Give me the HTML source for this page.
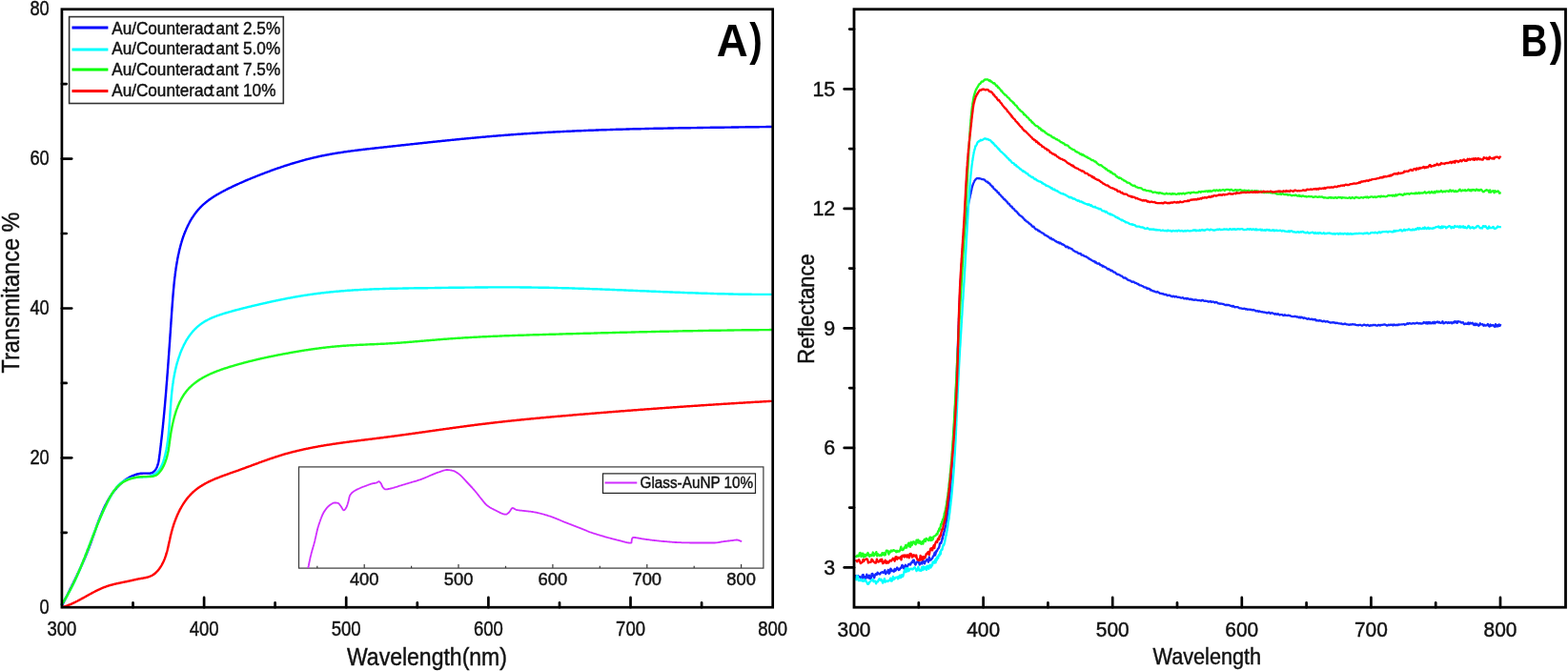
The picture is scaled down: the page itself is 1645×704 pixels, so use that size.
<!DOCTYPE html>
<html><head><meta charset="utf-8"><title>Transmittance and Reflectance spectra</title>
<style>html,body{margin:0;padding:0;background:#fff;width:1645px;height:704px;overflow:hidden}svg{display:block}</style>
</head><body>
<svg width="1645" height="704" viewBox="0 0 1645 704">
<rect width="1645" height="704" fill="#fff"/>
<g font-family="'Liberation Sans', Arial, sans-serif">
<polyline points="65.4,634.6 65.7,634.0 65.9,633.5 66.2,632.9 66.5,632.4 66.8,631.8 67.1,631.3 67.3,630.7 67.6,630.2 67.9,629.6 68.2,629.1 68.5,628.5 68.7,628.0 69.0,627.4 69.3,626.9 69.6,626.3 69.8,625.8 70.1,625.3 70.4,624.7 70.7,624.2 70.9,623.6 71.2,623.1 71.5,622.5 71.7,622.0 72.0,621.5 72.3,620.9 72.6,620.4 72.8,619.8 73.1,619.3 73.4,618.8 73.6,618.2 73.9,617.7 74.2,617.1 74.5,616.6 74.7,616.1 75.0,615.5 75.3,615.0 75.5,614.4 75.8,613.9 76.0,613.4 76.3,612.8 76.6,612.3 76.8,611.8 77.1,611.2 77.4,610.7 77.6,610.1 77.9,609.6 78.2,609.1 78.4,608.5 78.7,608.0 78.9,607.5 79.2,606.9 79.4,606.4 79.7,605.9 80.0,605.3 80.2,604.8 80.5,604.2 80.7,603.7 81.0,603.2 81.2,602.6 81.5,602.1 81.7,601.6 82.0,601.0 82.2,600.5 82.5,600.0 82.8,599.4 83.0,598.9 83.2,598.3 83.5,597.8 83.7,597.3 84.0,596.7 84.2,596.2 84.5,595.6 84.7,595.1 85.0,594.6 85.2,594.0 85.5,593.5 85.7,592.9 85.9,592.4 86.2,591.9 86.4,591.3 86.7,590.8 86.9,590.2 87.1,589.7 87.4,589.1 87.6,588.6 87.9,588.1 88.1,587.5 88.3,587.0 88.6,586.4 88.8,585.9 89.0,585.3 89.3,584.8 89.5,584.2 89.7,583.7 89.9,583.1 90.2,582.6 90.4,582.0 90.6,581.5 90.9,580.9 91.1,580.4 91.3,579.8 91.5,579.3 91.7,578.7 92.0,578.2 92.2,577.6 92.4,577.0 92.6,576.5 92.8,575.9 93.1,575.4 93.3,574.8 93.5,574.3 93.7,573.7 93.9,573.1 94.1,572.6 94.3,572.0 94.6,571.4 94.8,570.9 95.0,570.3 95.2,569.7 95.4,569.2 95.6,568.6 95.8,568.0 96.0,567.5 96.2,566.9 96.4,566.3 96.6,565.7 96.8,565.2 97.0,564.6 97.2,564.0 97.4,563.4 97.6,562.9 97.9,562.3 98.1,561.7 98.3,561.1 98.5,560.6 98.7,560.0 98.9,559.4 99.1,558.8 99.3,558.3 99.5,557.7 99.7,557.1 99.9,556.5 100.1,556.0 100.3,555.4 100.5,554.8 100.7,554.2 100.9,553.7 101.1,553.1 101.3,552.5 101.5,551.9 101.7,551.4 101.9,550.8 102.1,550.2 102.3,549.6 102.5,549.1 102.8,548.5 103.0,547.9 103.2,547.3 103.4,546.8 103.6,546.2 103.8,545.6 104.0,545.1 104.3,544.5 104.5,543.9 104.7,543.4 104.9,542.8 105.1,542.2 105.4,541.7 105.6,541.1 105.8,540.6 106.1,540.0 106.3,539.4 106.5,538.9 106.7,538.3 107.0,537.8 107.2,537.2 107.5,536.7 107.7,536.1 107.9,535.6 108.2,535.0 108.4,534.5 108.7,533.9 108.9,533.4 109.2,532.8 109.4,532.3 109.7,531.7 110.0,531.2 110.2,530.7 110.5,530.1 110.8,529.6 111.0,529.1 111.3,528.6 111.6,528.0 111.9,527.5 112.1,527.0 112.4,526.5 112.7,525.9 113.0,525.4 113.3,524.9 113.6,524.4 113.9,523.9 114.2,523.4 114.5,522.9 114.8,522.4 115.1,521.9 115.4,521.4 115.7,520.9 116.0,520.4 116.3,519.9 116.7,519.4 117.0,518.9 117.3,518.4 117.7,518.0 118.0,517.5 118.3,517.0 118.7,516.5 119.0,516.1 119.4,515.6 119.8,515.1 120.1,514.7 120.5,514.2 120.8,513.8 121.2,513.3 121.6,512.9 122.0,512.4 122.4,512.0 122.7,511.5 123.1,511.1 123.5,510.7 123.9,510.2 124.3,509.8 124.7,509.4 125.2,509.0 125.6,508.5 126.0,508.1 126.4,507.7 126.9,507.3 127.3,506.9 127.7,506.5 128.2,506.2 128.6,505.8 129.1,505.4 129.5,505.0 130.0,504.7 130.4,504.3 130.9,503.9 131.4,503.6 131.9,503.3 132.3,502.9 132.8,502.6 133.3,502.3 133.8,502.0 134.3,501.7 134.8,501.4 135.3,501.1 135.8,500.8 136.3,500.5 136.8,500.2 137.3,500.0 137.9,499.7 138.4,499.5 138.9,499.2 139.5,499.0 140.0,498.8 140.6,498.6 141.1,498.4 141.7,498.2 142.2,498.0 142.8,497.8 143.3,497.7 143.9,497.5 144.5,497.4 145.1,497.3 145.6,497.1 146.2,497.0 146.8,496.9 147.4,496.8 148.0,496.8 148.6,496.7 149.2,496.7 149.8,496.6 150.4,496.6 151.0,496.6 151.7,496.6 152.3,496.6 152.9,496.6 153.5,496.6 154.2,496.6 154.8,496.6 155.4,496.6 156.0,496.6 156.6,496.6 157.2,496.6 157.8,496.5 158.3,496.4 158.8,496.2 159.4,496.1 159.8,495.9 160.3,495.6 160.8,495.3 161.2,495.0 161.6,494.6 162.0,494.2 162.4,493.8 162.7,493.4 163.1,492.9 163.4,492.5 163.7,492.0 164.0,491.5 164.2,491.0 164.5,490.5 164.7,490.0 164.9,489.4 165.1,488.9 165.3,488.3 165.5,487.8 165.7,487.2 165.8,486.6 166.0,486.0 166.1,485.5 166.2,484.9 166.4,484.3 166.5,483.7 166.6,483.1 166.7,482.4 166.8,481.8 166.9,481.2 167.0,480.6 167.1,480.0 167.1,479.4 167.2,478.7 167.3,478.1 167.4,477.5 167.5,476.9 167.5,476.3 167.6,475.7 167.7,475.0 167.8,474.4 167.9,473.8 167.9,473.2 168.0,472.6 168.1,472.0 168.2,471.4 168.2,470.7 168.3,470.1 168.4,469.5 168.5,468.9 168.5,468.3 168.6,467.7 168.7,467.1 168.8,466.5 168.8,465.9 168.9,465.3 169.0,464.6 169.0,464.0 169.1,463.4 169.2,462.8 169.2,462.2 169.3,461.6 169.4,461.0 169.5,460.4 169.5,459.8 169.6,459.2 169.7,458.6 169.7,458.0 169.8,457.4 169.9,456.8 169.9,456.2 170.0,455.6 170.1,455.0 170.1,454.4 170.2,453.8 170.2,453.2 170.3,452.6 170.4,452.0 170.4,451.4 170.5,450.8 170.6,450.2 170.6,449.6 170.7,449.0 170.8,448.4 170.8,447.8 170.9,447.2 170.9,446.6 171.0,446.0 171.1,445.4 171.1,444.8 171.2,444.2 171.2,443.6 171.3,443.0 171.4,442.4 171.4,441.8 171.5,441.2 171.5,440.6 171.6,440.0 171.6,439.4 171.7,438.8 171.8,438.3 171.8,437.7 171.9,437.1 171.9,436.5 172.0,435.9 172.0,435.3 172.1,434.7 172.2,434.1 172.2,433.5 172.3,432.9 172.3,432.3 172.4,431.7 172.4,431.1 172.5,430.5 172.5,429.9 172.6,429.4 172.6,428.8 172.7,428.2 172.7,427.6 172.8,427.0 172.9,426.4 172.9,425.8 173.0,425.2 173.0,424.6 173.1,424.0 173.1,423.4 173.2,422.8 173.2,422.2 173.3,421.6 173.3,421.1 173.4,420.5 173.4,419.9 173.5,419.3 173.5,418.7 173.6,418.1 173.6,417.5 173.7,416.9 173.7,416.3 173.8,415.7 173.8,415.1 173.9,414.5 173.9,413.9 174.0,413.3 174.0,412.8 174.1,412.2 174.1,411.6 174.2,411.0 174.2,410.4 174.3,409.8 174.3,409.2 174.4,408.6 174.4,408.0 174.5,407.4 174.5,406.8 174.5,406.2 174.6,405.6 174.6,405.0 174.7,404.4 174.7,403.8 174.8,403.2 174.8,402.6 174.9,402.0 174.9,401.4 175.0,400.8 175.0,400.3 175.1,399.7 175.1,399.1 175.2,398.5 175.2,397.9 175.3,397.3 175.3,396.7 175.3,396.1 175.4,395.5 175.4,394.9 175.5,394.3 175.5,393.7 175.6,393.1 175.6,392.5 175.7,391.9 175.7,391.3 175.8,390.7 175.8,390.1 175.8,389.5 175.9,388.9 175.9,388.3 176.0,387.7 176.0,387.1 176.1,386.5 176.1,385.9 176.2,385.3 176.2,384.7 176.2,384.1 176.3,383.5 176.3,382.9 176.4,382.3 176.4,381.7 176.5,381.1 176.5,380.5 176.6,379.9 176.6,379.3 176.6,378.7 176.7,378.1 176.7,377.5 176.8,376.9 176.8,376.3 176.9,375.7 176.9,375.1 176.9,374.5 177.0,373.9 177.0,373.3 177.1,372.7 177.1,372.1 177.2,371.5 177.2,370.9 177.2,370.3 177.3,369.7 177.3,369.1 177.4,368.5 177.4,367.9 177.5,367.3 177.5,366.7 177.5,366.1 177.6,365.5 177.6,364.9 177.7,364.3 177.7,363.7 177.8,363.1 177.8,362.5 177.8,361.9 177.9,361.3 177.9,360.7 178.0,360.1 178.0,359.5 178.1,358.9 178.1,358.3 178.1,357.7 178.2,357.1 178.2,356.5 178.3,355.9 178.3,355.3 178.3,354.7 178.4,354.1 178.4,353.5 178.5,352.9 178.5,352.3 178.5,351.7 178.6,351.1 178.6,350.5 178.7,349.9 178.7,349.3 178.8,348.7 178.8,348.1 178.8,347.5 178.9,346.9 178.9,346.2 179.0,345.6 179.0,345.0 179.0,344.4 179.1,343.8 179.1,343.2 179.2,342.6 179.2,342.0 179.2,341.4 179.3,340.8 179.3,340.2 179.4,339.6 179.4,339.0 179.4,338.4 179.5,337.8 179.5,337.2 179.6,336.6 179.6,336.0 179.6,335.4 179.7,334.8 179.7,334.2 179.8,333.6 179.8,333.0 179.9,332.4 179.9,331.8 179.9,331.2 180.0,330.6 180.0,330.0 180.1,329.4 180.1,328.8 180.1,328.2 180.2,327.6 180.2,327.0 180.3,326.4 180.3,325.8 180.4,325.2 180.4,324.6 180.4,324.0 180.5,323.4 180.5,322.8 180.6,322.2 180.6,321.6 180.7,321.0 180.7,320.5 180.7,319.9 180.8,319.3 180.8,318.7 180.9,318.1 180.9,317.5 181.0,316.9 181.0,316.3 181.1,315.7 181.1,315.1 181.2,314.5 181.2,313.9 181.2,313.3 181.3,312.7 181.3,312.1 181.4,311.5 181.4,310.9 181.5,310.3 181.5,309.7 181.6,309.1 181.6,308.5 181.7,308.0 181.7,307.4 181.8,306.8 181.8,306.2 181.9,305.6 181.9,305.0 182.0,304.4 182.0,303.8 182.1,303.2 182.2,302.6 182.2,302.0 182.3,301.5 182.3,300.9 182.4,300.3 182.4,299.7 182.5,299.1 182.5,298.5 182.6,297.9 182.7,297.3 182.7,296.7 182.8,296.1 182.8,295.6 182.9,295.0 183.0,294.4 183.0,293.8 183.1,293.2 183.2,292.6 183.2,292.0 183.3,291.4 183.4,290.8 183.4,290.2 183.5,289.7 183.6,289.1 183.7,288.5 183.7,287.9 183.8,287.3 183.9,286.7 184.0,286.1 184.0,285.5 184.1,284.9 184.2,284.3 184.3,283.8 184.4,283.2 184.4,282.6 184.5,282.0 184.6,281.4 184.7,280.8 184.8,280.2 184.9,279.6 185.0,279.0 185.1,278.4 185.2,277.8 185.3,277.2 185.4,276.6 185.5,276.0 185.6,275.4 185.7,274.8 185.8,274.2 185.9,273.7 186.0,273.1 186.1,272.5 186.2,271.9 186.3,271.3 186.4,270.7 186.6,270.1 186.7,269.5 186.8,268.9 186.9,268.3 187.0,267.7 187.2,267.1 187.3,266.5 187.4,265.9 187.6,265.3 187.7,264.7 187.8,264.1 188.0,263.5 188.1,262.9 188.2,262.3 188.4,261.7 188.5,261.1 188.7,260.5 188.8,259.9 189.0,259.3 189.1,258.8 189.3,258.2 189.4,257.6 189.6,257.0 189.8,256.4 189.9,255.8 190.1,255.2 190.3,254.6 190.4,254.1 190.6,253.5 190.8,252.9 191.0,252.3 191.2,251.7 191.3,251.2 191.5,250.6 191.7,250.0 191.9,249.4 192.1,248.8 192.3,248.3 192.5,247.7 192.7,247.1 192.9,246.6 193.1,246.0 193.3,245.4 193.6,244.9 193.8,244.3 194.0,243.7 194.2,243.2 194.5,242.6 194.7,242.1 194.9,241.5 195.2,241.0 195.4,240.4 195.6,239.9 195.9,239.3 196.1,238.8 196.4,238.2 196.6,237.7 196.9,237.1 197.1,236.6 197.4,236.1 197.7,235.5 198.0,235.0 198.2,234.5 198.5,234.0 198.8,233.4 199.1,232.9 199.4,232.4 199.6,231.9 199.9,231.4 200.2,230.9 200.5,230.4 200.8,229.8 201.1,229.3 201.5,228.8 201.8,228.3 202.1,227.8 202.4,227.4 202.7,226.9 203.1,226.4 203.4,225.9 203.7,225.4 204.1,224.9 204.4,224.5 204.8,224.0 205.1,223.5 205.5,223.1 205.9,222.6 206.2,222.1 206.6,221.7 207.0,221.2 207.3,220.8 207.7,220.3 208.1,219.9 208.5,219.4 208.9,219.0 209.3,218.6 209.7,218.1 210.1,217.7 210.5,217.3 210.9,216.9 211.3,216.5 211.7,216.0 212.2,215.6 212.6,215.2 213.0,214.8 213.5,214.4 213.9,214.0 214.4,213.7 214.8,213.3 215.3,212.9 215.7,212.5 216.2,212.1 216.7,211.8 217.1,211.4 217.6,211.0 218.1,210.7 218.5,210.3 219.0,209.9 219.5,209.6 220.0,209.2 220.5,208.9 221.0,208.5 221.5,208.2 222.0,207.8 222.5,207.5 223.0,207.2 223.5,206.8 224.0,206.5 224.5,206.2 225.0,205.9 225.5,205.5 226.1,205.2 226.6,204.9 227.1,204.6 227.6,204.3 228.1,204.0 228.7,203.7 229.2,203.4 229.7,203.1 230.3,202.8 230.8,202.5 231.3,202.2 231.9,201.9 232.4,201.6 232.9,201.3 233.5,201.0 234.0,200.7 234.6,200.4 235.1,200.1 235.6,199.9 236.2,199.6 236.7,199.3 237.3,199.0 237.8,198.7 238.4,198.5 238.9,198.2 239.4,197.9 240.0,197.7 240.5,197.4 241.1,197.1 241.6,196.9 242.2,196.6 242.7,196.3 243.3,196.1 243.8,195.8 244.3,195.5 244.9,195.3 245.4,195.0 246.0,194.8 246.5,194.5 247.1,194.3 247.6,194.0 248.2,193.8 248.7,193.5 249.3,193.3 249.8,193.0 250.3,192.8 250.9,192.5 251.4,192.3 252.0,192.0 252.5,191.8 253.1,191.6 253.6,191.3 254.2,191.1 254.7,190.8 255.3,190.6 255.8,190.4 256.4,190.1 256.9,189.9 257.5,189.7 258.0,189.4 258.5,189.2 259.1,189.0 259.6,188.7 260.2,188.5 260.7,188.3 261.3,188.0 261.8,187.8 262.4,187.6 262.9,187.3 263.5,187.1 264.0,186.9 264.6,186.7 265.1,186.5 265.7,186.2 266.2,186.0 266.8,185.8 267.3,185.6 267.9,185.3 268.5,185.1 269.0,184.9 269.6,184.7 270.1,184.5 270.7,184.2 271.2,184.0 271.8,183.8 272.3,183.6 272.9,183.4 273.4,183.2 274.0,182.9 274.6,182.7 275.1,182.5 275.7,182.3 276.2,182.1 276.8,181.9 277.3,181.7 277.9,181.4 278.5,181.2 279.0,181.0 279.6,180.8 280.1,180.6 280.7,180.4 281.3,180.2 281.8,180.0 282.4,179.8 282.9,179.6 283.5,179.4 284.1,179.2 284.6,178.9 285.2,178.7 285.8,178.5 286.3,178.3 286.9,178.1 287.4,177.9 288.0,177.7 288.6,177.5 289.1,177.3 289.7,177.1 290.3,176.9 290.8,176.7 291.4,176.5 292.0,176.3 292.5,176.1 293.1,176.0 293.7,175.8 294.2,175.6 294.8,175.4 295.4,175.2 296.0,175.0 296.5,174.8 297.1,174.6 297.7,174.4 298.2,174.2 298.8,174.0 299.4,173.9 299.9,173.7 300.5,173.5 301.1,173.3 301.7,173.1 302.2,172.9 302.8,172.8 303.4,172.6 304.0,172.4 304.5,172.2 305.1,172.0 305.7,171.9 306.2,171.7 306.8,171.5 307.4,171.3 308.0,171.2 308.5,171.0 309.1,170.8 309.7,170.6 310.3,170.5 310.8,170.3 311.4,170.1 312.0,170.0 312.6,169.8 313.2,169.6 313.7,169.5 314.3,169.3 314.9,169.1 315.5,169.0 316.0,168.8 316.6,168.6 317.2,168.5 317.8,168.3 318.4,168.2 318.9,168.0 319.5,167.9 320.1,167.7 320.7,167.5 321.3,167.4 321.8,167.2 322.4,167.1 323.0,166.9 323.6,166.8 324.2,166.6 324.8,166.5 325.3,166.4 325.9,166.2 326.5,166.1 327.1,165.9 327.7,165.8 328.3,165.6 328.8,165.5 329.4,165.4 330.0,165.2 330.6,165.1 331.2,165.0 331.8,164.8 332.3,164.7 332.9,164.6 333.5,164.4 334.1,164.3 334.7,164.2 335.3,164.0 335.9,163.9 336.4,163.8 337.0,163.7 337.6,163.5 338.2,163.4 338.8,163.3 339.4,163.2 340.0,163.1 340.6,163.0 341.1,162.8 341.7,162.7 342.3,162.6 342.9,162.5 343.5,162.4 344.1,162.3 344.7,162.2 345.3,162.1 345.9,161.9 346.4,161.8 347.0,161.7 347.6,161.6 348.2,161.5 348.8,161.4 349.4,161.3 350.0,161.2 350.6,161.1 351.2,161.0 351.8,160.9 352.3,160.8 352.9,160.7 353.5,160.6 354.1,160.5 354.7,160.4 355.3,160.3 355.9,160.2 356.5,160.2 357.1,160.1 357.7,160.0 358.3,159.9 358.9,159.8 359.4,159.7 360.0,159.6 360.6,159.5 361.2,159.4 361.8,159.3 362.4,159.3 363.0,159.2 363.6,159.1 364.2,159.0 364.8,158.9 365.4,158.8 366.0,158.8 366.6,158.7 367.2,158.6 367.8,158.5 368.3,158.4 368.9,158.4 369.5,158.3 370.1,158.2 370.7,158.1 371.3,158.1 371.9,158.0 372.5,157.9 373.1,157.8 373.7,157.8 374.3,157.7 374.9,157.6 375.5,157.5 376.1,157.5 376.7,157.4 377.3,157.3 377.9,157.2 378.5,157.2 379.1,157.1 379.7,157.0 380.2,157.0 380.8,156.9 381.4,156.8 382.0,156.7 382.6,156.7 383.2,156.6 383.8,156.5 384.4,156.5 385.0,156.4 385.6,156.3 386.2,156.3 386.8,156.2 387.4,156.1 388.0,156.1 388.6,156.0 389.2,155.9 389.8,155.9 390.4,155.8 391.0,155.7 391.6,155.7 392.2,155.6 392.8,155.5 393.4,155.5 394.0,155.4 394.6,155.3 395.2,155.3 395.7,155.2 396.3,155.1 396.9,155.1 397.5,155.0 398.1,154.9 398.7,154.9 399.3,154.8 399.9,154.8 400.5,154.7 401.1,154.6 401.7,154.6 402.3,154.5 402.9,154.4 403.5,154.4 404.1,154.3 404.7,154.2 405.3,154.2 405.9,154.1 406.5,154.0 407.1,154.0 407.7,153.9 408.3,153.8 408.9,153.8 409.5,153.7 410.1,153.6 410.7,153.6 411.3,153.5 411.9,153.5 412.5,153.4 413.1,153.3 413.6,153.3 414.2,153.2 414.8,153.1 415.4,153.1 416.0,153.0 416.6,152.9 417.2,152.9 417.8,152.8 418.4,152.7 419.0,152.7 419.6,152.6 420.2,152.5 420.8,152.5 421.4,152.4 422.0,152.3 422.6,152.3 423.2,152.2 423.8,152.2 424.4,152.1 425.0,152.0 425.6,152.0 426.2,151.9 426.8,151.8 427.4,151.8 428.0,151.7 428.6,151.6 429.2,151.6 429.8,151.5 430.3,151.4 430.9,151.4 431.5,151.3 432.1,151.2 432.7,151.2 433.3,151.1 433.9,151.1 434.5,151.0 435.1,150.9 435.7,150.9 436.3,150.8 436.9,150.7 437.5,150.7 438.1,150.6 438.7,150.5 439.3,150.5 439.9,150.4 440.5,150.4 441.1,150.3 441.7,150.2 442.3,150.2 442.9,150.1 443.5,150.0 444.1,150.0 444.7,149.9 445.3,149.8 445.9,149.8 446.5,149.7 447.1,149.7 447.6,149.6 448.2,149.5 448.8,149.5 449.4,149.4 450.0,149.3 450.6,149.3 451.2,149.2 451.8,149.1 452.4,149.1 453.0,149.0 453.6,149.0 454.2,148.9 454.8,148.8 455.4,148.8 456.0,148.7 456.6,148.6 457.2,148.6 457.8,148.5 458.4,148.5 459.0,148.4 459.6,148.3 460.2,148.3 460.8,148.2 461.4,148.2 462.0,148.1 462.6,148.0 463.2,148.0 463.8,147.9 464.4,147.8 465.0,147.8 465.5,147.7 466.1,147.7 466.7,147.6 467.3,147.5 467.9,147.5 468.5,147.4 469.1,147.4 469.7,147.3 470.3,147.2 470.9,147.2 471.5,147.1 472.1,147.1 472.7,147.0 473.3,146.9 473.9,146.9 474.5,146.8 475.1,146.8 475.7,146.7 476.3,146.6 476.9,146.6 477.5,146.5 478.1,146.5 478.7,146.4 479.3,146.3 479.9,146.3 480.5,146.2 481.1,146.2 481.7,146.1 482.3,146.0 482.9,146.0 483.5,145.9 484.0,145.9 484.6,145.8 485.2,145.8 485.8,145.7 486.4,145.6 487.0,145.6 487.6,145.5 488.2,145.5 488.8,145.4 489.4,145.4 490.0,145.3 490.6,145.2 491.2,145.2 491.8,145.1 492.4,145.1 493.0,145.0 493.6,145.0 494.2,144.9 494.8,144.9 495.4,144.8 496.0,144.7 496.6,144.7 497.2,144.6 497.8,144.6 498.4,144.5 499.0,144.5 499.6,144.4 500.2,144.4 500.8,144.3 501.4,144.2 502.0,144.2 502.6,144.1 503.2,144.1 503.8,144.0 504.3,144.0 504.9,143.9 505.5,143.9 506.1,143.8 506.7,143.8 507.3,143.7 507.9,143.7 508.5,143.6 509.1,143.6 509.7,143.5 510.3,143.4 510.9,143.4 511.5,143.3 512.1,143.3 512.7,143.2 513.3,143.2 513.9,143.1 514.5,143.1 515.1,143.0 515.7,143.0 516.3,142.9 516.9,142.9 517.5,142.8 518.1,142.8 518.7,142.7 519.3,142.7 519.9,142.6 520.5,142.6 521.1,142.5 521.7,142.5 522.3,142.4 522.9,142.4 523.5,142.3 524.1,142.3 524.7,142.2 525.3,142.2 525.9,142.1 526.5,142.1 527.1,142.1 527.7,142.0 528.3,142.0 528.8,141.9 529.4,141.9 530.0,141.8 530.6,141.8 531.2,141.7 531.8,141.7 532.4,141.6 533.0,141.6 533.6,141.5 534.2,141.5 534.8,141.5 535.4,141.4 536.0,141.4 536.6,141.3 537.2,141.3 537.8,141.2 538.4,141.2 539.0,141.1 539.6,141.1 540.2,141.1 540.8,141.0 541.4,141.0 542.0,140.9 542.6,140.9 543.2,140.8 543.8,140.8 544.4,140.8 545.0,140.7 545.6,140.7 546.2,140.6 546.8,140.6 547.4,140.5 548.0,140.5 548.6,140.5 549.2,140.4 549.8,140.4 550.4,140.3 551.0,140.3 551.6,140.3 552.2,140.2 552.8,140.2 553.4,140.1 554.0,140.1 554.6,140.1 555.2,140.0 555.8,140.0 556.4,140.0 557.0,139.9 557.6,139.9 558.2,139.8 558.8,139.8 559.4,139.8 560.0,139.7 560.6,139.7 561.2,139.7 561.8,139.6 562.4,139.6 563.0,139.5 563.5,139.5 564.1,139.5 564.7,139.4 565.3,139.4 565.9,139.4 566.5,139.3 567.1,139.3 567.7,139.3 568.3,139.2 568.9,139.2 569.5,139.1 570.1,139.1 570.7,139.1 571.3,139.0 571.9,139.0 572.5,139.0 573.1,138.9 573.7,138.9 574.3,138.9 574.9,138.8 575.5,138.8 576.1,138.8 576.7,138.7 577.3,138.7 577.9,138.7 578.5,138.6 579.1,138.6 579.7,138.6 580.3,138.5 580.9,138.5 581.5,138.5 582.1,138.5 582.7,138.4 583.3,138.4 583.9,138.4 584.5,138.3 585.1,138.3 585.7,138.3 586.3,138.2 586.9,138.2 587.5,138.2 588.1,138.1 588.7,138.1 589.3,138.1 589.9,138.1 590.5,138.0 591.1,138.0 591.7,138.0 592.3,137.9 592.9,137.9 593.5,137.9 594.1,137.9 594.7,137.8 595.3,137.8 595.9,137.8 596.5,137.7 597.1,137.7 597.7,137.7 598.3,137.7 598.9,137.6 599.5,137.6 600.1,137.6 600.7,137.5 601.3,137.5 601.9,137.5 602.5,137.5 603.1,137.4 603.7,137.4 604.3,137.4 604.9,137.4 605.5,137.3 606.1,137.3 606.7,137.3 607.3,137.3 607.9,137.2 608.5,137.2 609.1,137.2 609.7,137.2 610.3,137.1 610.9,137.1 611.5,137.1 612.1,137.1 612.7,137.0 613.3,137.0 613.9,137.0 614.5,137.0 615.1,136.9 615.7,136.9 616.3,136.9 616.9,136.9 617.5,136.8 618.1,136.8 618.7,136.8 619.3,136.8 619.9,136.7 620.5,136.7 621.1,136.7 621.7,136.7 622.3,136.7 622.9,136.6 623.5,136.6 624.1,136.6 624.7,136.6 625.3,136.5 625.9,136.5 626.5,136.5 627.1,136.5 627.7,136.5 628.3,136.4 628.9,136.4 629.5,136.4 630.1,136.4 630.7,136.4 631.3,136.3 631.9,136.3 632.5,136.3 633.1,136.3 633.7,136.3 634.3,136.2 634.9,136.2 635.5,136.2 636.1,136.2 636.7,136.1 637.3,136.1 637.9,136.1 638.5,136.1 639.1,136.1 639.7,136.1 640.3,136.0 640.9,136.0 641.5,136.0 642.1,136.0 642.7,136.0 643.3,135.9 643.9,135.9 644.5,135.9 645.1,135.9 645.7,135.9 646.3,135.8 646.9,135.8 647.5,135.8 648.1,135.8 648.7,135.8 649.3,135.8 649.9,135.7 650.5,135.7 651.1,135.7 651.7,135.7 652.3,135.7 652.9,135.7 653.5,135.6 654.1,135.6 654.7,135.6 655.3,135.6 655.9,135.6 656.5,135.6 657.1,135.5 657.7,135.5 658.3,135.5 658.9,135.5 659.5,135.5 660.1,135.5 660.7,135.4 661.3,135.4 661.9,135.4 662.5,135.4 663.1,135.4 663.7,135.4 664.3,135.3 664.9,135.3 665.5,135.3 666.1,135.3 666.7,135.3 667.3,135.3 667.9,135.3 668.5,135.2 669.1,135.2 669.7,135.2 670.3,135.2 670.9,135.2 671.5,135.2 672.1,135.2 672.7,135.1 673.3,135.1 673.9,135.1 674.5,135.1 675.1,135.1 675.7,135.1 676.3,135.1 676.9,135.0 677.5,135.0 678.1,135.0 678.7,135.0 679.3,135.0 679.9,135.0 680.5,135.0 681.1,134.9 681.7,134.9 682.3,134.9 682.9,134.9 683.5,134.9 684.1,134.9 684.7,134.9 685.3,134.9 685.9,134.8 686.5,134.8 687.1,134.8 687.7,134.8 688.3,134.8 688.9,134.8 689.5,134.8 690.1,134.8 690.7,134.7 691.3,134.7 691.9,134.7 692.5,134.7 693.1,134.7 693.7,134.7 694.3,134.7 694.9,134.7 695.5,134.7 696.1,134.6 696.7,134.6 697.3,134.6 697.9,134.6 698.5,134.6 699.1,134.6 699.7,134.6 700.3,134.6 700.9,134.5 701.5,134.5 702.1,134.5 702.7,134.5 703.3,134.5 703.9,134.5 704.5,134.5 705.1,134.5 705.7,134.5 706.3,134.5 706.9,134.4 707.5,134.4 708.1,134.4 708.7,134.4 709.3,134.4 709.9,134.4 710.5,134.4 711.1,134.4 711.7,134.4 712.3,134.3 712.9,134.3 713.5,134.3 714.1,134.3 714.7,134.3 715.3,134.3 715.9,134.3 716.5,134.3 717.1,134.3 717.7,134.3 718.3,134.2 718.9,134.2 719.5,134.2 720.1,134.2 720.7,134.2 721.3,134.2 721.9,134.2 722.5,134.2 723.1,134.2 723.7,134.2 724.3,134.2 724.9,134.1 725.5,134.1 726.1,134.1 726.7,134.1 727.3,134.1 727.9,134.1 728.5,134.1 729.1,134.1 729.7,134.1 730.3,134.1 730.9,134.1 731.5,134.0 732.1,134.0 732.7,134.0 733.3,134.0 733.9,134.0 734.5,134.0 735.1,134.0 735.7,134.0 736.3,134.0 736.9,134.0 737.5,134.0 738.1,133.9 738.7,133.9 739.3,133.9 739.9,133.9 740.5,133.9 741.1,133.9 741.7,133.9 742.3,133.9 742.9,133.9 743.5,133.9 744.1,133.9 744.7,133.9 745.3,133.8 745.9,133.8 746.5,133.8 747.1,133.8 747.7,133.8 748.3,133.8 748.9,133.8 749.5,133.8 750.1,133.8 750.7,133.8 751.3,133.8 751.9,133.8 752.5,133.7 753.1,133.7 753.7,133.7 754.3,133.7 754.9,133.7 755.5,133.7 756.1,133.7 756.7,133.7 757.3,133.7 757.9,133.7 758.5,133.7 759.1,133.7 759.7,133.7 760.3,133.6 760.9,133.6 761.5,133.6 762.1,133.6 762.7,133.6 763.3,133.6 763.9,133.6 764.5,133.6 765.1,133.6 765.7,133.6 766.3,133.6 766.9,133.6 767.5,133.5 768.1,133.5 768.7,133.5 769.3,133.5 769.9,133.5 770.5,133.5 771.1,133.5 771.7,133.5 772.3,133.5 772.9,133.5 773.5,133.5 774.1,133.5 774.7,133.5 775.3,133.4 775.9,133.4 776.5,133.4 777.1,133.4 777.7,133.4 778.3,133.4 778.9,133.4 779.5,133.4 780.1,133.4 780.7,133.4 781.3,133.4 781.8,133.4 782.4,133.3 783.0,133.3 783.6,133.3 784.2,133.3 784.8,133.3 785.4,133.3 786.0,133.3 786.6,133.3 787.2,133.3 787.8,133.3 788.4,133.3 789.0,133.3 789.6,133.2 790.2,133.2 790.8,133.2 791.4,133.2 792.0,133.2 792.6,133.2 793.2,133.2 793.8,133.2 794.4,133.2 795.0,133.2 795.6,133.2 796.2,133.2 796.8,133.1 797.4,133.1 798.0,133.1 798.6,133.1 799.2,133.1 799.8,133.1 800.4,133.1 801.0,133.1 801.6,133.1 802.2,133.1 802.8,133.1 803.4,133.1 804.0,133.0 804.6,133.0 805.2,133.0 805.8,133.0 806.4,133.0 807.0,133.0 807.6,133.0 808.2,133.0 808.8,133.0 809.4,133.0" fill="none" stroke="#0000ff" stroke-width="2.4" stroke-linejoin="round" stroke-linecap="round"/>
<polyline points="64.7,634.2 65.0,633.7 65.3,633.2 65.7,632.7 66.0,632.2 66.3,631.6 66.7,631.1 67.0,630.6 67.3,630.1 67.6,629.5 68.0,629.0 68.3,628.5 68.6,628.0 68.9,627.4 69.2,626.9 69.5,626.4 69.8,625.9 70.1,625.3 70.5,624.8 70.8,624.3 71.1,623.7 71.4,623.2 71.6,622.7 71.9,622.2 72.2,621.6 72.5,621.1 72.8,620.6 73.1,620.0 73.4,619.5 73.7,619.0 74.0,618.4 74.2,617.9 74.5,617.4 74.8,616.8 75.1,616.3 75.3,615.7 75.6,615.2 75.9,614.7 76.2,614.1 76.4,613.6 76.7,613.1 77.0,612.5 77.2,612.0 77.5,611.4 77.8,610.9 78.0,610.3 78.3,609.8 78.5,609.3 78.8,608.7 79.0,608.2 79.3,607.6 79.5,607.1 79.8,606.5 80.0,606.0 80.3,605.5 80.5,604.9 80.8,604.4 81.0,603.8 81.3,603.3 81.5,602.7 81.8,602.2 82.0,601.6 82.2,601.1 82.5,600.5 82.7,600.0 82.9,599.4 83.2,598.9 83.4,598.3 83.7,597.8 83.9,597.2 84.1,596.7 84.3,596.1 84.6,595.6 84.8,595.0 85.0,594.5 85.3,593.9 85.5,593.4 85.7,592.8 85.9,592.3 86.2,591.7 86.4,591.2 86.6,590.6 86.8,590.1 87.1,589.5 87.3,588.9 87.5,588.4 87.7,587.8 87.9,587.3 88.2,586.7 88.4,586.2 88.6,585.6 88.8,585.1 89.0,584.5 89.2,583.9 89.5,583.4 89.7,582.8 89.9,582.3 90.1,581.7 90.3,581.2 90.5,580.6 90.7,580.1 91.0,579.5 91.2,578.9 91.4,578.4 91.6,577.8 91.8,577.3 92.0,576.7 92.2,576.2 92.4,575.6 92.7,575.0 92.9,574.5 93.1,573.9 93.3,573.4 93.5,572.8 93.7,572.2 93.9,571.7 94.1,571.1 94.3,570.6 94.6,570.0 94.8,569.5 95.0,568.9 95.2,568.3 95.4,567.8 95.6,567.2 95.8,566.7 96.0,566.1 96.3,565.5 96.5,565.0 96.7,564.4 96.9,563.9 97.1,563.3 97.3,562.8 97.5,562.2 97.8,561.6 98.0,561.1 98.2,560.5 98.4,560.0 98.6,559.4 98.8,558.8 99.0,558.3 99.3,557.7 99.5,557.2 99.7,556.6 99.9,556.1 100.1,555.5 100.4,554.9 100.6,554.4 100.8,553.8 101.0,553.3 101.3,552.7 101.5,552.2 101.7,551.6 101.9,551.0 102.2,550.5 102.4,549.9 102.6,549.4 102.8,548.8 103.1,548.3 103.3,547.7 103.5,547.2 103.8,546.6 104.0,546.0 104.2,545.5 104.5,544.9 104.7,544.4 104.9,543.8 105.2,543.3 105.4,542.7 105.6,542.2 105.9,541.6 106.1,541.1 106.4,540.5 106.6,540.0 106.9,539.4 107.1,538.9 107.3,538.3 107.6,537.8 107.8,537.2 108.1,536.7 108.4,536.1 108.6,535.6 108.9,535.0 109.1,534.5 109.4,533.9 109.6,533.4 109.9,532.8 110.2,532.3 110.4,531.7 110.7,531.2 110.9,530.6 111.2,530.1 111.5,529.5 111.8,529.0 112.0,528.4 112.3,527.9 112.6,527.3 112.8,526.8 113.1,526.3 113.4,525.7 113.7,525.2 114.0,524.6 114.3,524.1 114.5,523.5 114.8,523.0 115.1,522.5 115.4,521.9 115.7,521.4 116.0,520.9 116.3,520.3 116.6,519.8 116.9,519.3 117.2,518.7 117.5,518.2 117.9,517.7 118.2,517.2 118.5,516.7 118.8,516.2 119.1,515.7 119.5,515.2 119.8,514.7 120.2,514.2 120.5,513.7 120.9,513.2 121.2,512.7 121.6,512.3 121.9,511.8 122.3,511.4 122.7,510.9 123.1,510.5 123.5,510.0 123.9,509.6 124.2,509.2 124.7,508.8 125.1,508.4 125.5,508.0 125.9,507.6 126.3,507.2 126.8,506.9 127.2,506.5 127.7,506.2 128.1,505.8 128.6,505.5 129.1,505.2 129.5,504.9 130.0,504.6 130.5,504.3 131.0,504.1 131.5,503.8 132.1,503.6 132.6,503.3 133.1,503.1 133.7,502.9 134.2,502.7 134.8,502.5 135.3,502.3 135.9,502.2 136.5,502.0 137.1,501.9 137.7,501.8 138.3,501.6 138.9,501.5 139.5,501.4 140.1,501.3 140.7,501.2 141.3,501.1 141.9,501.1 142.6,501.0 143.2,500.9 143.8,500.9 144.5,500.8 145.1,500.8 145.7,500.7 146.4,500.7 147.0,500.6 147.6,500.6 148.3,500.5 148.9,500.5 149.6,500.5 150.2,500.4 150.8,500.4 151.4,500.3 152.1,500.3 152.7,500.2 153.3,500.2 153.9,500.1 154.5,500.0 155.1,500.0 155.7,499.9 156.3,499.8 156.8,499.6 157.4,499.5 157.9,499.4 158.5,499.2 159.0,499.0 159.5,498.9 160.0,498.7 160.5,498.4 161.0,498.2 161.5,498.0 161.9,497.7 162.4,497.4 162.8,497.1 163.2,496.8 163.6,496.5 164.0,496.1 164.4,495.8 164.8,495.4 165.2,495.0 165.6,494.6 165.9,494.2 166.3,493.8 166.6,493.4 166.9,492.9 167.2,492.5 167.5,492.0 167.8,491.6 168.1,491.1 168.4,490.6 168.7,490.1 169.0,489.6 169.2,489.1 169.5,488.6 169.7,488.0 170.0,487.5 170.2,487.0 170.4,486.4 170.6,485.9 170.8,485.3 171.1,484.7 171.3,484.2 171.5,483.6 171.6,483.0 171.8,482.4 172.0,481.9 172.2,481.3 172.4,480.7 172.5,480.1 172.7,479.5 172.9,478.9 173.0,478.3 173.2,477.7 173.3,477.1 173.5,476.5 173.6,475.9 173.7,475.3 173.9,474.7 174.0,474.1 174.1,473.5 174.3,472.9 174.4,472.3 174.5,471.7 174.6,471.2 174.7,470.6 174.8,470.0 174.9,469.4 175.0,468.8 175.2,468.2 175.3,467.5 175.4,466.9 175.4,466.3 175.5,465.7 175.6,465.1 175.7,464.5 175.8,463.9 175.9,463.3 176.0,462.7 176.1,462.1 176.1,461.5 176.2,460.9 176.3,460.3 176.4,459.7 176.4,459.1 176.5,458.5 176.6,457.9 176.6,457.3 176.7,456.7 176.8,456.1 176.8,455.5 176.9,454.9 176.9,454.3 177.0,453.7 177.0,453.1 177.1,452.5 177.2,451.9 177.2,451.3 177.3,450.7 177.3,450.1 177.4,449.5 177.4,448.9 177.5,448.3 177.5,447.7 177.6,447.1 177.6,446.5 177.6,445.9 177.7,445.3 177.7,444.7 177.8,444.1 177.8,443.5 177.9,442.9 177.9,442.3 178.0,441.7 178.0,441.1 178.0,440.5 178.1,439.9 178.1,439.3 178.2,438.7 178.2,438.1 178.2,437.5 178.3,436.9 178.3,436.3 178.4,435.7 178.4,435.1 178.4,434.5 178.5,433.9 178.5,433.3 178.6,432.7 178.6,432.1 178.6,431.5 178.7,430.9 178.7,430.3 178.8,429.7 178.8,429.1 178.9,428.5 178.9,428.0 178.9,427.4 179.0,426.8 179.0,426.2 179.1,425.6 179.1,425.0 179.2,424.4 179.2,423.8 179.2,423.2 179.3,422.6 179.3,422.0 179.4,421.4 179.4,420.8 179.5,420.2 179.5,419.6 179.6,419.0 179.6,418.4 179.7,417.8 179.7,417.3 179.8,416.7 179.8,416.1 179.9,415.5 179.9,414.9 180.0,414.3 180.1,413.7 180.1,413.1 180.2,412.5 180.2,411.9 180.3,411.3 180.4,410.7 180.4,410.1 180.5,409.5 180.6,409.0 180.6,408.4 180.7,407.8 180.8,407.2 180.8,406.6 180.9,406.0 181.0,405.4 181.1,404.8 181.2,404.2 181.2,403.6 181.3,403.0 181.4,402.4 181.5,401.9 181.6,401.3 181.7,400.7 181.7,400.1 181.8,399.5 181.9,398.9 182.0,398.3 182.1,397.7 182.2,397.1 182.3,396.5 182.4,395.9 182.5,395.4 182.6,394.8 182.7,394.2 182.9,393.6 183.0,393.0 183.1,392.4 183.2,391.8 183.3,391.2 183.4,390.6 183.6,390.0 183.7,389.5 183.8,388.9 183.9,388.3 184.1,387.7 184.2,387.1 184.4,386.5 184.5,385.9 184.6,385.3 184.8,384.7 184.9,384.1 185.1,383.6 185.2,383.0 185.4,382.4 185.5,381.8 185.7,381.2 185.9,380.6 186.0,380.0 186.2,379.4 186.4,378.9 186.6,378.3 186.7,377.7 186.9,377.1 187.1,376.5 187.3,375.9 187.5,375.4 187.7,374.8 187.9,374.2 188.1,373.6 188.3,373.1 188.5,372.5 188.7,371.9 188.9,371.3 189.1,370.8 189.3,370.2 189.5,369.6 189.7,369.1 190.0,368.5 190.2,367.9 190.4,367.4 190.7,366.8 190.9,366.3 191.2,365.7 191.4,365.2 191.6,364.6 191.9,364.1 192.2,363.5 192.4,363.0 192.7,362.5 192.9,361.9 193.2,361.4 193.5,360.9 193.8,360.3 194.1,359.8 194.3,359.3 194.6,358.8 194.9,358.2 195.2,357.7 195.5,357.2 195.8,356.7 196.1,356.2 196.4,355.7 196.8,355.2 197.1,354.7 197.4,354.2 197.7,353.7 198.1,353.2 198.4,352.7 198.7,352.3 199.1,351.8 199.4,351.3 199.8,350.8 200.1,350.4 200.5,349.9 200.9,349.5 201.2,349.0 201.6,348.6 202.0,348.1 202.4,347.7 202.7,347.2 203.1,346.8 203.5,346.4 203.9,346.0 204.3,345.5 204.7,345.1 205.2,344.7 205.6,344.3 206.0,343.9 206.4,343.5 206.8,343.1 207.3,342.7 207.7,342.3 208.2,342.0 208.6,341.6 209.1,341.2 209.5,340.9 210.0,340.5 210.5,340.2 210.9,339.8 211.4,339.5 211.9,339.1 212.4,338.8 212.9,338.5 213.4,338.2 213.9,337.8 214.4,337.5 214.9,337.2 215.4,336.9 215.9,336.6 216.5,336.3 217.0,336.1 217.5,335.8 218.1,335.5 218.6,335.2 219.1,335.0 219.7,334.7 220.2,334.4 220.8,334.2 221.3,333.9 221.9,333.7 222.5,333.4 223.0,333.2 223.6,333.0 224.2,332.7 224.7,332.5 225.3,332.3 225.9,332.0 226.4,331.8 227.0,331.6 227.6,331.4 228.2,331.2 228.8,331.0 229.3,330.8 229.9,330.6 230.5,330.4 231.1,330.2 231.7,330.0 232.3,329.8 232.9,329.6 233.5,329.4 234.1,329.2 234.6,329.0 235.2,328.9 235.8,328.7 236.4,328.5 237.0,328.3 237.6,328.2 238.2,328.0 238.8,327.8 239.4,327.6 240.0,327.5 240.5,327.3 241.1,327.1 241.7,327.0 242.3,326.8 242.9,326.6 243.5,326.5 244.0,326.3 244.6,326.2 245.2,326.0 245.8,325.8 246.4,325.7 247.0,325.5 247.5,325.4 248.1,325.2 248.7,325.1 249.3,324.9 249.8,324.8 250.4,324.6 251.0,324.5 251.6,324.3 252.2,324.2 252.7,324.0 253.3,323.9 253.9,323.7 254.5,323.6 255.0,323.4 255.6,323.3 256.2,323.1 256.8,323.0 257.3,322.9 257.9,322.7 258.5,322.6 259.1,322.4 259.6,322.3 260.2,322.1 260.8,322.0 261.4,321.9 261.9,321.7 262.5,321.6 263.1,321.5 263.7,321.3 264.2,321.2 264.8,321.0 265.4,320.9 266.0,320.8 266.5,320.6 267.1,320.5 267.7,320.4 268.3,320.2 268.9,320.1 269.4,320.0 270.0,319.8 270.6,319.7 271.2,319.6 271.7,319.4 272.3,319.3 272.9,319.2 273.5,319.0 274.1,318.9 274.6,318.8 275.2,318.6 275.8,318.5 276.4,318.4 277.0,318.2 277.6,318.1 278.1,318.0 278.7,317.8 279.3,317.7 279.9,317.6 280.5,317.4 281.0,317.3 281.6,317.2 282.2,317.1 282.8,316.9 283.4,316.8 284.0,316.7 284.6,316.5 285.1,316.4 285.7,316.3 286.3,316.2 286.9,316.0 287.5,315.9 288.1,315.8 288.7,315.7 289.2,315.5 289.8,315.4 290.4,315.3 291.0,315.2 291.6,315.1 292.2,314.9 292.8,314.8 293.4,314.7 293.9,314.6 294.5,314.4 295.1,314.3 295.7,314.2 296.3,314.1 296.9,314.0 297.5,313.9 298.1,313.7 298.7,313.6 299.2,313.5 299.8,313.4 300.4,313.3 301.0,313.2 301.6,313.0 302.2,312.9 302.8,312.8 303.4,312.7 304.0,312.6 304.6,312.5 305.1,312.4 305.7,312.3 306.3,312.2 306.9,312.1 307.5,311.9 308.1,311.8 308.7,311.7 309.3,311.6 309.9,311.5 310.5,311.4 311.1,311.3 311.7,311.2 312.3,311.1 312.8,311.0 313.4,310.9 314.0,310.8 314.6,310.7 315.2,310.6 315.8,310.5 316.4,310.4 317.0,310.3 317.6,310.2 318.2,310.1 318.8,310.0 319.4,309.9 320.0,309.8 320.6,309.7 321.2,309.6 321.8,309.6 322.3,309.5 322.9,309.4 323.5,309.3 324.1,309.2 324.7,309.1 325.3,309.0 325.9,308.9 326.5,308.9 327.1,308.8 327.7,308.7 328.3,308.6 328.9,308.5 329.5,308.4 330.1,308.4 330.7,308.3 331.3,308.2 331.9,308.1 332.5,308.0 333.1,308.0 333.6,307.9 334.2,307.8 334.8,307.7 335.4,307.7 336.0,307.6 336.6,307.5 337.2,307.4 337.8,307.4 338.4,307.3 339.0,307.2 339.6,307.2 340.2,307.1 340.8,307.0 341.4,307.0 342.0,306.9 342.6,306.8 343.2,306.8 343.8,306.7 344.4,306.6 345.0,306.6 345.6,306.5 346.2,306.5 346.8,306.4 347.4,306.3 348.0,306.3 348.6,306.2 349.1,306.2 349.7,306.1 350.3,306.0 350.9,306.0 351.5,305.9 352.1,305.9 352.7,305.8 353.3,305.8 353.9,305.7 354.5,305.7 355.1,305.6 355.7,305.6 356.3,305.5 356.9,305.5 357.5,305.4 358.1,305.4 358.7,305.3 359.3,305.3 359.9,305.2 360.5,305.2 361.1,305.1 361.7,305.1 362.3,305.0 362.9,305.0 363.5,304.9 364.1,304.9 364.7,304.8 365.3,304.8 365.9,304.8 366.5,304.7 367.1,304.7 367.7,304.6 368.3,304.6 368.9,304.6 369.5,304.5 370.1,304.5 370.7,304.4 371.3,304.4 371.9,304.4 372.5,304.3 373.1,304.3 373.6,304.3 374.2,304.2 374.8,304.2 375.4,304.2 376.0,304.1 376.6,304.1 377.2,304.1 377.8,304.0 378.4,304.0 379.0,304.0 379.6,303.9 380.2,303.9 380.8,303.9 381.4,303.8 382.0,303.8 382.6,303.8 383.2,303.7 383.8,303.7 384.4,303.7 385.0,303.7 385.6,303.6 386.2,303.6 386.8,303.6 387.4,303.6 388.0,303.5 388.6,303.5 389.2,303.5 389.8,303.5 390.4,303.4 391.0,303.4 391.6,303.4 392.2,303.4 392.8,303.3 393.4,303.3 394.0,303.3 394.6,303.3 395.2,303.3 395.8,303.2 396.4,303.2 397.0,303.2 397.6,303.2 398.2,303.1 398.8,303.1 399.4,303.1 400.0,303.1 400.6,303.1 401.2,303.1 401.8,303.0 402.4,303.0 403.0,303.0 403.6,303.0 404.2,303.0 404.8,302.9 405.4,302.9 406.0,302.9 406.6,302.9 407.2,302.9 407.8,302.9 408.4,302.9 409.0,302.8 409.6,302.8 410.2,302.8 410.8,302.8 411.4,302.8 412.0,302.8 412.6,302.7 413.2,302.7 413.8,302.7 414.4,302.7 415.0,302.7 415.6,302.7 416.2,302.7 416.8,302.7 417.4,302.6 418.0,302.6 418.6,302.6 419.2,302.6 419.8,302.6 420.4,302.6 421.0,302.6 421.6,302.6 422.2,302.6 422.8,302.5 423.4,302.5 424.0,302.5 424.6,302.5 425.2,302.5 425.8,302.5 426.4,302.5 427.0,302.5 427.6,302.5 428.2,302.5 428.8,302.4 429.4,302.4 430.0,302.4 430.6,302.4 431.2,302.4 431.8,302.4 432.4,302.4 433.0,302.4 433.6,302.4 434.2,302.4 434.8,302.3 435.4,302.3 436.0,302.3 436.6,302.3 437.2,302.3 437.8,302.3 438.4,302.3 439.0,302.3 439.6,302.3 440.2,302.3 440.8,302.3 441.4,302.3 442.0,302.2 442.6,302.2 443.2,302.2 443.8,302.2 444.4,302.2 445.0,302.2 445.6,302.2 446.2,302.2 446.8,302.2 447.4,302.2 448.0,302.2 448.6,302.2 449.2,302.1 449.8,302.1 450.4,302.1 451.0,302.1 451.6,302.1 452.2,302.1 452.8,302.1 453.4,302.1 454.0,302.1 454.6,302.1 455.2,302.1 455.8,302.1 456.4,302.0 457.0,302.0 457.6,302.0 458.2,302.0 458.8,302.0 459.4,302.0 460.0,302.0 460.6,302.0 461.2,302.0 461.8,302.0 462.4,302.0 463.0,302.0 463.6,301.9 464.2,301.9 464.8,301.9 465.4,301.9 466.0,301.9 466.6,301.9 467.2,301.9 467.8,301.9 468.4,301.9 469.0,301.9 469.6,301.9 470.2,301.9 470.8,301.8 471.4,301.8 472.0,301.8 472.6,301.8 473.2,301.8 473.8,301.8 474.4,301.8 475.0,301.8 475.6,301.8 476.2,301.8 476.8,301.8 477.4,301.8 478.0,301.8 478.6,301.8 479.2,301.7 479.8,301.7 480.4,301.7 481.0,301.7 481.6,301.7 482.2,301.7 482.8,301.7 483.4,301.7 484.0,301.7 484.6,301.7 485.2,301.7 485.8,301.7 486.4,301.7 487.0,301.7 487.6,301.6 488.2,301.6 488.8,301.6 489.4,301.6 490.0,301.6 490.6,301.6 491.2,301.6 491.8,301.6 492.4,301.6 493.0,301.6 493.6,301.6 494.2,301.6 494.8,301.6 495.4,301.6 496.0,301.6 496.6,301.6 497.2,301.6 497.8,301.6 498.4,301.5 499.0,301.5 499.6,301.5 500.2,301.5 500.8,301.5 501.4,301.5 502.0,301.5 502.6,301.5 503.2,301.5 503.8,301.5 504.4,301.5 505.0,301.5 505.6,301.5 506.2,301.5 506.8,301.5 507.4,301.5 508.0,301.5 508.6,301.5 509.2,301.5 509.8,301.5 510.4,301.5 511.0,301.5 511.6,301.5 512.2,301.4 512.8,301.4 513.4,301.4 514.0,301.4 514.6,301.4 515.2,301.4 515.8,301.4 516.4,301.4 517.0,301.4 517.6,301.4 518.2,301.4 518.8,301.4 519.4,301.4 520.0,301.4 520.6,301.4 521.2,301.4 521.8,301.4 522.4,301.4 523.0,301.4 523.6,301.4 524.2,301.4 524.8,301.4 525.4,301.4 526.0,301.4 526.6,301.4 527.2,301.4 527.8,301.4 528.4,301.4 529.0,301.4 529.6,301.4 530.2,301.4 530.8,301.4 531.4,301.4 532.0,301.4 532.6,301.4 533.2,301.4 533.8,301.4 534.4,301.4 535.0,301.4 535.6,301.4 536.2,301.4 536.8,301.4 537.4,301.4 538.0,301.4 538.6,301.4 539.2,301.4 539.8,301.4 540.4,301.4 541.0,301.4 541.6,301.4 542.2,301.4 542.8,301.4 543.4,301.4 544.0,301.4 544.6,301.4 545.2,301.4 545.8,301.5 546.4,301.5 547.0,301.5 547.6,301.5 548.2,301.5 548.8,301.5 549.4,301.5 550.0,301.5 550.6,301.5 551.2,301.5 551.8,301.5 552.4,301.5 553.0,301.5 553.6,301.5 554.2,301.5 554.8,301.5 555.4,301.5 556.0,301.5 556.6,301.5 557.2,301.5 557.8,301.6 558.4,301.6 559.0,301.6 559.6,301.6 560.2,301.6 560.8,301.6 561.4,301.6 562.0,301.6 562.6,301.6 563.2,301.6 563.8,301.6 564.4,301.6 565.0,301.7 565.6,301.7 566.2,301.7 566.8,301.7 567.4,301.7 568.0,301.7 568.6,301.7 569.2,301.7 569.8,301.7 570.4,301.7 571.0,301.7 571.6,301.8 572.2,301.8 572.8,301.8 573.4,301.8 574.0,301.8 574.6,301.8 575.2,301.8 575.8,301.8 576.4,301.9 577.0,301.9 577.6,301.9 578.2,301.9 578.8,301.9 579.4,301.9 580.0,301.9 580.6,301.9 581.2,302.0 581.8,302.0 582.4,302.0 583.0,302.0 583.6,302.0 584.2,302.0 584.8,302.0 585.4,302.1 586.0,302.1 586.6,302.1 587.2,302.1 587.8,302.1 588.4,302.1 589.0,302.1 589.6,302.2 590.2,302.2 590.8,302.2 591.4,302.2 592.0,302.2 592.6,302.2 593.2,302.3 593.8,302.3 594.4,302.3 595.0,302.3 595.6,302.3 596.2,302.3 596.8,302.4 597.4,302.4 598.0,302.4 598.6,302.4 599.2,302.4 599.8,302.4 600.4,302.5 601.0,302.5 601.6,302.5 602.2,302.5 602.8,302.5 603.4,302.6 604.0,302.6 604.6,302.6 605.2,302.6 605.8,302.6 606.4,302.6 607.0,302.7 607.6,302.7 608.2,302.7 608.8,302.7 609.4,302.7 610.0,302.8 610.6,302.8 611.2,302.8 611.8,302.8 612.4,302.8 613.0,302.9 613.6,302.9 614.2,302.9 614.8,302.9 615.4,302.9 616.0,303.0 616.6,303.0 617.2,303.0 617.8,303.0 618.4,303.0 619.0,303.1 619.6,303.1 620.2,303.1 620.8,303.1 621.4,303.2 622.0,303.2 622.6,303.2 623.2,303.2 623.8,303.2 624.4,303.3 625.0,303.3 625.6,303.3 626.2,303.3 626.8,303.4 627.4,303.4 628.0,303.4 628.6,303.4 629.2,303.4 629.8,303.5 630.4,303.5 631.0,303.5 631.6,303.5 632.2,303.6 632.7,303.6 633.3,303.6 633.9,303.6 634.5,303.6 635.1,303.7 635.7,303.7 636.3,303.7 636.9,303.7 637.5,303.8 638.1,303.8 638.7,303.8 639.3,303.8 639.9,303.9 640.5,303.9 641.1,303.9 641.7,303.9 642.3,304.0 642.9,304.0 643.5,304.0 644.1,304.0 644.7,304.0 645.3,304.1 645.9,304.1 646.5,304.1 647.1,304.1 647.7,304.2 648.3,304.2 648.9,304.2 649.5,304.2 650.1,304.3 650.7,304.3 651.3,304.3 651.9,304.3 652.5,304.4 653.1,304.4 653.7,304.4 654.3,304.4 654.9,304.5 655.5,304.5 656.1,304.5 656.7,304.5 657.3,304.6 657.9,304.6 658.5,304.6 659.1,304.6 659.7,304.7 660.3,304.7 660.9,304.7 661.5,304.7 662.1,304.8 662.7,304.8 663.3,304.8 663.9,304.8 664.5,304.9 665.1,304.9 665.7,304.9 666.3,304.9 666.9,305.0 667.5,305.0 668.1,305.0 668.7,305.0 669.3,305.1 669.9,305.1 670.5,305.1 671.1,305.1 671.7,305.2 672.3,305.2 672.9,305.2 673.5,305.2 674.1,305.3 674.7,305.3 675.3,305.3 675.9,305.3 676.5,305.4 677.1,305.4 677.7,305.4 678.3,305.4 678.9,305.5 679.5,305.5 680.1,305.5 680.7,305.5 681.3,305.6 681.9,305.6 682.5,305.6 683.1,305.6 683.7,305.7 684.3,305.7 684.9,305.7 685.5,305.7 686.1,305.8 686.7,305.8 687.3,305.8 687.9,305.8 688.5,305.9 689.1,305.9 689.7,305.9 690.3,305.9 690.9,306.0 691.5,306.0 692.1,306.0 692.7,306.0 693.3,306.1 693.9,306.1 694.5,306.1 695.1,306.1 695.7,306.2 696.3,306.2 696.9,306.2 697.5,306.2 698.1,306.3 698.7,306.3 699.3,306.3 699.9,306.3 700.5,306.4 701.1,306.4 701.7,306.4 702.3,306.4 702.9,306.5 703.5,306.5 704.1,306.5 704.7,306.5 705.3,306.5 705.9,306.6 706.5,306.6 707.1,306.6 707.7,306.6 708.3,306.7 708.9,306.7 709.5,306.7 710.1,306.7 710.7,306.8 711.3,306.8 711.9,306.8 712.5,306.8 713.1,306.8 713.7,306.9 714.3,306.9 714.9,306.9 715.5,306.9 716.1,307.0 716.7,307.0 717.3,307.0 717.9,307.0 718.5,307.1 719.1,307.1 719.7,307.1 720.3,307.1 720.9,307.1 721.5,307.2 722.1,307.2 722.7,307.2 723.3,307.2 723.9,307.2 724.5,307.3 725.1,307.3 725.7,307.3 726.3,307.3 726.9,307.4 727.5,307.4 728.1,307.4 728.7,307.4 729.3,307.4 729.9,307.5 730.5,307.5 731.1,307.5 731.7,307.5 732.3,307.5 732.9,307.6 733.5,307.6 734.1,307.6 734.7,307.6 735.3,307.6 735.9,307.7 736.5,307.7 737.1,307.7 737.7,307.7 738.3,307.7 738.9,307.8 739.5,307.8 740.1,307.8 740.7,307.8 741.3,307.8 741.9,307.8 742.5,307.9 743.1,307.9 743.7,307.9 744.3,307.9 744.9,307.9 745.5,308.0 746.1,308.0 746.7,308.0 747.3,308.0 747.9,308.0 748.5,308.0 749.1,308.1 749.7,308.1 750.3,308.1 750.9,308.1 751.5,308.1 752.1,308.1 752.7,308.2 753.3,308.2 753.9,308.2 754.5,308.2 755.1,308.2 755.7,308.2 756.3,308.3 756.9,308.3 757.5,308.3 758.1,308.3 758.7,308.3 759.3,308.3 759.9,308.3 760.5,308.4 761.1,308.4 761.7,308.4 762.3,308.4 762.9,308.4 763.5,308.4 764.1,308.4 764.7,308.5 765.3,308.5 765.9,308.5 766.5,308.5 767.1,308.5 767.7,308.5 768.3,308.5 768.9,308.5 769.5,308.6 770.1,308.6 770.7,308.6 771.3,308.6 771.9,308.6 772.5,308.6 773.1,308.6 773.7,308.6 774.3,308.6 774.9,308.7 775.5,308.7 776.1,308.7 776.7,308.7 777.3,308.7 777.9,308.7 778.5,308.7 779.1,308.7 779.7,308.7 780.3,308.7 780.9,308.8 781.5,308.8 782.1,308.8 782.7,308.8 783.3,308.8 783.9,308.8 784.5,308.8 785.1,308.8 785.7,308.8 786.3,308.8 786.9,308.8 787.5,308.8 788.1,308.8 788.7,308.9 789.3,308.9 789.9,308.9 790.5,308.9 791.1,308.9 791.7,308.9 792.3,308.9 792.9,308.9 793.5,308.9 794.1,308.9 794.7,308.9 795.3,308.9 795.9,308.9 796.5,308.9 797.1,308.9 797.7,308.9 798.3,308.9 798.9,308.9 799.5,308.9 800.1,308.9 800.7,308.9 801.3,308.9 801.9,308.9 802.5,308.9 803.1,308.9 803.7,308.9 804.3,308.9 804.9,308.9 805.5,308.9 806.1,308.9 806.7,308.9 807.3,308.9 807.9,308.9 808.5,308.9 809.1,308.9" fill="none" stroke="#00ffff" stroke-width="2.4" stroke-linejoin="round" stroke-linecap="round"/>
<polyline points="64.8,634.2 65.1,633.7 65.5,633.2 65.8,632.7 66.1,632.2 66.4,631.6 66.8,631.1 67.1,630.6 67.4,630.1 67.7,629.5 68.0,629.0 68.3,628.5 68.6,628.0 68.9,627.4 69.3,626.9 69.6,626.4 69.9,625.9 70.2,625.3 70.5,624.8 70.8,624.3 71.1,623.7 71.3,623.2 71.6,622.7 71.9,622.2 72.2,621.6 72.5,621.1 72.8,620.6 73.1,620.0 73.4,619.5 73.6,619.0 73.9,618.4 74.2,617.9 74.5,617.3 74.7,616.8 75.0,616.3 75.3,615.7 75.6,615.2 75.8,614.7 76.1,614.1 76.4,613.6 76.6,613.0 76.9,612.5 77.2,612.0 77.4,611.4 77.7,610.9 77.9,610.3 78.2,609.8 78.5,609.3 78.7,608.7 79.0,608.2 79.2,607.6 79.5,607.1 79.7,606.5 80.0,606.0 80.2,605.4 80.5,604.9 80.7,604.4 81.0,603.8 81.2,603.3 81.4,602.7 81.7,602.2 81.9,601.6 82.2,601.1 82.4,600.5 82.6,600.0 82.9,599.4 83.1,598.9 83.4,598.3 83.6,597.8 83.8,597.2 84.1,596.7 84.3,596.1 84.5,595.6 84.8,595.0 85.0,594.5 85.2,593.9 85.4,593.4 85.7,592.8 85.9,592.3 86.1,591.7 86.3,591.2 86.6,590.6 86.8,590.1 87.0,589.5 87.2,589.0 87.5,588.4 87.7,587.8 87.9,587.3 88.1,586.7 88.4,586.2 88.6,585.6 88.8,585.1 89.0,584.5 89.2,584.0 89.5,583.4 89.7,582.8 89.9,582.3 90.1,581.7 90.3,581.2 90.5,580.6 90.8,580.1 91.0,579.5 91.2,579.0 91.4,578.4 91.6,577.8 91.8,577.3 92.0,576.7 92.3,576.2 92.5,575.6 92.7,575.1 92.9,574.5 93.1,573.9 93.3,573.4 93.5,572.8 93.8,572.3 94.0,571.7 94.2,571.1 94.4,570.6 94.6,570.0 94.8,569.5 95.0,568.9 95.3,568.4 95.5,567.8 95.7,567.2 95.9,566.7 96.1,566.1 96.3,565.6 96.5,565.0 96.8,564.4 97.0,563.9 97.2,563.3 97.4,562.8 97.6,562.2 97.8,561.7 98.1,561.1 98.3,560.5 98.5,560.0 98.7,559.4 98.9,558.9 99.1,558.3 99.4,557.7 99.6,557.2 99.8,556.6 100.0,556.1 100.2,555.5 100.5,555.0 100.7,554.4 100.9,553.8 101.1,553.3 101.3,552.7 101.6,552.2 101.8,551.6 102.0,551.0 102.2,550.5 102.5,549.9 102.7,549.4 102.9,548.8 103.1,548.3 103.4,547.7 103.6,547.1 103.8,546.6 104.1,546.0 104.3,545.5 104.5,544.9 104.8,544.4 105.0,543.8 105.2,543.3 105.5,542.7 105.7,542.1 105.9,541.6 106.2,541.0 106.4,540.5 106.7,539.9 106.9,539.4 107.1,538.8 107.4,538.3 107.6,537.7 107.9,537.2 108.1,536.6 108.4,536.1 108.6,535.5 108.9,534.9 109.1,534.4 109.4,533.8 109.6,533.3 109.9,532.7 110.1,532.2 110.4,531.6 110.6,531.1 110.9,530.5 111.2,530.0 111.4,529.4 111.7,528.9 111.9,528.3 112.2,527.8 112.5,527.2 112.7,526.7 113.0,526.1 113.3,525.6 113.6,525.1 113.8,524.5 114.1,524.0 114.4,523.4 114.7,522.9 115.0,522.4 115.3,521.8 115.5,521.3 115.8,520.8 116.1,520.3 116.5,519.7 116.8,519.2 117.1,518.7 117.4,518.2 117.7,517.7 118.0,517.2 118.4,516.7 118.7,516.2 119.0,515.7 119.4,515.3 119.7,514.8 120.1,514.3 120.4,513.9 120.8,513.4 121.2,512.9 121.5,512.5 121.9,512.1 122.3,511.6 122.7,511.2 123.1,510.8 123.5,510.4 123.9,510.0 124.3,509.6 124.8,509.2 125.2,508.8 125.6,508.4 126.1,508.0 126.5,507.7 127.0,507.3 127.5,507.0 127.9,506.7 128.4,506.3 128.9,506.0 129.4,505.7 129.9,505.4 130.4,505.1 130.9,504.9 131.5,504.6 132.0,504.3 132.5,504.1 133.1,503.8 133.6,503.6 134.2,503.4 134.7,503.1 135.3,502.9 135.9,502.7 136.4,502.5 137.0,502.3 137.6,502.2 138.2,502.0 138.7,501.8 139.3,501.7 139.9,501.5 140.5,501.4 141.1,501.2 141.7,501.1 142.3,501.0 142.9,500.9 143.5,500.8 144.1,500.7 144.7,500.6 145.3,500.5 145.9,500.4 146.6,500.4 147.2,500.3 147.8,500.3 148.4,500.2 149.0,500.2 149.6,500.2 150.2,500.1 150.8,500.1 151.4,500.1 152.0,500.1 152.6,500.1 153.2,500.1 153.8,500.1 154.4,500.1 155.0,500.1 155.6,500.1 156.2,500.1 156.8,500.1 157.4,500.1 157.9,500.0 158.5,500.0 159.1,499.9 159.6,499.9 160.2,499.8 160.7,499.7 161.2,499.5 161.8,499.4 162.3,499.2 162.8,499.0 163.3,498.8 163.8,498.6 164.3,498.3 164.7,498.0 165.2,497.7 165.6,497.3 166.1,496.9 166.5,496.5 166.9,496.1 167.3,495.6 167.7,495.1 168.1,494.6 168.5,494.1 168.9,493.6 169.2,493.1 169.6,492.5 169.9,492.0 170.3,491.4 170.6,490.8 170.9,490.2 171.2,489.7 171.5,489.1 171.8,488.5 172.1,487.9 172.3,487.3 172.6,486.7 172.8,486.1 173.1,485.5 173.3,484.9 173.5,484.4 173.7,483.8 173.9,483.2 174.1,482.6 174.3,482.1 174.5,481.5 174.7,480.9 174.9,480.3 175.0,479.8 175.2,479.2 175.3,478.6 175.5,478.0 175.6,477.5 175.7,476.9 175.9,476.3 176.0,475.8 176.1,475.2 176.2,474.6 176.4,474.1 176.5,473.5 176.6,472.9 176.7,472.4 176.8,471.8 176.9,471.2 177.0,470.7 177.0,470.1 177.1,469.5 177.2,468.9 177.3,468.4 177.4,467.8 177.5,467.2 177.5,466.7 177.6,466.1 177.7,465.5 177.8,464.9 177.9,464.4 177.9,463.8 178.0,463.2 178.1,462.6 178.2,462.0 178.3,461.4 178.3,460.9 178.4,460.3 178.5,459.7 178.6,459.1 178.7,458.5 178.8,457.9 178.9,457.3 179.0,456.7 179.0,456.1 179.1,455.5 179.2,454.9 179.3,454.3 179.4,453.7 179.5,453.1 179.6,452.5 179.7,451.9 179.8,451.3 180.0,450.7 180.1,450.1 180.2,449.5 180.3,448.9 180.4,448.3 180.5,447.7 180.6,447.1 180.8,446.5 180.9,445.9 181.0,445.3 181.1,444.7 181.3,444.1 181.4,443.5 181.5,442.9 181.7,442.3 181.8,441.7 182.0,441.1 182.1,440.5 182.3,439.9 182.4,439.3 182.6,438.7 182.7,438.1 182.9,437.5 183.0,436.9 183.2,436.3 183.4,435.7 183.6,435.2 183.7,434.6 183.9,434.0 184.1,433.4 184.3,432.8 184.5,432.2 184.6,431.7 184.8,431.1 185.0,430.5 185.2,429.9 185.4,429.4 185.6,428.8 185.9,428.2 186.1,427.7 186.3,427.1 186.5,426.5 186.7,426.0 187.0,425.4 187.2,424.9 187.4,424.3 187.7,423.8 187.9,423.2 188.2,422.7 188.4,422.1 188.7,421.6 188.9,421.1 189.2,420.5 189.5,420.0 189.7,419.5 190.0,419.0 190.3,418.4 190.6,417.9 190.9,417.4 191.2,416.9 191.5,416.4 191.8,415.9 192.1,415.4 192.4,414.9 192.7,414.4 193.0,413.9 193.3,413.5 193.7,413.0 194.0,412.5 194.4,412.1 194.7,411.6 195.0,411.1 195.4,410.7 195.8,410.2 196.1,409.8 196.5,409.3 196.9,408.9 197.3,408.5 197.6,408.0 198.0,407.6 198.4,407.2 198.8,406.8 199.2,406.4 199.6,406.0 200.1,405.6 200.5,405.2 200.9,404.8 201.3,404.4 201.8,404.0 202.2,403.6 202.6,403.3 203.1,402.9 203.5,402.5 204.0,402.2 204.5,401.8 204.9,401.5 205.4,401.1 205.9,400.8 206.3,400.4 206.8,400.1 207.3,399.7 207.8,399.4 208.3,399.1 208.8,398.8 209.2,398.4 209.7,398.1 210.2,397.8 210.8,397.5 211.3,397.2 211.8,396.9 212.3,396.6 212.8,396.3 213.3,396.0 213.9,395.7 214.4,395.4 214.9,395.1 215.4,394.9 216.0,394.6 216.5,394.3 217.1,394.0 217.6,393.8 218.1,393.5 218.7,393.3 219.2,393.0 219.8,392.7 220.3,392.5 220.9,392.2 221.5,392.0 222.0,391.7 222.6,391.5 223.1,391.3 223.7,391.0 224.3,390.8 224.8,390.5 225.4,390.3 226.0,390.1 226.6,389.9 227.1,389.6 227.7,389.4 228.3,389.2 228.9,389.0 229.4,388.8 230.0,388.6 230.6,388.3 231.2,388.1 231.8,387.9 232.3,387.7 232.9,387.5 233.5,387.3 234.1,387.1 234.7,386.9 235.3,386.7 235.9,386.5 236.5,386.3 237.0,386.1 237.6,386.0 238.2,385.8 238.8,385.6 239.4,385.4 240.0,385.2 240.6,385.0 241.2,384.8 241.7,384.7 242.3,384.5 242.9,384.3 243.5,384.1 244.1,384.0 244.7,383.8 245.3,383.6 245.9,383.4 246.4,383.3 247.0,383.1 247.6,382.9 248.2,382.8 248.8,382.6 249.4,382.4 249.9,382.3 250.5,382.1 251.1,381.9 251.7,381.8 252.3,381.6 252.8,381.5 253.4,381.3 254.0,381.1 254.6,381.0 255.2,380.8 255.7,380.7 256.3,380.5 256.9,380.4 257.5,380.2 258.1,380.1 258.6,379.9 259.2,379.8 259.8,379.6 260.4,379.5 260.9,379.3 261.5,379.2 262.1,379.0 262.7,378.9 263.3,378.7 263.8,378.6 264.4,378.5 265.0,378.3 265.6,378.2 266.1,378.0 266.7,377.9 267.3,377.8 267.9,377.6 268.4,377.5 269.0,377.4 269.6,377.2 270.2,377.1 270.7,376.9 271.3,376.8 271.9,376.7 272.5,376.6 273.0,376.4 273.6,376.3 274.2,376.2 274.8,376.0 275.3,375.9 275.9,375.8 276.5,375.6 277.1,375.5 277.6,375.4 278.2,375.3 278.8,375.1 279.4,375.0 279.9,374.9 280.5,374.8 281.1,374.7 281.7,374.5 282.3,374.4 282.8,374.3 283.4,374.2 284.0,374.1 284.6,373.9 285.1,373.8 285.7,373.7 286.3,373.6 286.9,373.5 287.5,373.3 288.0,373.2 288.6,373.1 289.2,373.0 289.8,372.9 290.3,372.8 290.9,372.7 291.5,372.5 292.1,372.4 292.7,372.3 293.3,372.2 293.8,372.1 294.4,372.0 295.0,371.9 295.6,371.8 296.2,371.6 296.7,371.5 297.3,371.4 297.9,371.3 298.5,371.2 299.1,371.1 299.7,371.0 300.3,370.9 300.8,370.8 301.4,370.7 302.0,370.6 302.6,370.5 303.2,370.3 303.8,370.2 304.4,370.1 305.0,370.0 305.6,369.9 306.1,369.8 306.7,369.7 307.3,369.6 307.9,369.5 308.5,369.4 309.1,369.3 309.7,369.2 310.3,369.1 310.9,369.0 311.5,368.9 312.1,368.8 312.7,368.7 313.3,368.6 313.8,368.5 314.4,368.4 315.0,368.3 315.6,368.2 316.2,368.1 316.8,368.0 317.4,367.9 318.0,367.8 318.6,367.7 319.2,367.6 319.8,367.5 320.4,367.4 321.0,367.4 321.6,367.3 322.2,367.2 322.8,367.1 323.4,367.0 324.0,366.9 324.6,366.8 325.2,366.7 325.8,366.6 326.4,366.5 327.0,366.5 327.6,366.4 328.2,366.3 328.8,366.2 329.4,366.1 330.0,366.0 330.6,366.0 331.2,365.9 331.8,365.8 332.4,365.7 333.0,365.6 333.6,365.6 334.2,365.5 334.8,365.4 335.4,365.3 336.0,365.2 336.6,365.2 337.2,365.1 337.8,365.0 338.4,364.9 339.0,364.9 339.6,364.8 340.2,364.7 340.8,364.7 341.4,364.6 342.0,364.5 342.6,364.4 343.2,364.4 343.8,364.3 344.4,364.2 345.0,364.2 345.6,364.1 346.2,364.1 346.8,364.0 347.4,363.9 348.0,363.9 348.6,363.8 349.2,363.8 349.8,363.7 350.4,363.6 351.0,363.6 351.6,363.5 352.2,363.5 352.8,363.4 353.4,363.4 354.0,363.3 354.6,363.3 355.2,363.2 355.8,363.2 356.4,363.1 357.0,363.1 357.6,363.0 358.2,363.0 358.8,362.9 359.4,362.9 360.0,362.8 360.6,362.8 361.2,362.7 361.8,362.7 362.4,362.7 363.0,362.6 363.6,362.6 364.2,362.5 364.8,362.5 365.4,362.5 366.0,362.4 366.6,362.4 367.2,362.4 367.8,362.3 368.4,362.3 369.0,362.3 369.6,362.2 370.2,362.2 370.8,362.2 371.4,362.1 372.0,362.1 372.6,362.1 373.2,362.0 373.8,362.0 374.3,362.0 374.9,361.9 375.5,361.9 376.1,361.9 376.7,361.9 377.3,361.8 377.9,361.8 378.5,361.8 379.1,361.7 379.7,361.7 380.3,361.7 380.9,361.7 381.5,361.6 382.1,361.6 382.7,361.6 383.3,361.6 383.9,361.5 384.5,361.5 385.1,361.5 385.7,361.4 386.3,361.4 386.9,361.4 387.5,361.4 388.1,361.3 388.7,361.3 389.3,361.3 389.9,361.3 390.5,361.2 391.1,361.2 391.7,361.2 392.3,361.2 392.9,361.1 393.5,361.1 394.0,361.1 394.6,361.1 395.2,361.0 395.8,361.0 396.4,361.0 397.0,360.9 397.6,360.9 398.2,360.9 398.8,360.9 399.4,360.8 400.0,360.8 400.6,360.8 401.2,360.8 401.8,360.7 402.4,360.7 403.0,360.7 403.6,360.6 404.2,360.6 404.8,360.6 405.4,360.5 406.0,360.5 406.6,360.5 407.2,360.4 407.8,360.4 408.4,360.4 409.0,360.3 409.6,360.3 410.2,360.3 410.8,360.2 411.4,360.2 412.0,360.1 412.6,360.1 413.2,360.1 413.7,360.0 414.3,360.0 414.9,360.0 415.5,359.9 416.1,359.9 416.7,359.8 417.3,359.8 417.9,359.7 418.5,359.7 419.1,359.7 419.7,359.6 420.3,359.6 420.9,359.5 421.5,359.5 422.1,359.4 422.7,359.4 423.3,359.4 423.9,359.3 424.5,359.3 425.1,359.2 425.7,359.2 426.3,359.1 426.9,359.1 427.5,359.0 428.1,359.0 428.7,358.9 429.3,358.9 429.9,358.8 430.5,358.8 431.1,358.7 431.7,358.7 432.3,358.6 432.9,358.6 433.5,358.5 434.1,358.5 434.7,358.4 435.3,358.4 435.9,358.3 436.5,358.3 437.1,358.2 437.7,358.2 438.3,358.1 438.9,358.1 439.5,358.0 440.1,358.0 440.7,357.9 441.3,357.9 441.9,357.8 442.5,357.8 443.1,357.7 443.7,357.7 444.3,357.6 444.9,357.6 445.5,357.5 446.1,357.5 446.7,357.4 447.3,357.4 447.9,357.3 448.5,357.3 449.1,357.2 449.7,357.2 450.2,357.1 450.8,357.1 451.4,357.0 452.0,357.0 452.6,356.9 453.2,356.9 453.8,356.8 454.4,356.8 455.0,356.7 455.6,356.7 456.2,356.6 456.8,356.6 457.4,356.5 458.0,356.5 458.6,356.4 459.2,356.4 459.8,356.3 460.4,356.3 461.0,356.2 461.6,356.2 462.2,356.1 462.8,356.1 463.4,356.0 464.0,356.0 464.6,355.9 465.2,355.9 465.8,355.8 466.4,355.8 467.0,355.8 467.6,355.7 468.2,355.7 468.8,355.6 469.4,355.6 470.0,355.5 470.6,355.5 471.2,355.4 471.8,355.4 472.4,355.4 473.0,355.3 473.6,355.3 474.2,355.2 474.8,355.2 475.4,355.1 476.0,355.1 476.6,355.1 477.2,355.0 477.8,355.0 478.4,354.9 479.0,354.9 479.6,354.9 480.2,354.8 480.8,354.8 481.4,354.7 482.0,354.7 482.6,354.7 483.2,354.6 483.8,354.6 484.4,354.6 485.0,354.5 485.6,354.5 486.2,354.4 486.8,354.4 487.4,354.4 488.0,354.3 488.6,354.3 489.2,354.3 489.8,354.2 490.4,354.2 491.0,354.2 491.6,354.1 492.2,354.1 492.8,354.1 493.4,354.0 494.0,354.0 494.6,354.0 495.2,353.9 495.8,353.9 496.4,353.9 497.0,353.8 497.6,353.8 498.2,353.8 498.8,353.7 499.4,353.7 500.0,353.7 500.6,353.6 501.2,353.6 501.8,353.6 502.4,353.5 503.0,353.5 503.6,353.5 504.2,353.4 504.8,353.4 505.4,353.4 506.0,353.4 506.6,353.3 507.2,353.3 507.8,353.3 508.4,353.2 509.0,353.2 509.6,353.2 510.2,353.2 510.8,353.1 511.4,353.1 512.0,353.1 512.6,353.0 513.2,353.0 513.8,353.0 514.4,353.0 515.0,352.9 515.6,352.9 516.2,352.9 516.8,352.9 517.4,352.8 517.9,352.8 518.5,352.8 519.1,352.8 519.7,352.7 520.3,352.7 520.9,352.7 521.5,352.7 522.1,352.6 522.7,352.6 523.3,352.6 523.9,352.6 524.5,352.5 525.1,352.5 525.7,352.5 526.3,352.5 526.9,352.4 527.5,352.4 528.1,352.4 528.7,352.4 529.3,352.3 529.9,352.3 530.5,352.3 531.1,352.3 531.7,352.3 532.3,352.2 532.9,352.2 533.5,352.2 534.1,352.2 534.7,352.1 535.3,352.1 535.9,352.1 536.5,352.1 537.1,352.1 537.7,352.0 538.3,352.0 538.9,352.0 539.5,352.0 540.1,352.0 540.7,351.9 541.3,351.9 541.9,351.9 542.5,351.9 543.1,351.9 543.7,351.8 544.3,351.8 544.9,351.8 545.5,351.8 546.1,351.8 546.7,351.7 547.3,351.7 547.9,351.7 548.5,351.7 549.1,351.7 549.7,351.6 550.3,351.6 550.9,351.6 551.5,351.6 552.1,351.6 552.7,351.5 553.3,351.5 553.9,351.5 554.5,351.5 555.1,351.5 555.7,351.4 556.3,351.4 556.9,351.4 557.5,351.4 558.1,351.4 558.7,351.4 559.3,351.3 559.9,351.3 560.5,351.3 561.1,351.3 561.7,351.3 562.3,351.2 562.9,351.2 563.5,351.2 564.1,351.2 564.7,351.2 565.3,351.2 565.9,351.1 566.5,351.1 567.1,351.1 567.7,351.1 568.3,351.1 568.9,351.1 569.5,351.0 570.1,351.0 570.7,351.0 571.3,351.0 571.9,351.0 572.5,351.0 573.1,350.9 573.7,350.9 574.3,350.9 574.9,350.9 575.5,350.9 576.1,350.8 576.7,350.8 577.3,350.8 577.9,350.8 578.5,350.8 579.1,350.8 579.7,350.7 580.3,350.7 580.9,350.7 581.5,350.7 582.1,350.7 582.7,350.7 583.3,350.6 583.9,350.6 584.5,350.6 585.1,350.6 585.7,350.6 586.3,350.6 586.9,350.5 587.5,350.5 588.1,350.5 588.7,350.5 589.3,350.5 589.9,350.5 590.5,350.4 591.1,350.4 591.7,350.4 592.3,350.4 592.9,350.4 593.5,350.4 594.1,350.3 594.7,350.3 595.3,350.3 595.9,350.3 596.5,350.3 597.1,350.3 597.7,350.2 598.3,350.2 598.9,350.2 599.5,350.2 600.1,350.2 600.7,350.2 601.3,350.1 601.9,350.1 602.5,350.1 603.1,350.1 603.7,350.1 604.3,350.1 604.9,350.0 605.5,350.0 606.1,350.0 606.7,350.0 607.3,350.0 607.9,350.0 608.5,349.9 609.1,349.9 609.7,349.9 610.3,349.9 610.9,349.9 611.5,349.9 612.1,349.8 612.7,349.8 613.3,349.8 613.9,349.8 614.5,349.8 615.1,349.8 615.7,349.7 616.3,349.7 616.9,349.7 617.5,349.7 618.1,349.7 618.7,349.7 619.3,349.7 619.9,349.6 620.5,349.6 621.1,349.6 621.7,349.6 622.3,349.6 622.9,349.6 623.5,349.5 624.1,349.5 624.7,349.5 625.3,349.5 625.9,349.5 626.5,349.5 627.1,349.4 627.7,349.4 628.3,349.4 628.9,349.4 629.5,349.4 630.1,349.4 630.7,349.3 631.3,349.3 631.9,349.3 632.5,349.3 633.1,349.3 633.7,349.3 634.3,349.3 634.9,349.2 635.5,349.2 636.1,349.2 636.7,349.2 637.3,349.2 637.9,349.2 638.5,349.1 639.1,349.1 639.7,349.1 640.3,349.1 640.9,349.1 641.5,349.1 642.1,349.1 642.7,349.0 643.3,349.0 643.9,349.0 644.5,349.0 645.1,349.0 645.7,349.0 646.3,348.9 646.9,348.9 647.5,348.9 648.1,348.9 648.7,348.9 649.3,348.9 649.9,348.9 650.5,348.8 651.1,348.8 651.7,348.8 652.3,348.8 652.9,348.8 653.5,348.8 654.1,348.8 654.7,348.7 655.3,348.7 655.9,348.7 656.5,348.7 657.1,348.7 657.7,348.7 658.3,348.6 658.9,348.6 659.5,348.6 660.1,348.6 660.7,348.6 661.3,348.6 661.9,348.6 662.5,348.5 663.1,348.5 663.7,348.5 664.3,348.5 664.9,348.5 665.5,348.5 666.1,348.5 666.7,348.4 667.3,348.4 667.9,348.4 668.5,348.4 669.1,348.4 669.7,348.4 670.3,348.4 670.9,348.3 671.5,348.3 672.1,348.3 672.7,348.3 673.3,348.3 673.9,348.3 674.5,348.3 675.1,348.2 675.7,348.2 676.3,348.2 676.9,348.2 677.5,348.2 678.1,348.2 678.7,348.2 679.3,348.1 679.9,348.1 680.5,348.1 681.1,348.1 681.7,348.1 682.3,348.1 682.9,348.1 683.5,348.0 684.1,348.0 684.7,348.0 685.3,348.0 685.9,348.0 686.5,348.0 687.1,348.0 687.7,348.0 688.3,347.9 688.9,347.9 689.5,347.9 690.1,347.9 690.7,347.9 691.3,347.9 691.9,347.9 692.5,347.8 693.1,347.8 693.7,347.8 694.3,347.8 694.9,347.8 695.5,347.8 696.1,347.8 696.7,347.8 697.3,347.7 697.9,347.7 698.5,347.7 699.1,347.7 699.7,347.7 700.3,347.7 700.9,347.7 701.5,347.7 702.1,347.6 702.7,347.6 703.3,347.6 703.9,347.6 704.5,347.6 705.1,347.6 705.7,347.6 706.3,347.6 706.9,347.5 707.5,347.5 708.1,347.5 708.7,347.5 709.3,347.5 709.9,347.5 710.5,347.5 711.1,347.5 711.7,347.4 712.3,347.4 712.9,347.4 713.5,347.4 714.1,347.4 714.7,347.4 715.3,347.4 715.9,347.4 716.5,347.3 717.1,347.3 717.6,347.3 718.2,347.3 718.8,347.3 719.4,347.3 720.0,347.3 720.6,347.3 721.2,347.3 721.8,347.2 722.4,347.2 723.0,347.2 723.6,347.2 724.2,347.2 724.8,347.2 725.4,347.2 726.0,347.2 726.6,347.2 727.2,347.1 727.8,347.1 728.4,347.1 729.0,347.1 729.6,347.1 730.2,347.1 730.8,347.1 731.4,347.1 732.0,347.1 732.6,347.0 733.2,347.0 733.8,347.0 734.4,347.0 735.0,347.0 735.6,347.0 736.2,347.0 736.8,347.0 737.4,347.0 738.0,346.9 738.6,346.9 739.2,346.9 739.8,346.9 740.4,346.9 741.0,346.9 741.6,346.9 742.2,346.9 742.8,346.9 743.4,346.9 744.0,346.8 744.6,346.8 745.2,346.8 745.8,346.8 746.4,346.8 747.0,346.8 747.6,346.8 748.2,346.8 748.8,346.8 749.4,346.8 750.0,346.7 750.6,346.7 751.2,346.7 751.8,346.7 752.4,346.7 753.0,346.7 753.6,346.7 754.2,346.7 754.8,346.7 755.4,346.7 756.0,346.7 756.6,346.6 757.2,346.6 757.8,346.6 758.4,346.6 759.0,346.6 759.6,346.6 760.2,346.6 760.8,346.6 761.4,346.6 762.0,346.6 762.6,346.6 763.2,346.5 763.8,346.5 764.4,346.5 765.0,346.5 765.6,346.5 766.2,346.5 766.8,346.5 767.4,346.5 768.0,346.5 768.6,346.5 769.2,346.5 769.8,346.5 770.4,346.4 771.0,346.4 771.6,346.4 772.2,346.4 772.8,346.4 773.4,346.4 774.0,346.4 774.6,346.4 775.2,346.4 775.8,346.4 776.4,346.4 777.0,346.4 777.6,346.4 778.2,346.3 778.8,346.3 779.4,346.3 780.0,346.3 780.6,346.3 781.2,346.3 781.8,346.3 782.4,346.3 783.0,346.3 783.6,346.3 784.2,346.3 784.8,346.3 785.4,346.3 786.0,346.3 786.6,346.2 787.2,346.2 787.8,346.2 788.4,346.2 789.0,346.2 789.6,346.2 790.2,346.2 790.8,346.2 791.4,346.2 792.0,346.2 792.6,346.2 793.2,346.2 793.8,346.2 794.4,346.2 795.0,346.2 795.6,346.2 796.2,346.1 796.8,346.1 797.4,346.1 798.0,346.1 798.6,346.1 799.2,346.1 799.8,346.1 800.4,346.1 801.0,346.1 801.6,346.1 802.2,346.1 802.8,346.1 803.4,346.1 804.0,346.1 804.6,346.1 805.2,346.1 805.8,346.1 806.4,346.1 807.0,346.1 807.6,346.0 808.2,346.0 808.8,346.0 809.4,346.0" fill="none" stroke="#1eff1e" stroke-width="2.4" stroke-linejoin="round" stroke-linecap="round"/>
<polyline points="65.6,637.0 66.2,636.9 66.7,636.7 67.3,636.5 67.8,636.3 68.4,636.2 68.9,636.0 69.5,635.8 70.0,635.6 70.6,635.4 71.1,635.2 71.7,635.0 72.2,634.7 72.8,634.5 73.3,634.3 73.9,634.1 74.4,633.8 75.0,633.6 75.5,633.3 76.0,633.1 76.6,632.9 77.1,632.6 77.6,632.3 78.2,632.1 78.7,631.8 79.3,631.6 79.8,631.3 80.3,631.0 80.8,630.8 81.4,630.5 81.9,630.2 82.4,629.9 83.0,629.6 83.5,629.4 84.0,629.1 84.6,628.8 85.1,628.5 85.6,628.2 86.1,627.9 86.7,627.6 87.2,627.4 87.7,627.1 88.2,626.8 88.8,626.5 89.3,626.2 89.8,625.9 90.4,625.6 90.9,625.3 91.4,625.0 91.9,624.7 92.5,624.4 93.0,624.1 93.5,623.8 94.1,623.5 94.6,623.3 95.1,623.0 95.6,622.7 96.2,622.4 96.7,622.1 97.2,621.8 97.8,621.5 98.3,621.3 98.8,621.0 99.4,620.7 99.9,620.4 100.4,620.2 101.0,619.9 101.5,619.6 102.0,619.3 102.6,619.1 103.1,618.8 103.7,618.6 104.2,618.3 104.8,618.1 105.3,617.8 105.8,617.6 106.4,617.3 106.9,617.1 107.5,616.9 108.0,616.6 108.6,616.4 109.1,616.2 109.7,616.0 110.3,615.8 110.8,615.6 111.4,615.4 111.9,615.2 112.5,615.0 113.1,614.8 113.6,614.6 114.2,614.4 114.8,614.3 115.3,614.1 115.9,613.9 116.5,613.8 117.0,613.6 117.6,613.5 118.2,613.3 118.8,613.2 119.3,613.0 119.9,612.9 120.5,612.7 121.1,612.6 121.7,612.5 122.2,612.3 122.8,612.2 123.4,612.1 124.0,612.0 124.6,611.8 125.1,611.7 125.7,611.6 126.3,611.5 126.9,611.4 127.5,611.2 128.1,611.1 128.6,611.0 129.2,610.9 129.8,610.8 130.4,610.7 131.0,610.5 131.5,610.4 132.1,610.3 132.7,610.2 133.3,610.1 133.9,609.9 134.4,609.8 135.0,609.7 135.6,609.6 136.2,609.4 136.7,609.3 137.3,609.2 137.9,609.1 138.4,608.9 139.0,608.8 139.6,608.7 140.1,608.5 140.7,608.4 141.3,608.3 141.9,608.2 142.4,608.0 143.0,607.9 143.6,607.8 144.2,607.7 144.7,607.5 145.3,607.4 145.9,607.3 146.5,607.2 147.1,607.1 147.7,607.0 148.3,606.9 148.8,606.8 149.4,606.7 150.0,606.6 150.6,606.5 151.2,606.4 151.8,606.3 152.4,606.2 152.9,606.0 153.5,605.9 154.1,605.8 154.6,605.6 155.2,605.5 155.7,605.3 156.3,605.1 156.8,604.9 157.4,604.7 157.9,604.5 158.4,604.3 158.9,604.0 159.4,603.8 159.9,603.5 160.4,603.2 160.8,602.9 161.3,602.6 161.8,602.3 162.2,601.9 162.7,601.6 163.1,601.2 163.5,600.8 163.9,600.4 164.3,600.0 164.7,599.6 165.1,599.2 165.5,598.8 165.9,598.3 166.3,597.9 166.6,597.4 167.0,597.0 167.3,596.5 167.7,596.0 168.0,595.5 168.3,595.0 168.7,594.5 169.0,594.0 169.3,593.5 169.6,593.0 169.9,592.4 170.2,591.9 170.4,591.4 170.7,590.8 171.0,590.3 171.2,589.8 171.5,589.2 171.7,588.7 172.0,588.1 172.2,587.5 172.5,587.0 172.7,586.4 172.9,585.9 173.1,585.3 173.3,584.7 173.5,584.2 173.7,583.6 173.9,583.0 174.1,582.5 174.3,581.9 174.4,581.3 174.6,580.8 174.8,580.2 174.9,579.6 175.1,579.1 175.3,578.5 175.4,577.9 175.6,577.3 175.7,576.8 175.8,576.2 176.0,575.6 176.1,575.0 176.3,574.5 176.4,573.9 176.5,573.3 176.7,572.7 176.8,572.1 176.9,571.6 177.0,571.0 177.2,570.4 177.3,569.8 177.4,569.2 177.5,568.7 177.7,568.1 177.8,567.5 177.9,566.9 178.1,566.3 178.2,565.7 178.3,565.2 178.4,564.6 178.6,564.0 178.7,563.4 178.8,562.8 179.0,562.2 179.1,561.6 179.2,561.1 179.4,560.5 179.5,559.9 179.7,559.3 179.8,558.7 180.0,558.1 180.1,557.5 180.3,556.9 180.5,556.3 180.6,555.8 180.8,555.2 181.0,554.6 181.1,554.0 181.3,553.4 181.5,552.8 181.7,552.2 181.9,551.7 182.0,551.1 182.2,550.5 182.4,549.9 182.6,549.3 182.8,548.7 183.0,548.2 183.2,547.6 183.4,547.0 183.7,546.4 183.9,545.9 184.1,545.3 184.3,544.7 184.5,544.1 184.8,543.6 185.0,543.0 185.2,542.4 185.5,541.9 185.7,541.3 185.9,540.7 186.2,540.2 186.4,539.6 186.7,539.1 186.9,538.5 187.2,538.0 187.5,537.4 187.7,536.9 188.0,536.3 188.3,535.8 188.5,535.2 188.8,534.7 189.1,534.2 189.4,533.6 189.7,533.1 190.0,532.6 190.3,532.0 190.6,531.5 190.9,531.0 191.2,530.5 191.5,530.0 191.8,529.5 192.1,529.0 192.4,528.5 192.8,528.0 193.1,527.5 193.4,527.0 193.8,526.5 194.1,526.0 194.5,525.5 194.8,525.0 195.2,524.6 195.5,524.1 195.9,523.6 196.2,523.1 196.6,522.7 197.0,522.2 197.3,521.8 197.7,521.3 198.1,520.9 198.5,520.5 198.9,520.0 199.3,519.6 199.7,519.2 200.1,518.7 200.5,518.3 200.9,517.9 201.3,517.5 201.7,517.1 202.1,516.7 202.6,516.3 203.0,515.9 203.4,515.5 203.9,515.2 204.3,514.8 204.8,514.4 205.2,514.0 205.7,513.7 206.1,513.3 206.6,513.0 207.0,512.6 207.5,512.3 208.0,511.9 208.5,511.6 208.9,511.3 209.4,511.0 209.9,510.6 210.4,510.3 210.9,510.0 211.4,509.7 211.9,509.4 212.4,509.1 212.9,508.8 213.4,508.5 213.9,508.2 214.4,507.9 214.9,507.6 215.4,507.3 216.0,507.0 216.5,506.8 217.0,506.5 217.5,506.2 218.1,505.9 218.6,505.7 219.1,505.4 219.7,505.2 220.2,504.9 220.7,504.6 221.3,504.4 221.8,504.1 222.4,503.9 222.9,503.6 223.5,503.4 224.0,503.2 224.6,502.9 225.1,502.7 225.7,502.4 226.2,502.2 226.8,502.0 227.4,501.8 227.9,501.5 228.5,501.3 229.1,501.1 229.6,500.9 230.2,500.6 230.8,500.4 231.3,500.2 231.9,500.0 232.5,499.8 233.0,499.5 233.6,499.3 234.2,499.1 234.8,498.9 235.3,498.7 235.9,498.5 236.5,498.3 237.1,498.1 237.7,497.9 238.2,497.7 238.8,497.5 239.4,497.3 240.0,497.0 240.5,496.8 241.1,496.6 241.7,496.4 242.3,496.2 242.9,496.0 243.4,495.8 244.0,495.6 244.6,495.4 245.2,495.2 245.8,495.0 246.3,494.8 246.9,494.6 247.5,494.4 248.1,494.2 248.6,494.0 249.2,493.8 249.8,493.6 250.4,493.4 250.9,493.2 251.5,493.0 252.1,492.7 252.7,492.5 253.2,492.3 253.8,492.1 254.4,491.9 254.9,491.7 255.5,491.5 256.1,491.3 256.7,491.1 257.2,490.9 257.8,490.7 258.4,490.4 258.9,490.2 259.5,490.0 260.1,489.8 260.6,489.6 261.2,489.4 261.8,489.2 262.3,489.0 262.9,488.8 263.5,488.6 264.0,488.3 264.6,488.1 265.2,487.9 265.7,487.7 266.3,487.5 266.9,487.3 267.4,487.1 268.0,486.9 268.5,486.7 269.1,486.5 269.7,486.3 270.2,486.1 270.8,485.8 271.4,485.6 271.9,485.4 272.5,485.2 273.1,485.0 273.6,484.8 274.2,484.6 274.7,484.4 275.3,484.2 275.9,484.0 276.4,483.8 277.0,483.6 277.6,483.4 278.1,483.2 278.7,483.0 279.3,482.8 279.8,482.6 280.4,482.4 280.9,482.2 281.5,482.0 282.1,481.8 282.6,481.6 283.2,481.4 283.8,481.2 284.3,481.0 284.9,480.8 285.5,480.7 286.0,480.5 286.6,480.3 287.1,480.1 287.7,479.9 288.3,479.7 288.8,479.5 289.4,479.3 290.0,479.2 290.5,479.0 291.1,478.8 291.7,478.6 292.2,478.4 292.8,478.3 293.4,478.1 293.9,477.9 294.5,477.7 295.1,477.6 295.7,477.4 296.2,477.2 296.8,477.0 297.4,476.9 297.9,476.7 298.5,476.5 299.1,476.4 299.6,476.2 300.2,476.0 300.8,475.9 301.4,475.7 301.9,475.6 302.5,475.4 303.1,475.3 303.7,475.1 304.2,474.9 304.8,474.8 305.4,474.6 306.0,474.5 306.5,474.3 307.1,474.2 307.7,474.0 308.3,473.9 308.8,473.8 309.4,473.6 310.0,473.5 310.6,473.3 311.2,473.2 311.7,473.0 312.3,472.9 312.9,472.8 313.5,472.6 314.1,472.5 314.6,472.4 315.2,472.2 315.8,472.1 316.4,472.0 317.0,471.8 317.5,471.7 318.1,471.6 318.7,471.4 319.3,471.3 319.9,471.2 320.5,471.1 321.0,470.9 321.6,470.8 322.2,470.7 322.8,470.6 323.4,470.5 324.0,470.3 324.5,470.2 325.1,470.1 325.7,470.0 326.3,469.9 326.9,469.8 327.5,469.6 328.1,469.5 328.7,469.4 329.2,469.3 329.8,469.2 330.4,469.1 331.0,469.0 331.6,468.9 332.2,468.8 332.8,468.6 333.4,468.5 333.9,468.4 334.5,468.3 335.1,468.2 335.7,468.1 336.3,468.0 336.9,467.9 337.5,467.8 338.1,467.7 338.7,467.6 339.3,467.5 339.8,467.4 340.4,467.3 341.0,467.2 341.6,467.1 342.2,467.0 342.8,466.9 343.4,466.8 344.0,466.7 344.6,466.6 345.2,466.6 345.8,466.5 346.4,466.4 347.0,466.3 347.5,466.2 348.1,466.1 348.7,466.0 349.3,465.9 349.9,465.8 350.5,465.7 351.1,465.6 351.7,465.6 352.3,465.5 352.9,465.4 353.5,465.3 354.1,465.2 354.7,465.1 355.3,465.0 355.9,465.0 356.5,464.9 357.1,464.8 357.7,464.7 358.3,464.6 358.9,464.5 359.4,464.5 360.0,464.4 360.6,464.3 361.2,464.2 361.8,464.1 362.4,464.1 363.0,464.0 363.6,463.9 364.2,463.8 364.8,463.7 365.4,463.7 366.0,463.6 366.6,463.5 367.2,463.4 367.8,463.3 368.4,463.3 369.0,463.2 369.6,463.1 370.2,463.0 370.8,463.0 371.4,462.9 372.0,462.8 372.6,462.7 373.2,462.7 373.8,462.6 374.4,462.5 375.0,462.4 375.6,462.4 376.2,462.3 376.8,462.2 377.4,462.1 378.0,462.1 378.6,462.0 379.2,461.9 379.8,461.8 380.4,461.8 381.0,461.7 381.5,461.6 382.1,461.5 382.7,461.5 383.3,461.4 383.9,461.3 384.5,461.2 385.1,461.2 385.7,461.1 386.3,461.0 386.9,460.9 387.5,460.9 388.1,460.8 388.7,460.7 389.3,460.7 389.9,460.6 390.5,460.5 391.1,460.4 391.7,460.4 392.3,460.3 392.9,460.2 393.5,460.1 394.1,460.1 394.7,460.0 395.3,459.9 395.9,459.8 396.5,459.8 397.1,459.7 397.7,459.6 398.3,459.5 398.9,459.5 399.5,459.4 400.1,459.3 400.7,459.2 401.3,459.2 401.9,459.1 402.5,459.0 403.1,458.9 403.7,458.8 404.3,458.8 404.9,458.7 405.4,458.6 406.0,458.5 406.6,458.5 407.2,458.4 407.8,458.3 408.4,458.2 409.0,458.1 409.6,458.1 410.2,458.0 410.8,457.9 411.4,457.8 412.0,457.8 412.6,457.7 413.2,457.6 413.8,457.5 414.4,457.4 415.0,457.4 415.6,457.3 416.2,457.2 416.8,457.1 417.4,457.0 418.0,457.0 418.6,456.9 419.1,456.8 419.7,456.7 420.3,456.6 420.9,456.5 421.5,456.5 422.1,456.4 422.7,456.3 423.3,456.2 423.9,456.1 424.5,456.1 425.1,456.0 425.7,455.9 426.3,455.8 426.9,455.7 427.5,455.6 428.1,455.6 428.7,455.5 429.3,455.4 429.8,455.3 430.4,455.2 431.0,455.2 431.6,455.1 432.2,455.0 432.8,454.9 433.4,454.8 434.0,454.7 434.6,454.7 435.2,454.6 435.8,454.5 436.4,454.4 437.0,454.3 437.6,454.2 438.2,454.2 438.8,454.1 439.3,454.0 439.9,453.9 440.5,453.8 441.1,453.7 441.7,453.7 442.3,453.6 442.9,453.5 443.5,453.4 444.1,453.3 444.7,453.2 445.3,453.2 445.9,453.1 446.5,453.0 447.1,452.9 447.7,452.8 448.2,452.7 448.8,452.6 449.4,452.6 450.0,452.5 450.6,452.4 451.2,452.3 451.8,452.2 452.4,452.1 453.0,452.1 453.6,452.0 454.2,451.9 454.8,451.8 455.4,451.7 456.0,451.6 456.6,451.6 457.1,451.5 457.7,451.4 458.3,451.3 458.9,451.2 459.5,451.1 460.1,451.1 460.7,451.0 461.3,450.9 461.9,450.8 462.5,450.7 463.1,450.6 463.7,450.6 464.3,450.5 464.9,450.4 465.4,450.3 466.0,450.2 466.6,450.1 467.2,450.1 467.8,450.0 468.4,449.9 469.0,449.8 469.6,449.7 470.2,449.7 470.8,449.6 471.4,449.5 472.0,449.4 472.6,449.3 473.2,449.2 473.8,449.2 474.3,449.1 474.9,449.0 475.5,448.9 476.1,448.8 476.7,448.8 477.3,448.7 477.9,448.6 478.5,448.5 479.1,448.4 479.7,448.4 480.3,448.3 480.9,448.2 481.5,448.1 482.1,448.0 482.6,447.9 483.2,447.9 483.8,447.8 484.4,447.7 485.0,447.6 485.6,447.6 486.2,447.5 486.8,447.4 487.4,447.3 488.0,447.2 488.6,447.2 489.2,447.1 489.8,447.0 490.4,446.9 491.0,446.8 491.6,446.8 492.1,446.7 492.7,446.6 493.3,446.5 493.9,446.5 494.5,446.4 495.1,446.3 495.7,446.2 496.3,446.2 496.9,446.1 497.5,446.0 498.1,445.9 498.7,445.8 499.3,445.8 499.9,445.7 500.5,445.6 501.1,445.5 501.6,445.5 502.2,445.4 502.8,445.3 503.4,445.3 504.0,445.2 504.6,445.1 505.2,445.0 505.8,445.0 506.4,444.9 507.0,444.8 507.6,444.7 508.2,444.7 508.8,444.6 509.4,444.5 510.0,444.5 510.6,444.4 511.2,444.3 511.8,444.2 512.4,444.2 513.0,444.1 513.5,444.0 514.1,444.0 514.7,443.9 515.3,443.8 515.9,443.8 516.5,443.7 517.1,443.6 517.7,443.5 518.3,443.5 518.9,443.4 519.5,443.3 520.1,443.3 520.7,443.2 521.3,443.1 521.9,443.1 522.5,443.0 523.1,442.9 523.7,442.9 524.3,442.8 524.9,442.7 525.5,442.7 526.1,442.6 526.7,442.5 527.2,442.5 527.8,442.4 528.4,442.3 529.0,442.3 529.6,442.2 530.2,442.1 530.8,442.1 531.4,442.0 532.0,442.0 532.6,441.9 533.2,441.8 533.8,441.8 534.4,441.7 535.0,441.6 535.6,441.6 536.2,441.5 536.8,441.4 537.4,441.4 538.0,441.3 538.6,441.3 539.2,441.2 539.8,441.1 540.4,441.1 541.0,441.0 541.6,441.0 542.2,440.9 542.8,440.8 543.4,440.8 544.0,440.7 544.6,440.6 545.1,440.6 545.7,440.5 546.3,440.5 546.9,440.4 547.5,440.3 548.1,440.3 548.7,440.2 549.3,440.2 549.9,440.1 550.5,440.0 551.1,440.0 551.7,439.9 552.3,439.9 552.9,439.8 553.5,439.8 554.1,439.7 554.7,439.6 555.3,439.6 555.9,439.5 556.5,439.5 557.1,439.4 557.7,439.3 558.3,439.3 558.9,439.2 559.5,439.2 560.1,439.1 560.7,439.1 561.3,439.0 561.9,439.0 562.5,438.9 563.1,438.8 563.7,438.8 564.3,438.7 564.9,438.7 565.5,438.6 566.1,438.6 566.7,438.5 567.3,438.4 567.9,438.4 568.5,438.3 569.1,438.3 569.7,438.2 570.2,438.2 570.8,438.1 571.4,438.1 572.0,438.0 572.6,438.0 573.2,437.9 573.8,437.8 574.4,437.8 575.0,437.7 575.6,437.7 576.2,437.6 576.8,437.6 577.4,437.5 578.0,437.5 578.6,437.4 579.2,437.4 579.8,437.3 580.4,437.3 581.0,437.2 581.6,437.1 582.2,437.1 582.8,437.0 583.4,437.0 584.0,436.9 584.6,436.9 585.2,436.8 585.8,436.8 586.4,436.7 587.0,436.7 587.6,436.6 588.2,436.6 588.8,436.5 589.4,436.5 590.0,436.4 590.6,436.4 591.2,436.3 591.8,436.3 592.4,436.2 593.0,436.2 593.6,436.1 594.2,436.1 594.8,436.0 595.4,436.0 596.0,435.9 596.6,435.9 597.2,435.8 597.8,435.8 598.4,435.7 599.0,435.7 599.6,435.6 600.2,435.6 600.8,435.5 601.4,435.4 602.0,435.4 602.6,435.3 603.2,435.3 603.8,435.2 604.3,435.2 604.9,435.1 605.5,435.1 606.1,435.0 606.7,435.0 607.3,434.9 607.9,434.9 608.5,434.8 609.1,434.8 609.7,434.8 610.3,434.7 610.9,434.7 611.5,434.6 612.1,434.6 612.7,434.5 613.3,434.5 613.9,434.4 614.5,434.4 615.1,434.3 615.7,434.3 616.3,434.2 616.9,434.2 617.5,434.1 618.1,434.1 618.7,434.0 619.3,434.0 619.9,433.9 620.5,433.9 621.1,433.8 621.7,433.8 622.3,433.7 622.9,433.7 623.5,433.6 624.1,433.6 624.7,433.5 625.3,433.5 625.9,433.4 626.5,433.4 627.1,433.3 627.7,433.3 628.3,433.2 628.9,433.2 629.5,433.1 630.1,433.1 630.7,433.0 631.3,433.0 631.9,432.9 632.5,432.9 633.1,432.9 633.7,432.8 634.3,432.8 634.9,432.7 635.5,432.7 636.1,432.6 636.7,432.6 637.2,432.5 637.8,432.5 638.4,432.4 639.0,432.4 639.6,432.3 640.2,432.3 640.8,432.2 641.4,432.2 642.0,432.1 642.6,432.1 643.2,432.0 643.8,432.0 644.4,432.0 645.0,431.9 645.6,431.9 646.2,431.8 646.8,431.8 647.4,431.7 648.0,431.7 648.6,431.6 649.2,431.6 649.8,431.5 650.4,431.5 651.0,431.4 651.6,431.4 652.2,431.3 652.8,431.3 653.4,431.3 654.0,431.2 654.6,431.2 655.2,431.1 655.8,431.1 656.4,431.0 657.0,431.0 657.6,430.9 658.2,430.9 658.8,430.8 659.4,430.8 660.0,430.7 660.6,430.7 661.2,430.7 661.8,430.6 662.4,430.6 663.0,430.5 663.6,430.5 664.2,430.4 664.8,430.4 665.4,430.3 666.0,430.3 666.6,430.3 667.2,430.2 667.7,430.2 668.3,430.1 668.9,430.1 669.5,430.0 670.1,430.0 670.7,429.9 671.3,429.9 671.9,429.8 672.5,429.8 673.1,429.8 673.7,429.7 674.3,429.7 674.9,429.6 675.5,429.6 676.1,429.5 676.7,429.5 677.3,429.4 677.9,429.4 678.5,429.4 679.1,429.3 679.7,429.3 680.3,429.2 680.9,429.2 681.5,429.1 682.1,429.1 682.7,429.1 683.3,429.0 683.9,429.0 684.5,428.9 685.1,428.9 685.7,428.8 686.3,428.8 686.9,428.7 687.5,428.7 688.1,428.7 688.7,428.6 689.3,428.6 689.9,428.5 690.5,428.5 691.1,428.4 691.7,428.4 692.3,428.4 692.9,428.3 693.5,428.3 694.1,428.2 694.7,428.2 695.3,428.1 695.9,428.1 696.5,428.1 697.1,428.0 697.7,428.0 698.3,427.9 698.8,427.9 699.4,427.8 700.0,427.8 700.6,427.8 701.2,427.7 701.8,427.7 702.4,427.6 703.0,427.6 703.6,427.5 704.2,427.5 704.8,427.5 705.4,427.4 706.0,427.4 706.6,427.3 707.2,427.3 707.8,427.3 708.4,427.2 709.0,427.2 709.6,427.1 710.2,427.1 710.8,427.0 711.4,427.0 712.0,427.0 712.6,426.9 713.2,426.9 713.8,426.8 714.4,426.8 715.0,426.8 715.6,426.7 716.2,426.7 716.8,426.6 717.4,426.6 718.0,426.5 718.6,426.5 719.2,426.5 719.8,426.4 720.4,426.4 721.0,426.3 721.6,426.3 722.2,426.3 722.8,426.2 723.4,426.2 724.0,426.1 724.6,426.1 725.2,426.1 725.8,426.0 726.4,426.0 727.0,425.9 727.6,425.9 728.2,425.9 728.8,425.8 729.4,425.8 730.0,425.7 730.6,425.7 731.2,425.7 731.8,425.6 732.4,425.6 733.0,425.5 733.6,425.5 734.2,425.5 734.7,425.4 735.3,425.4 735.9,425.3 736.5,425.3 737.1,425.3 737.7,425.2 738.3,425.2 738.9,425.1 739.5,425.1 740.1,425.1 740.7,425.0 741.3,425.0 741.9,424.9 742.5,424.9 743.1,424.9 743.7,424.8 744.3,424.8 744.9,424.8 745.5,424.7 746.1,424.7 746.7,424.6 747.3,424.6 747.9,424.6 748.5,424.5 749.1,424.5 749.7,424.4 750.3,424.4 750.9,424.4 751.5,424.3 752.1,424.3 752.7,424.3 753.3,424.2 753.9,424.2 754.5,424.1 755.1,424.1 755.7,424.1 756.3,424.0 756.9,424.0 757.5,423.9 758.1,423.9 758.7,423.9 759.3,423.8 759.9,423.8 760.5,423.8 761.1,423.7 761.7,423.7 762.3,423.6 762.9,423.6 763.5,423.6 764.1,423.5 764.7,423.5 765.3,423.5 765.9,423.4 766.5,423.4 767.1,423.4 767.7,423.3 768.3,423.3 768.9,423.2 769.5,423.2 770.1,423.2 770.7,423.1 771.3,423.1 771.9,423.1 772.5,423.0 773.1,423.0 773.7,422.9 774.3,422.9 774.9,422.9 775.5,422.8 776.1,422.8 776.7,422.8 777.3,422.7 777.9,422.7 778.5,422.7 779.1,422.6 779.7,422.6 780.3,422.5 780.9,422.5 781.5,422.5 782.1,422.4 782.7,422.4 783.3,422.4 783.9,422.3 784.5,422.3 785.1,422.3 785.7,422.2 786.3,422.2 786.9,422.2 787.5,422.1 788.1,422.1 788.7,422.0 789.3,422.0 789.9,422.0 790.5,421.9 791.1,421.9 791.7,421.9 792.3,421.8 792.9,421.8 793.5,421.8 794.1,421.7 794.7,421.7 795.3,421.7 795.9,421.6 796.5,421.6 797.1,421.6 797.7,421.5 798.3,421.5 798.9,421.5 799.5,421.4 800.1,421.4 800.6,421.4 801.2,421.3 801.8,421.3 802.4,421.3 803.0,421.2 803.6,421.2 804.2,421.1 804.8,421.1 805.4,421.1 806.0,421.0 806.6,421.0 807.2,421.0 807.8,420.9 808.4,420.9 809.0,420.9" fill="none" stroke="#ff0000" stroke-width="2.4" stroke-linejoin="round" stroke-linecap="round"/>
<rect x="313.5" y="489.9" width="487.4" height="106.2" fill="#fff" stroke="#3a3a3a" stroke-width="1.2"/>
<line x1="332.8" y1="596" x2="332.8" y2="593.8" stroke="#3a3a3a" stroke-width="1.2"/>
<line x1="382.2" y1="596" x2="382.2" y2="592.0" stroke="#3a3a3a" stroke-width="1.2"/>
<line x1="431.6" y1="596" x2="431.6" y2="593.8" stroke="#3a3a3a" stroke-width="1.2"/>
<line x1="481.0" y1="596" x2="481.0" y2="592.0" stroke="#3a3a3a" stroke-width="1.2"/>
<line x1="530.5" y1="596" x2="530.5" y2="593.8" stroke="#3a3a3a" stroke-width="1.2"/>
<line x1="579.9" y1="596" x2="579.9" y2="592.0" stroke="#3a3a3a" stroke-width="1.2"/>
<line x1="629.3" y1="596" x2="629.3" y2="593.8" stroke="#3a3a3a" stroke-width="1.2"/>
<line x1="678.8" y1="596" x2="678.8" y2="592.0" stroke="#3a3a3a" stroke-width="1.2"/>
<line x1="728.2" y1="596" x2="728.2" y2="593.8" stroke="#3a3a3a" stroke-width="1.2"/>
<line x1="777.6" y1="596" x2="777.6" y2="592.0" stroke="#3a3a3a" stroke-width="1.2"/>
<text transform="translate(382.20,613.60) scale(0.980,1)" font-size="18.7" text-anchor="middle" font-weight="normal" fill="#111" stroke="#111" stroke-width="0.45">400</text>
<text transform="translate(481.05,613.60) scale(0.980,1)" font-size="18.7" text-anchor="middle" font-weight="normal" fill="#111" stroke="#111" stroke-width="0.45">500</text>
<text transform="translate(579.90,613.60) scale(0.980,1)" font-size="18.7" text-anchor="middle" font-weight="normal" fill="#111" stroke="#111" stroke-width="0.45">600</text>
<text transform="translate(678.75,613.60) scale(0.980,1)" font-size="18.7" text-anchor="middle" font-weight="normal" fill="#111" stroke="#111" stroke-width="0.45">700</text>
<text transform="translate(777.60,613.60) scale(0.980,1)" font-size="18.7" text-anchor="middle" font-weight="normal" fill="#111" stroke="#111" stroke-width="0.45">800</text>
<polyline points="323.3,596.0 323.4,595.3 323.6,594.6 323.7,593.9 323.9,593.2 324.0,592.5 324.2,591.8 324.3,591.1 324.4,590.3 324.6,589.6 324.7,588.9 324.9,588.2 325.0,587.5 325.1,586.8 325.3,586.2 325.4,585.5 325.6,584.9 325.7,584.2 325.9,583.6 326.0,583.0 326.2,582.3 326.4,581.5 326.5,580.9 326.7,580.2 326.9,579.5 327.1,578.9 327.3,578.2 327.4,577.6 327.6,577.0 327.8,576.4 328.0,575.7 328.2,575.1 328.3,574.5 328.5,573.9 328.7,573.3 328.9,572.6 329.1,572.0 329.2,571.3 329.4,570.7 329.6,570.0 329.8,569.4 329.9,568.7 330.1,568.1 330.3,567.4 330.4,566.7 330.6,566.0 330.7,565.3 330.9,564.6 331.1,563.9 331.2,563.1 331.4,562.4 331.6,561.7 331.7,561.0 331.9,560.3 332.0,559.6 332.2,558.8 332.4,558.2 332.5,557.5 332.7,556.8 332.9,556.1 333.0,555.5 333.2,554.9 333.3,554.2 333.5,553.6 333.7,553.1 333.8,552.5 334.0,552.0 334.2,551.2 334.5,550.4 334.8,549.7 335.0,548.9 335.2,548.2 335.5,547.5 335.8,546.7 336.0,546.0 336.2,545.3 336.5,544.7 336.8,544.0 337.0,543.3 337.2,542.7 337.5,542.1 337.8,541.5 338.0,540.9 338.2,540.3 338.5,539.8 338.8,539.3 339.0,538.8 339.2,538.3 339.5,537.8 339.8,537.4 340.0,537.0 340.4,536.3 340.9,535.7 341.3,535.1 341.7,534.5 342.1,533.9 342.6,533.3 343.0,532.8 343.4,532.3 343.9,531.9 344.3,531.4 344.7,531.0 345.1,530.7 345.6,530.3 346.0,530.0 346.6,529.6 347.2,529.1 347.9,528.7 348.5,528.3 349.1,528.0 349.8,527.7 350.4,527.6 351.0,527.5 351.6,527.5 352.2,527.5 352.8,527.6 353.3,527.6 353.9,527.7 354.5,527.8 354.9,528.0 355.4,528.3 355.8,528.8 356.2,529.3 356.6,529.9 357.1,530.5 357.5,531.0 357.9,531.5 358.3,532.2 358.7,532.9 359.1,533.6 359.5,534.3 359.9,534.8 360.3,535.2 360.7,535.3 361.1,535.2 361.5,534.9 361.9,534.5 362.3,534.0 362.7,533.4 363.1,532.7 363.5,532.0 363.7,531.6 363.9,531.2 364.1,530.6 364.3,530.1 364.5,529.4 364.7,528.8 364.9,528.1 365.1,527.4 365.3,526.7 365.5,526.0 365.7,525.4 365.8,524.7 366.0,523.9 366.2,523.1 366.3,522.3 366.5,521.6 366.7,520.9 366.8,520.4 367.0,520.0 367.5,519.2 367.9,518.6 368.4,518.0 368.8,517.5 369.3,517.0 369.7,516.6 370.2,516.2 370.6,515.9 371.1,515.6 371.5,515.3 372.0,515.0 372.6,514.6 373.2,514.3 373.8,513.9 374.4,513.6 375.0,513.3 375.6,513.1 376.2,512.8 376.8,512.5 377.4,512.3 378.0,512.0 378.6,511.7 379.2,511.5 379.8,511.2 380.4,511.0 381.1,510.7 381.7,510.5 382.3,510.3 382.9,510.0 383.5,509.8 384.1,509.6 384.8,509.3 385.4,509.0 386.1,508.8 386.8,508.5 387.4,508.3 388.1,508.1 388.7,507.9 389.4,507.7 390.0,507.5 390.6,507.4 391.2,507.2 391.9,507.1 392.5,507.0 393.1,506.9 393.8,506.8 394.4,506.7 395.0,506.5 395.5,506.3 396.0,505.9 396.5,505.6 397.0,505.3 397.5,505.2 398.0,505.4 398.5,505.8 399.0,506.4 399.5,507.0 399.8,507.4 400.1,508.0 400.4,508.7 400.6,509.4 400.9,510.0 401.2,510.6 401.5,511.0 402.0,511.6 402.5,512.1 402.9,512.6 403.4,513.0 403.9,513.3 404.4,513.4 405.0,513.4 405.6,513.3 406.3,513.3 406.9,513.1 407.5,513.0 408.1,512.9 408.8,512.8 409.4,512.6 410.0,512.5 410.7,512.4 411.3,512.2 412.0,512.0 412.7,511.8 413.3,511.6 414.0,511.4 414.7,511.2 415.3,511.0 416.0,510.8 416.7,510.6 417.3,510.4 418.0,510.1 418.7,509.9 419.3,509.7 420.0,509.5 420.7,509.3 421.3,509.1 422.0,508.9 422.7,508.7 423.3,508.5 424.0,508.3 424.7,508.1 425.3,507.9 426.0,507.7 426.7,507.5 427.3,507.3 428.0,507.1 428.7,506.9 429.3,506.7 430.0,506.5 430.7,506.3 431.3,506.1 432.0,505.9 432.7,505.7 433.3,505.5 434.0,505.3 434.7,505.1 435.3,505.0 436.0,504.8 436.7,504.6 437.3,504.4 438.0,504.2 438.7,503.9 439.3,503.7 440.0,503.5 440.6,503.3 441.2,503.1 441.9,502.8 442.5,502.6 443.1,502.3 443.8,502.1 444.4,501.8 445.0,501.6 445.6,501.3 446.2,501.1 446.9,500.8 447.5,500.5 448.1,500.3 448.8,500.0 449.4,499.8 450.0,499.5 450.6,499.2 451.2,499.0 451.9,498.7 452.5,498.5 453.1,498.2 453.8,497.9 454.4,497.7 455.0,497.4 455.6,497.1 456.2,496.9 456.9,496.6 457.5,496.4 458.1,496.2 458.8,495.9 459.4,495.7 460.0,495.5 460.6,495.3 461.3,495.1 461.9,494.8 462.6,494.6 463.2,494.3 463.9,494.1 464.6,493.9 465.2,493.7 465.9,493.5 466.5,493.3 467.2,493.2 467.8,493.1 468.5,493.0 469.1,493.0 469.8,493.0 470.4,493.1 471.1,493.1 471.7,493.2 472.4,493.3 473.0,493.4 473.7,493.5 474.3,493.7 475.0,493.8 475.6,494.0 476.2,494.2 476.8,494.4 477.4,494.7 478.0,495.1 478.6,495.4 479.2,495.8 479.8,496.2 480.4,496.6 481.0,497.0 481.5,497.3 481.9,497.7 482.4,498.1 482.9,498.5 483.4,498.9 483.8,499.4 484.3,499.9 484.8,500.3 485.3,500.8 485.7,501.3 486.2,501.9 486.7,502.4 487.2,502.9 487.6,503.4 488.1,503.9 488.6,504.5 489.1,505.0 489.5,505.5 490.0,506.0 490.5,506.5 490.9,507.0 491.4,507.5 491.9,508.0 492.3,508.5 492.8,509.0 493.3,509.5 493.7,510.0 494.2,510.5 494.7,511.0 495.2,511.5 495.6,512.0 496.1,512.6 496.6,513.1 497.0,513.6 497.5,514.2 498.0,514.7 498.4,515.2 498.9,515.8 499.3,516.3 499.7,516.8 500.1,517.3 500.5,517.8 500.9,518.3 501.3,518.8 501.7,519.4 502.2,519.9 502.6,520.4 503.0,521.0 503.4,521.5 503.8,522.0 504.2,522.5 504.6,523.0 505.0,523.5 505.5,524.0 505.9,524.6 506.4,525.2 506.8,525.7 507.3,526.3 507.7,526.9 508.2,527.4 508.6,528.0 509.1,528.5 509.5,528.9 510.0,529.4 510.4,529.8 510.9,530.2 511.5,530.6 512.0,531.1 512.6,531.5 513.2,531.8 513.7,532.2 514.3,532.6 514.9,532.9 515.5,533.2 516.0,533.5 516.6,533.8 517.2,534.1 517.7,534.4 518.3,534.7 518.9,535.0 519.4,535.2 520.0,535.5 520.6,535.8 521.3,536.1 521.9,536.5 522.5,536.8 523.2,537.1 523.8,537.4 524.4,537.8 525.1,538.1 525.7,538.4 526.4,538.7 527.0,538.9 527.6,539.1 528.3,539.3 528.9,539.5 529.5,539.6 530.2,539.7 530.8,539.7 531.3,539.6 531.9,539.3 532.4,538.9 532.9,538.5 533.5,538.0 534.0,537.5 534.4,537.1 534.8,536.5 535.2,535.9 535.6,535.2 536.1,534.5 536.5,533.9 536.9,533.4 537.3,533.1 537.7,533.0 538.3,533.1 538.9,533.3 539.5,533.7 540.2,534.1 540.8,534.5 541.4,534.8 542.0,535.0 542.7,535.1 543.3,535.2 544.0,535.3 544.7,535.4 545.3,535.5 546.0,535.6 546.7,535.7 547.3,535.7 548.0,535.8 548.7,535.9 549.3,535.9 550.0,536.0 550.7,536.1 551.3,536.2 552.0,536.2 552.6,536.3 553.3,536.4 554.0,536.4 554.6,536.5 555.3,536.6 556.0,536.7 556.6,536.7 557.3,536.8 557.9,536.9 558.6,537.0 559.3,537.1 559.9,537.2 560.6,537.3 561.3,537.5 562.0,537.6 562.6,537.7 563.3,537.9 564.0,538.0 564.6,538.2 565.3,538.3 566.0,538.5 566.7,538.7 567.3,538.8 568.0,539.0 568.7,539.2 569.3,539.3 570.0,539.5 570.6,539.7 571.3,539.9 571.9,540.1 572.6,540.3 573.2,540.4 573.9,540.6 574.6,540.9 575.2,541.1 575.9,541.3 576.5,541.5 577.2,541.7 577.8,541.9 578.5,542.1 579.1,542.4 579.8,542.6 580.4,542.8 581.1,543.1 581.7,543.3 582.3,543.6 583.0,543.8 583.6,544.1 584.3,544.4 584.9,544.6 585.5,544.9 586.2,545.2 586.8,545.5 587.5,545.7 588.1,546.0 588.7,546.3 589.4,546.5 590.0,546.8 590.6,547.1 591.3,547.3 591.9,547.6 592.6,547.8 593.2,548.1 593.9,548.3 594.5,548.6 595.2,548.8 595.8,549.1 596.5,549.3 597.1,549.6 597.8,549.8 598.4,550.1 599.1,550.3 599.7,550.6 600.3,550.9 601.0,551.1 601.6,551.3 602.3,551.6 602.9,551.8 603.6,552.1 604.2,552.3 604.9,552.6 605.5,552.8 606.1,553.1 606.8,553.3 607.4,553.6 608.1,553.8 608.7,554.1 609.4,554.3 610.0,554.6 610.6,554.9 611.3,555.1 611.9,555.4 612.6,555.7 613.2,555.9 613.8,556.2 614.5,556.5 615.1,556.7 615.8,557.0 616.4,557.3 617.0,557.5 617.7,557.8 618.3,558.0 619.0,558.3 619.6,558.5 620.2,558.7 620.9,559.0 621.6,559.2 622.2,559.4 622.9,559.6 623.5,559.8 624.1,560.0 624.8,560.2 625.5,560.4 626.1,560.6 626.8,560.8 627.4,561.0 628.0,561.2 628.7,561.4 629.4,561.6 630.0,561.8 630.6,562.0 631.3,562.2 631.9,562.4 632.5,562.5 633.2,562.7 633.8,562.9 634.4,563.1 635.1,563.3 635.7,563.5 636.3,563.6 637.0,563.8 637.6,564.0 638.2,564.2 638.9,564.3 639.5,564.5 640.2,564.7 640.8,564.9 641.5,565.0 642.1,565.2 642.8,565.4 643.4,565.6 644.1,565.7 644.8,565.9 645.4,566.1 646.1,566.2 646.7,566.4 647.4,566.6 648.0,566.7 648.7,566.9 649.3,567.0 650.0,567.2 650.7,567.4 651.4,567.5 652.0,567.7 652.7,567.9 653.4,568.1 654.1,568.3 654.8,568.4 655.5,568.6 656.1,568.8 656.8,569.0 657.5,569.1 658.2,569.3 658.9,569.4 659.6,569.5 660.2,569.6 660.9,569.6 661.6,569.7 662.3,569.7 662.4,569.5 662.5,569.0 662.6,568.2 662.7,567.4 662.8,566.6 662.9,565.9 663.0,565.5 663.4,564.7 663.9,564.1 664.3,563.9 665.0,563.9 665.6,563.9 666.3,564.0 667.0,564.1 667.6,564.2 668.3,564.3 669.0,564.4 669.6,564.5 670.3,564.6 671.0,564.8 671.7,564.9 672.3,565.0 673.0,565.2 673.7,565.3 674.3,565.4 675.0,565.5 675.7,565.6 676.4,565.7 677.0,565.8 677.7,565.9 678.4,566.0 679.1,566.1 679.7,566.1 680.4,566.2 681.1,566.3 681.8,566.4 682.4,566.5 683.1,566.6 683.8,566.7 684.5,566.8 685.1,566.8 685.8,566.9 686.5,567.0 687.2,567.1 687.8,567.2 688.5,567.2 689.2,567.3 689.9,567.4 690.6,567.4 691.2,567.5 691.9,567.6 692.6,567.6 693.2,567.7 693.9,567.8 694.6,567.8 695.3,567.9 696.0,568.0 696.6,568.0 697.3,568.1 698.0,568.1 698.6,568.2 699.3,568.2 700.0,568.3 700.7,568.4 701.4,568.4 702.1,568.5 702.7,568.5 703.4,568.6 704.1,568.6 704.8,568.7 705.5,568.8 706.2,568.8 706.8,568.9 707.5,568.9 708.2,569.0 708.9,569.0 709.6,569.0 710.3,569.1 710.9,569.1 711.6,569.2 712.3,569.2 713.0,569.2 713.7,569.2 714.4,569.2 715.0,569.3 715.7,569.3 716.4,569.3 717.1,569.3 717.8,569.3 718.4,569.3 719.1,569.4 719.8,569.4 720.5,569.4 721.2,569.4 721.8,569.4 722.5,569.4 723.2,569.4 723.9,569.5 724.6,569.5 725.2,569.5 725.9,569.5 726.6,569.5 727.3,569.5 728.0,569.5 728.6,569.5 729.3,569.5 730.0,569.5 730.7,569.5 731.4,569.5 732.1,569.5 732.8,569.5 733.5,569.5 734.2,569.5 734.9,569.5 735.6,569.5 736.3,569.5 737.0,569.5 737.7,569.5 738.4,569.5 739.1,569.5 739.7,569.5 740.4,569.5 741.1,569.5 741.8,569.5 742.5,569.5 743.2,569.5 743.9,569.5 744.6,569.5 745.3,569.5 746.0,569.5 746.7,569.5 747.4,569.5 748.1,569.5 748.8,569.5 749.5,569.5 750.1,569.5 750.8,569.4 751.4,569.3 752.1,569.3 752.8,569.2 753.4,569.1 754.1,569.0 754.7,568.9 755.4,568.8 756.0,568.6 756.7,568.5 757.4,568.4 758.0,568.3 758.7,568.2 759.3,568.1 760.0,568.0 760.7,567.9 761.3,567.8 762.0,567.8 762.7,567.7 763.3,567.6 764.0,567.5 764.7,567.5 765.4,567.4 766.0,567.3 766.7,567.2 767.4,567.2 768.0,567.1 768.7,567.0 769.3,566.9 769.9,566.8 770.5,566.7 771.2,566.6 771.8,566.6 772.4,566.5 773.0,566.5 773.6,566.5 774.3,566.7 775.0,566.9 775.6,567.1 776.2,567.4 776.9,567.6 777.6,567.9 778.2,568.1" fill="none" stroke="#d02cff" stroke-width="1.8" stroke-linejoin="round"/>
<rect x="632.5" y="496.9" width="160" height="20.5" fill="#fff" stroke="#222" stroke-width="1.2"/>
<line x1="634.5" y1="506.5" x2="668.3" y2="506.5" stroke="#d02cff" stroke-width="1.8"/>
<text transform="translate(671.50,511.90) scale(0.890,1)" font-size="17.2" text-anchor="start" font-weight="normal" fill="#111" stroke="#111" stroke-width="0.45">Glass-AuNP 10%</text>
<rect x="64.9" y="9.7" width="745.8" height="627.5" fill="none" stroke="#000" stroke-width="2.7"/>
<line x1="139.5" y1="637.2" x2="139.5" y2="632.4000000000001" stroke="#000" stroke-width="2.7" stroke-linecap="round"/>
<line x1="214.1" y1="637.2" x2="214.1" y2="626.9000000000001" stroke="#000" stroke-width="2.7" stroke-linecap="round"/>
<line x1="288.6" y1="637.2" x2="288.6" y2="632.4000000000001" stroke="#000" stroke-width="2.7" stroke-linecap="round"/>
<line x1="363.2" y1="637.2" x2="363.2" y2="626.9000000000001" stroke="#000" stroke-width="2.7" stroke-linecap="round"/>
<line x1="437.8" y1="637.2" x2="437.8" y2="632.4000000000001" stroke="#000" stroke-width="2.7" stroke-linecap="round"/>
<line x1="512.4" y1="637.2" x2="512.4" y2="626.9000000000001" stroke="#000" stroke-width="2.7" stroke-linecap="round"/>
<line x1="587.0" y1="637.2" x2="587.0" y2="632.4000000000001" stroke="#000" stroke-width="2.7" stroke-linecap="round"/>
<line x1="661.5" y1="637.2" x2="661.5" y2="626.9000000000001" stroke="#000" stroke-width="2.7" stroke-linecap="round"/>
<line x1="736.1" y1="637.2" x2="736.1" y2="632.4000000000001" stroke="#000" stroke-width="2.7" stroke-linecap="round"/>
<text transform="translate(64.90,666.80) scale(0.845,1)" font-size="21.9" text-anchor="middle" font-weight="normal" fill="#111" stroke="#111" stroke-width="0.45">300</text>
<text transform="translate(214.06,666.80) scale(0.845,1)" font-size="21.9" text-anchor="middle" font-weight="normal" fill="#111" stroke="#111" stroke-width="0.45">400</text>
<text transform="translate(363.22,666.80) scale(0.845,1)" font-size="21.9" text-anchor="middle" font-weight="normal" fill="#111" stroke="#111" stroke-width="0.45">500</text>
<text transform="translate(512.38,666.80) scale(0.845,1)" font-size="21.9" text-anchor="middle" font-weight="normal" fill="#111" stroke="#111" stroke-width="0.45">600</text>
<text transform="translate(661.54,666.80) scale(0.845,1)" font-size="21.9" text-anchor="middle" font-weight="normal" fill="#111" stroke="#111" stroke-width="0.45">700</text>
<text transform="translate(810.70,666.80) scale(0.845,1)" font-size="21.9" text-anchor="middle" font-weight="normal" fill="#111" stroke="#111" stroke-width="0.45">800</text>
<line x1="64.9" y1="558.8" x2="69.7" y2="558.8" stroke="#000" stroke-width="2.7" stroke-linecap="round"/>
<line x1="64.9" y1="480.3" x2="75.2" y2="480.3" stroke="#000" stroke-width="2.7" stroke-linecap="round"/>
<line x1="64.9" y1="401.9" x2="69.7" y2="401.9" stroke="#000" stroke-width="2.7" stroke-linecap="round"/>
<line x1="64.9" y1="323.5" x2="75.2" y2="323.5" stroke="#000" stroke-width="2.7" stroke-linecap="round"/>
<line x1="64.9" y1="245.0" x2="69.7" y2="245.0" stroke="#000" stroke-width="2.7" stroke-linecap="round"/>
<line x1="64.9" y1="166.6" x2="75.2" y2="166.6" stroke="#000" stroke-width="2.7" stroke-linecap="round"/>
<line x1="64.9" y1="88.1" x2="69.7" y2="88.1" stroke="#000" stroke-width="2.7" stroke-linecap="round"/>
<text transform="translate(51.70,643.70) scale(0.835,1)" font-size="21.9" text-anchor="end" font-weight="normal" fill="#111" stroke="#111" stroke-width="0.45">0</text>
<text transform="translate(51.70,486.83) scale(0.835,1)" font-size="21.9" text-anchor="end" font-weight="normal" fill="#111" stroke="#111" stroke-width="0.45">20</text>
<text transform="translate(51.70,329.95) scale(0.835,1)" font-size="21.9" text-anchor="end" font-weight="normal" fill="#111" stroke="#111" stroke-width="0.45">40</text>
<text transform="translate(51.70,173.08) scale(0.835,1)" font-size="21.9" text-anchor="end" font-weight="normal" fill="#111" stroke="#111" stroke-width="0.45">60</text>
<text transform="translate(51.70,16.20) scale(0.835,1)" font-size="21.9" text-anchor="end" font-weight="normal" fill="#111" stroke="#111" stroke-width="0.45">80</text>
<rect x="72.6" y="17.6" width="224.7" height="90.9" fill="#fff" stroke="#333" stroke-width="1.6"/>
<line x1="75.5" y1="29.0" x2="113.4" y2="29.0" stroke="#0000ff" stroke-width="3"/>
<text transform="translate(117.20,35.50) scale(0.903,1)" font-size="19.0" text-anchor="start" font-weight="normal" fill="#111" stroke="#111" stroke-width="0.45">Au/Counterac<tspan dx="-2.6">t</tspan><tspan dx="2.2">ant</tspan> 2.5%</text>
<line x1="75.5" y1="52.0" x2="113.4" y2="52.0" stroke="#00ffff" stroke-width="3"/>
<text transform="translate(117.20,57.40) scale(0.903,1)" font-size="19.0" text-anchor="start" font-weight="normal" fill="#111" stroke="#111" stroke-width="0.45">Au/Counterac<tspan dx="-2.6">t</tspan><tspan dx="2.2">ant</tspan> 5.0%</text>
<line x1="75.5" y1="73.0" x2="113.4" y2="73.0" stroke="#00ff00" stroke-width="3"/>
<text transform="translate(117.20,78.90) scale(0.903,1)" font-size="19.0" text-anchor="start" font-weight="normal" fill="#111" stroke="#111" stroke-width="0.45">Au/Counterac<tspan dx="-2.6">t</tspan><tspan dx="2.2">ant</tspan> 7.5%</text>
<line x1="75.5" y1="95.4" x2="113.4" y2="95.4" stroke="#ff0000" stroke-width="3"/>
<text transform="translate(117.20,101.20) scale(0.903,1)" font-size="19.0" text-anchor="start" font-weight="normal" fill="#111" stroke="#111" stroke-width="0.45">Au/Counterac<tspan dx="-2.6">t</tspan><tspan dx="2.2">ant</tspan> 10%</text>
<text transform="translate(751.76,59.20) scale(0.945,1)" font-size="48.3" text-anchor="start" font-weight="bold" fill="#000">A</text>
<text transform="translate(786.20,57.90) scale(0.830,1)" font-size="49" text-anchor="start" font-weight="bold" fill="#000">)</text>
<text transform="translate(364.00,697.90) scale(0.885,1)" font-size="26" text-anchor="start" font-weight="normal" fill="#111" stroke="#111" stroke-width="0.45">Wavelength(nm)</text>
<text transform="translate(20.40,391.60) rotate(-90) scale(0.905,1)" font-size="26" text-anchor="start" font-weight="normal" fill="#111" stroke="#111" stroke-width="0.45">Transmitance %</text>
</g>
<g font-family="'Liberation Sans', Arial, sans-serif">
<polyline points="897.4,602.9 898.3,606.8 899.3,606.5 900.2,604.0 901.1,605.3 902.0,605.1 902.9,606.2 903.9,607.0 904.8,603.4 905.7,603.0 906.6,607.2 907.5,605.1 908.4,606.7 909.3,602.7 910.1,604.9 911.0,606.3 911.9,603.6 912.8,607.2 913.7,606.8 914.6,602.1 915.4,601.9 916.3,604.4 917.2,606.3 918.0,603.2 918.9,602.1 919.8,603.0 920.6,600.7 921.5,601.5 922.4,602.4 923.2,602.4 924.1,600.8 924.9,600.5 925.8,600.2 926.7,601.1 927.5,600.0 928.4,598.3 929.2,602.2 930.1,600.5 930.9,600.6 931.8,597.9 932.6,601.8 933.5,600.9 934.3,596.7 935.2,597.5 936.0,599.2 936.9,598.9 937.7,599.8 938.6,596.9 939.4,598.7 940.3,597.6 941.2,595.5 942.0,596.7 942.9,598.0 943.8,597.6 944.7,595.7 945.5,595.9 946.4,592.9 947.3,593.8 948.2,596.5 949.1,594.3 949.9,592.8 950.7,594.4 951.5,594.8 952.2,594.1 953.0,592.1 953.7,591.9 954.4,591.7 955.1,592.6 955.8,590.8 956.5,589.8 957.2,590.1 958.0,587.6 958.8,587.6 959.6,591.1 960.5,592.6 961.3,590.6 962.2,589.6 963.0,588.4 963.9,590.1 964.8,592.5 965.6,591.3 966.5,590.0 967.4,591.5 968.3,588.1 969.1,589.3 970.0,591.4 970.8,589.1 971.6,588.2 972.4,586.9 973.2,588.0 974.0,589.7 974.8,584.3 975.5,587.9 976.2,587.5 976.9,587.3 977.6,586.0 978.2,585.7 978.9,583.7 979.5,583.3 980.0,582.0 980.6,579.7 981.1,582.5 981.7,580.5 982.2,578.2 982.6,578.7 983.1,577.8 983.6,576.6 984.0,575.7 984.4,575.6 984.8,575.1 985.2,574.2 985.6,572.8 985.9,570.5 986.3,570.4 986.6,569.4 987.0,569.9 987.3,569.9 987.6,568.8 987.9,567.9 988.2,567.1 988.5,564.5 988.8,565.5 989.1,564.1 989.3,561.5 989.6,560.4 989.8,559.6 990.1,560.8 990.3,558.5 990.5,557.3 990.7,557.8 991.0,556.2 991.2,554.6 991.4,554.0 991.6,554.1 991.7,552.3 991.9,551.7 992.1,551.9 992.3,550.4 992.4,549.2 992.6,548.6 992.8,546.7 992.9,546.7 993.1,545.9 993.2,544.5 993.4,543.4 993.5,544.3 993.6,542.5 993.8,541.0 993.9,541.0 994.0,540.5 994.2,537.9 994.3,537.1 994.4,536.5 994.5,536.8 994.7,534.7 994.8,534.9 994.9,534.0 995.0,532.8 995.1,531.3 995.2,531.9 995.3,530.7 995.4,529.2 995.5,527.8 995.6,527.7 995.7,526.3 995.8,525.8 995.9,524.4 996.0,524.1 996.1,522.1 996.2,521.7 996.3,522.0 996.4,520.9 996.5,519.0 996.5,519.1 996.6,517.2 996.7,517.4 996.8,516.2 996.9,514.7 996.9,513.6 997.0,512.3 997.1,512.8 997.2,510.5 997.2,510.9 997.3,510.2 997.4,508.7 997.4,507.2 997.5,507.4 997.6,506.6 997.6,505.3 997.7,504.1 997.8,503.0 997.8,502.1 997.9,500.9 997.9,500.8 998.0,499.5 998.1,498.2 998.1,497.2 998.2,497.2 998.2,495.7 998.3,495.1 998.3,494.0 998.4,493.8 998.4,493.0 998.5,490.8 998.6,490.2 998.6,489.5 998.7,489.5 998.7,488.3 998.8,486.8 998.8,485.7 998.9,485.4 998.9,484.8 999.0,484.0 999.0,482.3 999.0,482.1 999.1,481.0 999.1,479.8 999.2,479.5 999.2,477.7 999.3,477.4 999.3,475.7 999.4,474.9 999.4,474.9 999.5,473.1 999.5,472.9 999.6,471.8 999.6,471.2 999.7,469.7 999.7,468.8 999.8,467.9 999.8,467.7 999.9,466.4 999.9,466.0 1000.0,465.0 1000.0,463.2 1000.1,462.8 1000.1,461.3 1000.2,460.4 1000.2,459.5 1000.3,459.6 1000.3,458.6 1000.4,457.7 1000.4,456.2 1000.5,455.7 1000.5,455.0 1000.6,453.6 1000.6,452.9 1000.7,451.6 1000.7,450.5 1000.8,449.9 1000.8,449.7 1000.9,448.4 1000.9,448.0 1001.0,446.5 1001.0,445.4 1001.1,445.1 1001.1,444.2 1001.2,442.4 1001.2,442.3 1001.3,440.7 1001.3,439.8 1001.4,439.8 1001.4,437.9 1001.4,437.3 1001.5,437.3 1001.5,435.7 1001.6,434.4 1001.6,433.6 1001.7,432.8 1001.7,432.5 1001.8,430.8 1001.8,430.9 1001.9,429.3 1001.9,429.2 1002.0,428.2 1002.0,426.6 1002.1,425.6 1002.1,425.0 1002.2,423.6 1002.2,423.4 1002.3,421.8 1002.3,420.8 1002.4,421.1 1002.4,419.4 1002.4,418.8 1002.5,417.8 1002.5,416.7 1002.6,415.5 1002.6,415.6 1002.7,414.8 1002.7,413.9 1002.8,412.0 1002.8,411.2 1002.9,410.8 1002.9,410.3 1002.9,408.9 1003.0,408.2 1003.0,407.2 1003.1,405.9 1003.1,405.3 1003.2,404.1 1003.2,403.1 1003.2,402.1 1003.3,401.4 1003.3,401.3 1003.4,399.8 1003.4,399.1 1003.4,398.2 1003.5,397.7 1003.5,396.1 1003.6,395.1 1003.6,394.3 1003.6,393.3 1003.7,393.1 1003.7,392.2 1003.7,390.6 1003.8,389.8 1003.8,389.1 1003.9,388.3 1003.9,387.4 1003.9,386.1 1004.0,384.9 1004.0,384.3 1004.0,383.2 1004.1,382.8 1004.1,381.4 1004.2,380.5 1004.2,380.2 1004.2,378.9 1004.3,378.6 1004.3,377.4 1004.3,376.9 1004.4,375.2 1004.4,374.7 1004.4,374.1 1004.5,372.4 1004.5,372.5 1004.5,370.7 1004.6,370.5 1004.6,369.9 1004.6,368.8 1004.7,367.3 1004.7,366.1 1004.7,365.7 1004.8,365.3 1004.8,363.6 1004.9,363.4 1004.9,361.6 1004.9,361.7 1005.0,359.7 1005.0,359.1 1005.0,358.9 1005.1,357.9 1005.1,357.2 1005.1,356.2 1005.2,355.2 1005.2,354.2 1005.2,352.7 1005.3,352.1 1005.3,350.9 1005.3,350.6 1005.4,349.7 1005.4,348.3 1005.4,347.1 1005.5,347.3 1005.5,346.2 1005.5,345.0 1005.6,344.1 1005.6,343.6 1005.6,342.2 1005.7,341.2 1005.7,340.3 1005.8,339.3 1005.8,338.1 1005.8,337.9 1005.9,336.8 1005.9,336.0 1005.9,334.5 1006.0,334.0 1006.0,332.8 1006.1,331.9 1006.1,331.2 1006.1,331.0 1006.2,329.5 1006.2,328.6 1006.2,328.0 1006.3,326.6 1006.3,325.5 1006.4,325.2 1006.4,324.3 1006.4,323.5 1006.5,322.4 1006.5,321.8 1006.6,320.9 1006.6,319.4 1006.6,318.9 1006.7,317.9 1006.7,316.7 1006.8,316.1 1006.8,315.3 1006.8,314.9 1006.9,314.0 1006.9,312.3 1007.0,311.8 1007.0,310.2 1007.1,309.4 1007.1,309.0 1007.2,308.5 1007.2,306.8 1007.2,306.6 1007.3,305.8 1007.3,304.2 1007.4,303.8 1007.4,303.1 1007.5,301.6 1007.5,301.1 1007.6,300.3 1007.6,299.2 1007.7,298.6 1007.7,297.8 1007.8,296.9 1007.8,295.6 1007.9,294.2 1007.9,293.4 1008.0,292.5 1008.0,292.0 1008.1,291.3 1008.1,289.6 1008.2,289.4 1008.2,288.6 1008.3,287.2 1008.4,286.5 1008.4,285.2 1008.5,285.0 1008.5,283.3 1008.6,283.5 1008.6,282.4 1008.7,281.3 1008.8,280.0 1008.8,279.8 1008.9,279.0 1008.9,277.1 1009.0,277.0 1009.1,276.2 1009.1,275.1 1009.2,274.2 1009.3,273.0 1009.3,272.7 1009.4,271.8 1009.5,270.2 1009.5,269.9 1009.6,268.5 1009.7,267.3 1009.7,266.6 1009.8,265.5 1009.9,265.5 1009.9,264.7 1010.0,262.8 1010.1,262.5 1010.1,261.3 1010.2,260.1 1010.3,259.4 1010.4,258.5 1010.4,258.2 1010.5,256.4 1010.6,255.7 1010.7,255.1 1010.8,253.7 1010.8,253.6 1010.9,252.6 1011.0,252.0 1011.1,250.4 1011.2,249.6 1011.3,249.0 1011.3,247.8 1011.4,247.2 1011.5,246.0 1011.6,245.6 1011.7,244.8 1011.8,243.9 1011.9,243.3 1012.0,241.8 1012.1,240.9 1012.2,240.4 1012.3,239.4 1012.4,238.3 1012.5,237.2 1012.6,236.2 1012.7,235.1 1012.8,235.0 1013.0,233.3 1013.1,233.2 1013.2,232.0 1013.3,231.6 1013.4,230.5 1013.5,229.9 1013.7,228.0 1013.8,227.5 1013.9,226.7 1014.1,225.5 1014.2,224.8 1014.3,223.8 1014.5,223.1 1014.6,221.5 1014.8,221.2 1014.9,220.3 1015.1,219.2 1015.2,218.4 1015.4,218.0 1015.5,217.0 1015.7,215.9 1015.9,215.2 1016.0,213.9 1016.2,212.8 1016.4,211.7 1016.5,211.1 1016.7,210.6 1016.9,210.1 1017.1,209.1 1017.3,207.8 1017.5,207.5 1017.7,206.0 1017.8,205.5 1018.0,204.1 1018.3,203.6 1018.5,203.0 1018.7,201.3 1018.9,200.2 1019.1,199.9 1019.3,198.9 1019.5,197.8 1019.8,196.4 1020.0,196.0 1020.2,195.2 1020.5,194.2 1020.7,193.9 1021.0,192.7 1021.3,192.1 1021.6,191.5 1022.0,190.6 1022.4,189.6 1022.8,189.3 1023.2,188.6 1023.7,188.1 1024.2,187.7 1024.8,187.1 1025.4,187.1 1026.1,187.0 1026.9,187.3 1027.7,187.2 1028.5,187.5 1029.4,187.7 1030.3,188.1 1031.2,188.2 1032.1,188.4 1033.0,188.7 1033.9,189.8 1034.7,190.5 1035.4,190.6 1036.1,190.6 1036.7,191.9 1037.3,192.0 1037.8,192.5 1038.3,192.5 1038.8,193.5 1039.4,194.4 1039.9,194.5 1040.4,195.0 1040.9,195.9 1041.5,195.7 1042.0,196.8 1042.6,197.9 1043.1,198.2 1043.7,198.5 1044.3,199.4 1044.8,199.9 1045.4,200.0 1046.0,200.6 1046.6,202.1 1047.2,201.9 1047.8,202.3 1048.4,203.9 1049.0,204.1 1049.6,204.6 1050.2,205.4 1050.8,206.3 1051.4,206.3 1052.1,207.5 1052.7,208.2 1053.3,209.0 1053.9,209.0 1054.6,210.0 1055.2,210.3 1055.8,211.3 1056.5,211.5 1057.1,212.9 1057.7,213.7 1058.4,213.7 1059.0,214.2 1059.7,215.7 1060.3,216.1 1060.9,216.9 1061.6,216.6 1062.2,218.3 1062.8,218.6 1063.5,218.9 1064.1,219.7 1064.7,220.7 1065.4,221.4 1066.0,221.3 1066.7,222.5 1067.3,222.6 1067.9,224.2 1068.6,224.2 1069.2,225.4 1069.9,225.8 1070.5,226.3 1071.2,226.5 1071.8,227.4 1072.5,227.6 1073.1,228.2 1073.8,229.5 1074.4,229.7 1075.1,230.8 1075.7,230.8 1076.4,231.9 1077.1,232.5 1077.7,232.6 1078.4,233.0 1079.1,233.9 1079.8,234.6 1080.5,234.7 1081.1,235.4 1081.8,235.8 1082.5,237.0 1083.2,237.9 1083.9,237.6 1084.6,237.9 1085.4,239.3 1086.1,239.9 1086.8,240.6 1087.5,240.7 1088.2,240.9 1089.0,242.0 1089.7,241.7 1090.5,242.9 1091.2,242.7 1092.0,243.5 1092.7,244.1 1093.5,244.5 1094.2,244.7 1095.0,245.2 1095.7,246.4 1096.5,246.5 1097.3,247.1 1098.1,247.1 1098.8,248.1 1099.6,248.1 1100.4,248.9 1101.2,249.7 1102.0,250.3 1102.7,249.6 1103.5,250.9 1104.3,251.4 1105.1,251.2 1105.9,251.8 1106.7,252.4 1107.5,253.3 1108.3,253.1 1109.1,254.1 1109.9,254.4 1110.7,254.1 1111.5,255.4 1112.3,254.7 1113.1,255.3 1113.9,256.4 1114.7,256.1 1115.5,256.9 1116.3,257.0 1117.1,257.8 1117.9,258.7 1118.6,259.2 1119.4,258.6 1120.2,259.0 1121.0,260.4 1121.8,259.8 1122.6,260.5 1123.4,260.7 1124.2,261.1 1125.0,261.5 1125.8,262.6 1126.6,263.2 1127.4,263.5 1128.2,264.1 1129.0,264.3 1129.8,264.4 1130.6,265.1 1131.4,265.9 1132.2,266.0 1133.0,265.9 1133.8,266.1 1134.6,267.6 1135.4,267.6 1136.2,267.7 1137.0,268.4 1137.8,268.8 1138.6,269.2 1139.4,269.1 1140.2,269.8 1140.9,270.3 1141.7,270.5 1142.5,271.7 1143.3,271.6 1144.1,272.3 1144.9,272.8 1145.7,273.3 1146.5,273.7 1147.3,274.1 1148.0,274.0 1148.8,275.3 1149.6,274.7 1150.4,276.1 1151.2,276.4 1152.0,276.8 1152.8,276.3 1153.6,276.8 1154.3,278.1 1155.1,278.1 1155.9,278.4 1156.7,279.6 1157.5,278.9 1158.3,279.9 1159.1,280.2 1159.9,280.3 1160.6,281.0 1161.4,281.8 1162.2,282.5 1163.0,281.9 1163.8,282.9 1164.6,282.8 1165.4,284.1 1166.2,283.7 1167.0,284.1 1167.7,284.9 1168.5,285.7 1169.3,285.7 1170.1,285.9 1170.9,287.1 1171.7,287.5 1172.5,288.0 1173.3,287.8 1174.1,288.3 1174.9,288.6 1175.7,289.3 1176.5,289.5 1177.3,289.9 1178.1,290.9 1178.9,291.5 1179.7,291.5 1180.5,291.3 1181.3,292.4 1182.1,292.5 1182.9,293.6 1183.7,293.7 1184.5,294.2 1185.4,294.4 1186.2,294.6 1187.0,295.5 1187.8,295.8 1188.6,295.5 1189.4,295.7 1190.2,296.4 1191.1,297.0 1191.9,296.8 1192.7,297.5 1193.5,298.2 1194.3,297.9 1195.2,299.2 1196.0,299.4 1196.8,299.3 1197.6,299.7 1198.5,300.1 1199.3,300.4 1200.1,301.3 1200.9,301.3 1201.8,301.7 1202.6,301.6 1203.4,302.9 1204.3,302.5 1205.1,302.8 1205.9,302.8 1206.8,304.3 1207.6,304.0 1208.5,304.8 1209.3,305.1 1210.1,305.5 1211.0,305.6 1211.8,306.1 1212.7,306.4 1213.5,306.5 1214.4,306.0 1215.2,306.7 1216.1,307.1 1216.9,307.9 1217.8,307.9 1218.7,308.0 1219.5,308.4 1220.4,308.2 1221.2,309.1 1222.1,309.0 1223.0,308.9 1223.8,309.3 1224.7,310.1 1225.5,309.8 1226.4,309.6 1227.3,309.8 1228.2,310.6 1229.0,310.7 1229.9,311.3 1230.8,310.6 1231.7,311.1 1232.5,311.6 1233.4,311.0 1234.3,311.2 1235.2,311.9 1236.1,311.8 1236.9,311.7 1237.8,312.1 1238.7,312.6 1239.6,312.6 1240.5,312.2 1241.4,312.4 1242.3,313.4 1243.2,313.3 1244.1,312.9 1245.0,313.8 1245.9,312.9 1246.8,313.4 1247.7,314.1 1248.6,314.0 1249.4,313.6 1250.3,314.5 1251.2,314.2 1252.1,314.6 1253.0,314.8 1253.9,314.3 1254.8,314.7 1255.7,314.7 1256.6,315.2 1257.5,315.2 1258.4,315.2 1259.3,315.4 1260.2,315.7 1261.1,314.9 1262.0,315.0 1262.9,315.7 1263.8,315.9 1264.7,315.7 1265.6,315.8 1266.5,315.8 1267.4,316.5 1268.3,316.5 1269.2,316.4 1270.0,315.9 1270.9,317.0 1271.8,316.7 1272.7,316.5 1273.6,316.8 1274.5,317.5 1275.4,316.8 1276.2,317.1 1277.1,317.5 1278.0,318.4 1278.9,318.4 1279.8,318.8 1280.6,318.5 1281.5,318.7 1282.4,318.9 1283.3,319.0 1284.1,319.3 1285.0,319.8 1285.9,320.1 1286.8,319.7 1287.6,320.1 1288.5,319.9 1289.4,320.1 1290.3,320.6 1291.1,320.9 1292.0,321.0 1292.9,321.7 1293.8,320.9 1294.6,321.7 1295.5,322.3 1296.4,322.2 1297.3,322.2 1298.1,322.2 1299.0,322.4 1299.9,323.2 1300.8,323.4 1301.7,323.3 1302.5,323.7 1303.4,323.9 1304.3,324.0 1305.2,323.7 1306.1,323.9 1307.0,324.5 1307.8,324.2 1308.7,324.8 1309.6,324.6 1310.5,324.6 1311.4,324.9 1312.3,324.7 1313.1,325.1 1314.0,325.4 1314.9,325.0 1315.8,325.4 1316.7,325.6 1317.6,326.5 1318.5,326.3 1319.4,326.1 1320.3,327.1 1321.1,326.4 1322.0,326.8 1322.9,327.2 1323.8,327.3 1324.7,327.2 1325.6,327.7 1326.5,327.5 1327.4,327.9 1328.3,327.8 1329.2,328.5 1330.0,328.3 1330.9,327.7 1331.8,327.9 1332.7,329.0 1333.6,328.3 1334.5,328.2 1335.4,328.6 1336.3,329.0 1337.2,329.7 1338.1,329.1 1339.0,329.6 1339.8,329.9 1340.7,329.1 1341.6,329.9 1342.5,330.5 1343.4,330.1 1344.3,330.2 1345.2,330.1 1346.1,330.9 1347.0,331.1 1347.8,330.1 1348.7,330.8 1349.6,330.8 1350.5,331.2 1351.4,330.7 1352.3,331.0 1353.2,331.1 1354.1,331.5 1355.0,332.0 1355.8,332.2 1356.7,332.2 1357.6,332.2 1358.5,331.7 1359.4,332.1 1360.3,332.6 1361.2,332.3 1362.1,332.7 1362.9,333.3 1363.8,332.5 1364.7,333.5 1365.6,332.7 1366.5,333.2 1367.4,334.0 1368.3,333.3 1369.2,333.8 1370.0,333.8 1370.9,334.5 1371.8,334.8 1372.7,334.1 1373.6,334.5 1374.5,335.1 1375.4,334.9 1376.3,334.6 1377.1,335.4 1378.0,335.1 1378.9,335.4 1379.8,335.0 1380.7,336.3 1381.6,336.0 1382.5,336.5 1383.4,336.7 1384.3,336.0 1385.1,336.5 1386.0,336.5 1386.9,337.1 1387.8,337.3 1388.7,336.7 1389.6,336.9 1390.5,337.6 1391.4,337.4 1392.3,337.2 1393.2,337.4 1394.0,337.9 1394.9,338.1 1395.8,338.7 1396.7,338.3 1397.6,338.5 1398.5,338.1 1399.4,338.5 1400.3,338.5 1401.2,339.1 1402.1,338.7 1403.0,338.8 1403.8,339.1 1404.7,339.3 1405.6,339.3 1406.5,339.7 1407.4,339.3 1408.3,340.2 1409.2,340.1 1410.1,340.0 1411.0,339.5 1411.9,339.9 1412.8,340.4 1413.7,340.4 1414.6,340.7 1415.5,340.9 1416.4,340.3 1417.3,340.6 1418.2,340.4 1419.1,340.2 1420.0,340.3 1420.9,340.5 1421.7,340.4 1422.6,341.0 1423.5,341.2 1424.4,341.1 1425.3,341.3 1426.2,340.8 1427.1,340.8 1428.0,341.3 1428.9,341.7 1429.8,341.2 1430.7,340.7 1431.6,340.7 1432.5,341.1 1433.4,341.5 1434.3,340.9 1435.2,341.0 1436.1,341.6 1437.0,342.0 1437.9,341.2 1438.8,341.5 1439.7,341.4 1440.6,340.8 1441.5,341.2 1442.4,340.9 1443.3,341.1 1444.2,341.7 1445.1,341.6 1446.0,340.8 1446.9,340.8 1447.8,341.6 1448.7,340.8 1449.6,341.0 1450.5,340.9 1451.4,340.6 1452.3,340.5 1453.2,340.6 1454.1,341.0 1455.0,341.7 1455.9,341.2 1456.8,340.6 1457.7,341.2 1458.6,340.6 1459.5,340.9 1460.4,340.6 1461.3,341.5 1462.2,340.5 1463.1,341.2 1464.0,340.9 1464.9,341.1 1465.8,340.7 1466.7,341.1 1467.6,340.3 1468.5,340.7 1469.4,340.5 1470.3,340.3 1471.2,340.3 1472.1,340.2 1473.0,340.0 1473.9,340.8 1474.8,340.3 1475.7,340.1 1476.6,339.1 1477.5,339.9 1478.4,339.2 1479.3,339.2 1480.2,339.6 1481.1,339.7 1482.0,339.1 1482.9,339.1 1483.8,339.5 1484.7,339.4 1485.6,339.2 1486.5,338.6 1487.4,339.0 1488.3,339.5 1489.2,339.2 1490.1,339.2 1491.0,339.7 1491.9,339.4 1492.8,339.3 1493.7,338.0 1494.6,338.5 1495.5,339.2 1496.4,338.1 1497.3,339.6 1498.2,338.0 1499.1,339.4 1500.0,338.0 1500.9,339.3 1501.8,339.3 1502.7,338.2 1503.6,339.3 1504.5,337.7 1505.4,339.2 1506.3,338.1 1507.2,338.2 1508.1,337.5 1509.0,338.5 1509.9,337.8 1510.7,338.7 1511.6,338.9 1512.5,338.5 1513.4,337.1 1514.3,339.3 1515.2,339.2 1516.1,338.5 1517.0,337.9 1517.9,338.4 1518.8,339.1 1519.7,338.1 1520.6,338.9 1521.5,338.5 1522.4,338.1 1523.3,339.3 1524.2,338.1 1525.1,338.6 1526.0,337.2 1526.9,338.3 1527.8,337.3 1528.7,338.9 1529.6,337.2 1530.5,337.4 1531.4,337.6 1532.3,337.7 1533.2,338.7 1534.1,338.3 1535.0,338.2 1535.9,340.1 1536.7,340.0 1537.6,339.4 1538.5,339.8 1539.4,339.9 1540.3,338.5 1541.2,340.1 1542.1,338.6 1543.0,339.6 1543.9,339.1 1544.8,338.7 1545.7,340.5 1546.6,341.0 1547.5,339.4 1548.4,341.1 1549.3,339.7 1550.2,340.7 1551.1,341.7 1552.0,341.2 1552.8,339.3 1553.7,340.4 1554.6,340.4 1555.5,340.2 1556.4,341.8 1557.3,340.8 1558.2,341.6 1559.1,341.5 1560.0,341.2 1560.9,340.0 1561.8,341.8 1562.7,342.5 1563.6,340.5 1564.5,341.8 1565.4,341.4 1566.3,341.0 1567.2,342.1 1568.1,342.8 1569.0,340.2 1569.9,342.6 1570.8,341.1 1571.7,342.4 1572.6,340.5 1573.5,341.9 1574.4,340.1" fill="none" stroke="#1428ff" stroke-width="2.3" stroke-linejoin="round"/>
<polyline points="897.3,607.8 898.2,608.3 899.0,604.2 899.9,604.8 900.8,609.2 901.7,609.1 902.6,609.1 903.4,607.6 904.3,609.4 905.2,609.7 906.0,609.8 906.9,607.9 907.8,609.5 908.6,609.5 909.5,611.3 910.4,612.8 911.2,612.7 912.1,610.7 913.0,610.2 913.8,609.3 914.7,608.1 915.6,608.0 916.5,610.3 917.3,609.5 918.2,609.7 919.1,612.3 919.9,610.3 920.8,610.4 921.7,608.5 922.6,607.3 923.5,608.7 924.3,607.6 925.2,609.4 926.1,611.7 927.0,609.9 927.9,607.1 928.8,610.6 929.7,609.9 930.6,609.4 931.5,610.1 932.4,609.1 933.3,609.1 934.2,606.6 935.1,609.6 936.0,609.3 936.9,604.9 937.8,607.8 938.6,607.3 939.5,605.8 940.3,605.9 941.1,605.4 941.9,607.4 942.7,604.9 943.4,606.4 944.1,603.6 944.8,606.1 945.5,605.8 946.1,603.2 946.7,603.4 947.3,604.7 947.7,603.1 948.2,601.2 948.6,599.1 949.0,598.8 949.4,600.1 949.9,596.7 950.5,600.0 951.1,596.3 951.9,599.3 952.6,596.0 953.4,599.2 954.3,597.8 955.2,596.7 956.1,596.7 957.0,597.5 957.9,597.1 958.8,595.7 959.7,595.2 960.6,596.9 961.5,599.1 962.5,597.5 963.4,594.7 964.3,598.6 965.2,598.1 966.1,599.0 967.0,595.2 967.9,598.1 968.7,594.4 969.6,597.4 970.4,595.2 971.3,594.8 972.1,597.9 972.9,593.6 973.7,595.5 974.4,596.8 975.2,593.2 975.9,592.6 976.6,595.5 977.3,592.7 978.0,593.5 978.6,589.7 979.2,590.6 979.9,589.1 980.5,590.6 981.1,587.4 981.6,590.3 982.2,585.8 982.7,587.9 983.2,584.3 983.7,584.5 984.2,585.8 984.7,582.6 985.2,581.9 985.6,582.9 986.0,581.0 986.4,579.0 986.8,581.4 987.2,577.8 987.6,576.6 988.0,576.8 988.3,576.8 988.6,576.3 989.0,573.6 989.3,573.4 989.6,571.7 989.8,572.1 990.1,572.1 990.4,571.2 990.6,570.7 990.9,569.5 991.1,568.9 991.4,567.6 991.6,566.1 991.8,564.6 992.0,564.8 992.2,563.1 992.4,561.7 992.6,561.7 992.8,561.8 992.9,559.2 993.1,559.4 993.3,558.0 993.4,557.4 993.6,555.7 993.7,556.6 993.9,554.2 994.0,554.1 994.2,552.8 994.3,551.1 994.4,551.3 994.6,549.6 994.7,548.5 994.8,547.6 995.0,547.0 995.1,545.9 995.2,546.1 995.3,545.0 995.5,545.0 995.6,544.0 995.7,543.2 995.8,540.9 996.0,540.4 996.1,539.2 996.2,538.9 996.3,538.1 996.4,537.5 996.5,536.4 996.6,534.7 996.7,534.1 996.9,533.4 997.0,531.7 997.1,530.8 997.2,530.6 997.3,529.2 997.4,529.3 997.5,527.6 997.6,526.5 997.7,525.7 997.8,524.9 997.9,524.0 998.0,523.6 998.1,522.6 998.2,521.5 998.3,521.1 998.3,519.6 998.4,519.7 998.5,518.9 998.6,517.6 998.7,516.3 998.8,515.5 998.9,514.7 999.0,513.1 999.0,512.7 999.1,512.0 999.2,510.6 999.3,509.6 999.4,509.6 999.4,508.2 999.5,507.5 999.6,507.1 999.7,505.8 999.7,504.5 999.8,504.5 999.9,502.8 1000.0,501.5 1000.0,501.4 1000.1,499.8 1000.2,499.2 1000.2,498.9 1000.3,497.8 1000.4,496.1 1000.5,495.7 1000.5,494.8 1000.6,494.0 1000.6,492.8 1000.7,492.3 1000.8,490.8 1000.8,490.2 1000.9,489.4 1001.0,489.1 1001.0,487.2 1001.1,487.1 1001.1,485.6 1001.2,485.1 1001.3,484.0 1001.3,483.2 1001.4,482.6 1001.4,481.3 1001.5,480.1 1001.5,479.2 1001.6,478.2 1001.6,478.3 1001.7,477.1 1001.7,476.6 1001.8,475.4 1001.8,473.7 1001.9,473.5 1001.9,472.8 1002.0,471.8 1002.0,470.7 1002.1,469.6 1002.1,468.8 1002.2,468.3 1002.2,466.8 1002.3,466.2 1002.3,465.2 1002.4,464.9 1002.4,463.8 1002.5,463.1 1002.5,462.1 1002.6,460.5 1002.6,459.5 1002.6,459.0 1002.7,457.8 1002.7,457.1 1002.8,456.5 1002.8,455.9 1002.9,454.6 1002.9,454.0 1002.9,452.2 1003.0,451.6 1003.0,451.5 1003.1,449.5 1003.1,449.0 1003.1,447.7 1003.2,446.8 1003.2,446.8 1003.3,446.1 1003.3,444.7 1003.3,443.2 1003.4,442.5 1003.4,441.5 1003.5,441.2 1003.5,440.3 1003.5,439.1 1003.6,438.3 1003.6,436.9 1003.7,436.5 1003.7,436.1 1003.7,435.0 1003.8,433.3 1003.8,432.9 1003.9,432.2 1003.9,430.8 1003.9,430.6 1004.0,429.2 1004.0,428.6 1004.1,427.4 1004.1,427.2 1004.1,426.0 1004.2,424.9 1004.2,423.4 1004.2,422.9 1004.3,421.5 1004.3,421.3 1004.4,420.7 1004.4,419.0 1004.4,418.5 1004.5,417.6 1004.5,416.6 1004.6,416.0 1004.6,415.4 1004.6,414.2 1004.7,413.0 1004.7,412.7 1004.8,411.1 1004.8,410.7 1004.9,409.7 1004.9,408.9 1004.9,408.1 1005.0,406.5 1005.0,406.0 1005.1,404.9 1005.1,404.3 1005.2,403.8 1005.2,402.4 1005.2,400.8 1005.3,400.4 1005.3,399.8 1005.4,399.2 1005.4,398.0 1005.5,397.3 1005.5,395.4 1005.6,395.6 1005.6,394.5 1005.7,393.4 1005.7,392.9 1005.8,392.0 1005.8,390.1 1005.8,390.1 1005.9,389.1 1005.9,387.5 1006.0,387.3 1006.0,386.2 1006.1,384.8 1006.1,384.7 1006.2,383.0 1006.2,382.7 1006.3,381.5 1006.3,380.4 1006.4,379.9 1006.4,378.9 1006.5,377.7 1006.5,377.7 1006.6,375.7 1006.6,374.7 1006.7,374.4 1006.7,373.9 1006.8,372.8 1006.8,372.0 1006.9,370.8 1006.9,370.1 1007.0,368.8 1007.0,367.9 1007.1,367.2 1007.1,365.8 1007.2,364.9 1007.2,364.9 1007.3,363.3 1007.4,363.1 1007.4,362.2 1007.5,360.8 1007.5,360.3 1007.6,359.5 1007.6,358.7 1007.7,356.9 1007.7,356.1 1007.8,355.4 1007.8,354.6 1007.9,353.5 1007.9,352.3 1008.0,352.0 1008.0,351.6 1008.1,350.0 1008.2,349.3 1008.2,348.2 1008.3,347.4 1008.3,347.0 1008.4,345.5 1008.4,345.0 1008.5,343.9 1008.5,343.0 1008.6,342.6 1008.6,340.7 1008.7,340.7 1008.7,339.2 1008.8,338.7 1008.9,338.0 1008.9,336.9 1009.0,335.7 1009.0,335.3 1009.1,333.5 1009.1,333.3 1009.2,332.1 1009.2,331.4 1009.3,330.9 1009.4,329.9 1009.4,328.8 1009.5,327.5 1009.5,326.5 1009.6,325.9 1009.6,324.7 1009.7,323.9 1009.7,323.8 1009.8,321.9 1009.9,321.8 1009.9,320.4 1010.0,319.5 1010.0,318.5 1010.1,317.4 1010.1,316.9 1010.2,315.7 1010.2,315.1 1010.3,314.0 1010.4,313.8 1010.4,313.0 1010.5,311.5 1010.5,310.8 1010.6,310.3 1010.6,308.7 1010.7,307.5 1010.7,306.8 1010.8,305.8 1010.9,305.5 1010.9,304.2 1011.0,303.3 1011.0,302.9 1011.1,301.4 1011.1,301.2 1011.2,300.1 1011.2,298.9 1011.3,298.5 1011.3,297.0 1011.4,296.8 1011.5,295.9 1011.5,294.5 1011.6,293.8 1011.6,293.2 1011.7,292.1 1011.7,291.2 1011.8,290.5 1011.8,289.6 1011.9,288.5 1011.9,287.9 1012.0,286.2 1012.0,285.7 1012.1,284.8 1012.2,283.6 1012.2,282.7 1012.3,281.5 1012.3,281.6 1012.4,280.0 1012.4,279.2 1012.5,278.8 1012.5,277.1 1012.6,277.1 1012.6,275.2 1012.7,274.2 1012.7,273.7 1012.8,272.8 1012.8,272.5 1012.9,271.6 1012.9,270.6 1013.0,269.3 1013.0,268.5 1013.1,267.2 1013.1,267.0 1013.2,265.6 1013.2,264.6 1013.3,264.1 1013.3,262.6 1013.4,261.9 1013.4,261.8 1013.5,259.9 1013.5,259.0 1013.6,258.2 1013.6,257.3 1013.7,256.6 1013.7,255.5 1013.8,254.8 1013.8,253.7 1013.9,252.8 1013.9,252.4 1014.0,251.1 1014.0,250.3 1014.1,249.9 1014.1,248.1 1014.2,247.3 1014.2,247.3 1014.3,245.9 1014.3,245.4 1014.4,243.7 1014.4,243.3 1014.5,242.8 1014.5,241.3 1014.6,240.9 1014.6,239.8 1014.7,238.6 1014.7,238.4 1014.8,236.8 1014.8,236.0 1014.9,235.3 1014.9,234.0 1015.0,233.8 1015.0,232.6 1015.1,231.7 1015.1,230.7 1015.2,230.3 1015.3,229.5 1015.3,228.4 1015.4,227.0 1015.4,226.1 1015.5,225.3 1015.5,223.8 1015.6,223.0 1015.6,223.2 1015.7,221.2 1015.7,221.3 1015.8,220.1 1015.8,219.5 1015.9,217.6 1016.0,217.0 1016.0,216.7 1016.1,214.8 1016.1,214.0 1016.2,213.4 1016.2,212.3 1016.3,211.4 1016.4,211.1 1016.4,209.5 1016.5,209.7 1016.5,208.4 1016.6,206.8 1016.7,206.9 1016.7,205.2 1016.8,204.6 1016.9,203.8 1016.9,202.4 1017.0,202.0 1017.0,200.5 1017.1,199.8 1017.2,199.8 1017.2,198.8 1017.3,197.5 1017.4,196.8 1017.4,196.2 1017.5,194.4 1017.6,193.9 1017.6,192.6 1017.7,191.7 1017.8,190.8 1017.9,190.0 1017.9,188.9 1018.0,188.2 1018.1,187.5 1018.2,186.9 1018.3,186.3 1018.3,185.5 1018.4,184.4 1018.5,183.2 1018.6,182.8 1018.7,181.0 1018.8,180.0 1018.9,180.0 1019.0,178.9 1019.1,177.5 1019.2,176.8 1019.3,175.8 1019.4,175.1 1019.5,174.2 1019.6,173.2 1019.7,172.8 1019.8,171.9 1020.0,170.7 1020.1,169.7 1020.2,168.6 1020.4,168.3 1020.5,167.6 1020.6,165.8 1020.8,165.5 1020.9,164.6 1021.1,163.6 1021.3,161.9 1021.4,161.7 1021.6,160.3 1021.8,159.4 1021.9,159.0 1022.1,158.1 1022.4,157.2 1022.6,156.5 1022.9,155.6 1023.1,154.5 1023.4,153.1 1023.8,153.2 1024.2,152.5 1024.6,151.7 1025.0,150.7 1025.5,149.4 1026.1,148.9 1026.7,148.2 1027.3,148.3 1028.0,147.7 1028.8,146.8 1029.6,147.3 1030.4,146.9 1031.3,146.5 1032.2,145.8 1033.1,145.4 1034.0,145.3 1034.8,146.1 1035.7,146.0 1036.5,145.8 1037.2,146.8 1038.0,146.8 1038.7,147.1 1039.4,147.7 1040.0,148.6 1040.7,148.9 1041.3,149.8 1042.0,149.8 1042.6,151.2 1043.2,151.3 1043.9,152.8 1044.5,152.6 1045.1,153.4 1045.8,154.3 1046.4,154.8 1047.0,155.6 1047.7,156.7 1048.3,156.5 1048.9,157.9 1049.5,158.4 1050.2,159.2 1050.8,159.4 1051.4,160.1 1052.1,160.6 1052.7,161.4 1053.3,161.8 1054.0,162.4 1054.6,163.4 1055.3,163.6 1055.9,164.6 1056.6,165.4 1057.2,165.7 1057.8,166.1 1058.5,167.3 1059.2,168.2 1059.8,168.0 1060.5,169.1 1061.1,169.8 1061.8,170.7 1062.5,171.0 1063.1,171.2 1063.8,171.6 1064.5,173.0 1065.2,172.9 1065.9,173.1 1066.5,174.7 1067.2,174.5 1067.9,175.2 1068.6,175.8 1069.3,176.2 1070.0,177.3 1070.8,177.4 1071.5,178.1 1072.2,178.6 1072.9,179.6 1073.6,179.1 1074.4,180.3 1075.1,180.3 1075.8,180.8 1076.6,181.9 1077.3,182.1 1078.1,182.2 1078.8,183.4 1079.6,184.2 1080.3,184.4 1081.1,184.7 1081.8,185.6 1082.6,186.2 1083.4,185.7 1084.1,186.4 1084.9,187.6 1085.7,188.1 1086.4,187.7 1087.2,188.7 1088.0,189.4 1088.8,189.5 1089.5,190.1 1090.3,190.3 1091.1,190.4 1091.9,190.9 1092.7,191.1 1093.4,192.3 1094.2,192.1 1095.0,193.1 1095.8,193.3 1096.6,193.8 1097.4,194.9 1098.2,194.6 1098.9,195.1 1099.7,195.5 1100.5,195.7 1101.3,196.1 1102.1,196.9 1102.9,197.7 1103.7,197.3 1104.5,198.7 1105.3,198.8 1106.1,198.5 1106.9,199.7 1107.7,199.7 1108.5,200.3 1109.3,200.2 1110.1,201.1 1110.9,201.5 1111.7,202.2 1112.5,202.4 1113.3,202.9 1114.1,203.3 1114.9,203.1 1115.7,203.3 1116.5,204.2 1117.3,204.2 1118.1,204.6 1119.0,205.2 1119.8,205.8 1120.6,206.2 1121.4,206.7 1122.2,207.4 1123.1,206.7 1123.9,207.6 1124.7,207.4 1125.5,208.5 1126.4,208.5 1127.2,208.5 1128.0,209.0 1128.8,209.8 1129.7,209.9 1130.5,210.8 1131.3,210.4 1132.2,210.7 1133.0,211.7 1133.8,211.7 1134.7,211.4 1135.5,212.5 1136.4,212.3 1137.2,213.4 1138.0,213.3 1138.9,213.8 1139.7,214.2 1140.5,214.1 1141.4,215.0 1142.2,214.2 1143.1,214.9 1143.9,215.8 1144.7,215.1 1145.6,216.2 1146.4,216.9 1147.2,216.9 1148.1,217.4 1148.9,216.8 1149.7,217.7 1150.6,218.1 1151.4,218.3 1152.2,218.6 1153.1,219.4 1153.9,219.0 1154.7,219.2 1155.6,220.3 1156.4,221.1 1157.2,221.3 1158.0,221.5 1158.8,221.4 1159.7,222.6 1160.5,221.9 1161.3,222.6 1162.1,223.6 1162.9,224.2 1163.7,224.0 1164.5,225.0 1165.3,224.5 1166.1,225.5 1167.0,225.3 1167.8,225.9 1168.6,226.3 1169.4,226.5 1170.2,227.4 1171.0,227.9 1171.8,228.0 1172.6,228.9 1173.4,228.6 1174.2,229.6 1175.0,230.0 1175.9,230.3 1176.7,231.3 1177.5,230.7 1178.3,231.5 1179.1,231.9 1179.9,232.2 1180.8,233.3 1181.6,233.2 1182.4,233.5 1183.2,233.7 1184.1,234.1 1184.9,235.0 1185.7,235.2 1186.6,235.3 1187.4,235.1 1188.2,235.9 1189.1,235.6 1189.9,236.2 1190.8,236.1 1191.6,237.2 1192.5,237.7 1193.3,237.6 1194.2,237.7 1195.1,237.6 1195.9,238.1 1196.8,238.3 1197.7,238.5 1198.5,238.5 1199.4,238.6 1200.3,239.4 1201.1,239.8 1202.0,239.9 1202.9,239.8 1203.8,239.2 1204.7,239.7 1205.5,240.5 1206.4,240.8 1207.3,240.4 1208.2,240.6 1209.1,240.8 1210.0,240.4 1210.9,241.1 1211.8,240.7 1212.7,241.4 1213.5,241.0 1214.4,241.4 1215.3,241.3 1216.2,241.4 1217.1,241.4 1218.0,242.0 1218.9,241.8 1219.8,241.5 1220.7,241.7 1221.6,242.2 1222.5,242.0 1223.4,242.0 1224.3,242.4 1225.2,241.4 1226.1,242.0 1227.0,242.1 1227.9,241.9 1228.8,242.6 1229.7,242.6 1230.6,241.9 1231.5,242.2 1232.4,242.4 1233.3,242.3 1234.2,241.9 1235.1,242.5 1236.0,241.9 1236.9,241.7 1237.8,242.3 1238.7,242.3 1239.6,242.0 1240.5,242.1 1241.4,242.7 1242.3,242.4 1243.2,242.0 1244.1,242.5 1245.0,242.1 1245.9,241.9 1246.8,242.2 1247.7,242.3 1248.6,242.4 1249.5,242.1 1250.3,242.1 1251.2,241.8 1252.1,241.3 1253.0,241.8 1253.9,241.3 1254.8,242.3 1255.7,241.6 1256.6,241.8 1257.5,242.0 1258.4,241.3 1259.3,242.0 1260.2,241.4 1261.1,241.0 1262.0,241.6 1262.9,241.3 1263.8,241.9 1264.7,241.3 1265.6,240.9 1266.5,240.7 1267.4,240.7 1268.3,241.2 1269.2,241.5 1270.1,240.6 1271.0,240.9 1271.9,241.1 1272.8,241.5 1273.7,241.6 1274.6,241.5 1275.5,241.1 1276.4,241.0 1277.3,240.6 1278.2,241.0 1279.1,240.4 1280.0,240.6 1280.9,241.2 1281.8,240.8 1282.7,241.0 1283.6,240.7 1284.5,240.4 1285.4,240.7 1286.3,240.7 1287.2,240.3 1288.1,241.0 1289.0,241.2 1289.9,240.2 1290.8,240.2 1291.7,240.9 1292.6,240.8 1293.5,240.2 1294.4,240.6 1295.3,240.2 1296.2,241.0 1297.1,240.6 1298.0,240.5 1298.9,240.1 1299.8,240.4 1300.7,240.5 1301.6,240.4 1302.5,240.2 1303.4,240.2 1304.3,240.8 1305.2,241.1 1306.1,241.0 1307.0,240.8 1307.9,241.0 1308.8,240.2 1309.7,240.3 1310.6,240.9 1311.5,240.1 1312.4,240.3 1313.3,241.1 1314.2,240.4 1315.1,240.5 1316.0,240.7 1316.9,241.3 1317.8,240.3 1318.7,241.4 1319.6,240.8 1320.5,241.1 1321.4,241.0 1322.3,240.6 1323.2,241.7 1324.1,240.8 1325.0,241.6 1325.9,241.7 1326.8,241.2 1327.7,241.9 1328.6,240.9 1329.5,241.0 1330.4,241.5 1331.3,241.0 1332.2,241.9 1333.1,241.7 1334.0,242.0 1334.9,241.5 1335.8,241.2 1336.7,242.3 1337.6,241.5 1338.5,241.8 1339.4,241.5 1340.3,242.1 1341.2,242.0 1342.1,241.8 1343.0,241.6 1343.9,242.0 1344.8,242.6 1345.7,241.9 1346.6,242.1 1347.5,242.6 1348.4,242.7 1349.3,242.9 1350.2,242.8 1351.1,243.1 1352.0,242.3 1352.9,243.3 1353.8,242.3 1354.7,242.4 1355.6,242.5 1356.5,243.3 1357.4,243.1 1358.3,243.6 1359.2,243.7 1360.1,243.8 1361.0,243.4 1361.9,243.2 1362.8,243.9 1363.7,243.7 1364.6,243.1 1365.5,243.6 1366.4,243.0 1367.3,243.1 1368.2,243.9 1369.1,244.0 1370.0,244.3 1370.9,244.2 1371.8,243.5 1372.7,244.3 1373.6,244.6 1374.5,244.3 1375.4,244.1 1376.3,243.9 1377.2,243.7 1378.1,244.4 1379.0,244.9 1379.9,243.9 1380.8,244.8 1381.7,244.9 1382.6,244.3 1383.5,245.0 1384.4,244.2 1385.2,244.4 1386.1,244.7 1387.0,245.2 1387.9,244.8 1388.8,244.3 1389.7,245.3 1390.6,244.9 1391.5,245.2 1392.4,244.6 1393.3,244.7 1394.2,244.5 1395.1,244.6 1396.0,245.0 1396.9,245.0 1397.8,245.3 1398.7,245.5 1399.6,244.9 1400.5,245.7 1401.4,245.4 1402.3,245.0 1403.2,244.8 1404.1,245.8 1405.0,245.4 1405.9,244.7 1406.8,245.5 1407.7,245.1 1408.6,245.2 1409.5,245.6 1410.4,245.0 1411.3,245.0 1412.2,245.4 1413.1,245.8 1414.0,244.8 1414.9,245.7 1415.8,245.6 1416.7,244.9 1417.6,245.5 1418.5,245.4 1419.4,245.5 1420.3,245.3 1421.2,245.0 1422.1,245.3 1423.0,244.9 1423.9,245.2 1424.8,245.1 1425.7,244.7 1426.6,244.8 1427.5,244.9 1428.4,244.9 1429.3,245.1 1430.2,245.3 1431.1,244.7 1432.0,245.0 1432.9,244.7 1433.8,244.5 1434.7,244.4 1435.6,245.3 1436.4,245.2 1437.3,245.0 1438.2,244.2 1439.1,244.1 1440.0,244.0 1440.9,244.2 1441.8,244.3 1442.7,243.7 1443.6,244.1 1444.5,244.4 1445.4,244.5 1446.3,243.6 1447.2,243.3 1448.1,244.3 1449.0,243.6 1449.9,243.5 1450.8,243.2 1451.7,243.2 1452.6,243.2 1453.5,243.1 1454.4,242.9 1455.3,243.2 1456.2,243.6 1457.1,242.8 1458.0,242.8 1458.9,242.9 1459.8,243.3 1460.7,243.1 1461.6,243.3 1462.5,242.0 1463.4,242.9 1464.3,242.0 1465.2,242.4 1466.1,242.2 1467.0,242.2 1467.9,241.7 1468.8,241.2 1469.7,241.0 1470.6,242.4 1471.4,242.3 1472.3,241.5 1473.2,240.7 1474.1,241.9 1475.0,241.2 1475.9,241.1 1476.8,241.3 1477.7,240.4 1478.6,240.4 1479.5,241.4 1480.4,241.1 1481.3,241.5 1482.2,240.4 1483.1,241.3 1484.0,241.1 1484.9,240.3 1485.8,240.9 1486.7,239.5 1487.6,239.2 1488.5,240.5 1489.4,239.2 1490.3,239.8 1491.2,240.2 1492.1,240.0 1493.0,239.0 1493.9,240.1 1494.8,238.5 1495.7,239.5 1496.6,240.1 1497.5,239.3 1498.4,238.7 1499.3,240.1 1500.2,239.5 1501.1,239.6 1502.0,239.7 1502.9,239.8 1503.8,239.0 1504.7,239.4 1505.6,238.7 1506.5,238.1 1507.4,238.1 1508.3,238.0 1509.2,237.5 1510.1,238.7 1511.0,238.2 1511.8,239.3 1512.7,237.4 1513.6,239.0 1514.5,237.6 1515.4,237.9 1516.3,237.8 1517.2,239.3 1518.1,238.6 1519.0,238.1 1519.9,237.4 1520.8,237.1 1521.7,237.8 1522.6,239.3 1523.5,238.0 1524.4,238.6 1525.3,239.0 1526.2,237.0 1527.1,237.7 1528.0,237.9 1528.9,237.4 1529.8,237.8 1530.7,238.6 1531.6,237.2 1532.5,238.6 1533.4,237.6 1534.3,238.5 1535.2,237.3 1536.1,238.9 1537.0,237.9 1537.9,239.0 1538.8,239.4 1539.7,238.4 1540.6,236.9 1541.5,237.8 1542.4,239.5 1543.3,238.6 1544.2,238.9 1545.1,238.2 1546.0,239.5 1546.9,239.4 1547.8,238.6 1548.7,238.6 1549.6,237.2 1550.5,237.0 1551.4,237.5 1552.3,239.0 1553.2,239.4 1554.1,239.2 1555.0,239.5 1555.9,237.1 1556.8,237.2 1557.7,237.8 1558.6,237.2 1559.5,238.8 1560.4,239.8 1561.3,239.7 1562.2,237.5 1563.1,239.1 1564.0,239.1 1564.9,239.1 1565.8,238.4 1566.7,238.0 1567.6,239.8 1568.5,239.9 1569.4,239.4 1570.3,238.9 1571.2,237.5 1572.1,238.2 1573.0,238.1 1573.9,238.2 1574.8,238.1" fill="none" stroke="#00ffff" stroke-width="2.3" stroke-linejoin="round"/>
<polyline points="897.5,582.9 898.3,584.1 899.2,582.8 900.0,583.7 900.9,583.6 901.8,580.4 902.6,580.0 903.5,584.1 904.4,580.9 905.2,580.7 906.1,584.6 907.0,581.8 907.9,583.7 908.8,581.8 909.6,582.6 910.5,580.0 911.4,582.5 912.3,583.8 913.2,582.0 914.0,583.1 914.9,582.7 915.8,579.5 916.7,583.1 917.6,582.2 918.4,580.6 919.3,579.1 920.2,583.3 921.1,581.2 922.0,582.4 922.8,583.1 923.7,582.1 924.6,583.0 925.5,580.1 926.3,582.1 927.2,580.1 928.1,582.5 928.9,582.0 929.8,577.7 930.7,577.7 931.6,578.0 932.4,581.6 933.3,578.7 934.2,579.4 935.0,577.5 935.9,578.4 936.8,577.5 937.6,577.1 938.5,578.0 939.4,577.8 940.2,579.2 941.1,577.7 941.9,578.8 942.8,578.1 943.6,578.5 944.5,576.5 945.3,573.6 946.1,576.9 947.0,577.1 947.8,576.5 948.6,574.4 949.4,574.8 950.2,571.8 951.0,574.7 951.8,573.0 952.6,571.1 953.4,569.6 954.2,573.4 955.0,573.8 955.8,568.7 956.6,572.1 957.4,569.8 958.2,568.2 959.1,568.6 959.9,570.8 960.7,571.2 961.5,566.6 962.4,569.4 963.2,566.3 964.1,569.7 964.9,567.6 965.8,570.3 966.6,570.7 967.5,568.2 968.4,570.6 969.2,566.9 970.1,565.6 970.9,568.1 971.8,564.9 972.6,565.6 973.5,566.4 974.3,567.1 975.1,564.4 975.9,563.5 976.6,567.2 977.4,564.0 978.1,566.6 978.8,565.8 979.5,562.8 980.1,562.6 980.7,562.3 981.3,562.2 981.9,561.3 982.4,560.5 983.0,560.0 983.5,560.5 983.9,558.1 984.4,557.0 984.8,557.3 985.3,554.7 985.7,554.2 986.1,555.7 986.4,553.3 986.8,552.5 987.1,549.9 987.5,550.4 987.8,550.0 988.1,547.4 988.4,548.4 988.7,547.6 989.0,545.0 989.3,545.8 989.5,544.5 989.8,544.2 990.0,542.4 990.3,542.5 990.5,541.7 990.7,538.9 990.9,538.2 991.2,538.9 991.4,538.8 991.5,536.1 991.7,535.7 991.9,535.2 992.1,533.6 992.3,532.8 992.4,531.8 992.6,531.1 992.8,530.7 992.9,529.2 993.1,528.5 993.2,528.5 993.3,525.9 993.5,526.3 993.6,525.7 993.7,523.9 993.9,522.8 994.0,523.2 994.1,521.1 994.2,520.1 994.3,519.8 994.4,519.4 994.6,517.3 994.7,516.9 994.8,516.0 994.9,516.1 995.0,514.4 995.1,514.4 995.2,512.1 995.3,511.6 995.4,511.3 995.5,510.8 995.6,509.1 995.7,507.8 995.8,506.7 995.9,506.6 996.0,505.1 996.1,505.3 996.2,504.5 996.3,502.4 996.4,501.7 996.5,501.7 996.6,500.5 996.7,499.9 996.7,498.2 996.8,497.0 996.9,496.4 997.0,496.3 997.1,494.5 997.2,493.8 997.3,493.0 997.3,492.1 997.4,491.2 997.5,491.1 997.6,489.0 997.7,487.9 997.7,488.4 997.8,487.4 997.9,486.7 998.0,485.0 998.0,484.9 998.1,483.9 998.2,482.0 998.3,481.8 998.3,481.1 998.4,479.9 998.5,478.8 998.6,477.6 998.6,476.8 998.7,475.7 998.8,474.6 998.8,474.4 998.9,473.1 999.0,472.9 999.0,471.0 999.1,471.2 999.2,470.1 999.2,469.5 999.3,468.5 999.3,467.6 999.4,466.3 999.5,464.7 999.5,464.7 999.6,463.1 999.6,462.4 999.7,461.9 999.8,460.9 999.8,459.8 999.9,459.6 999.9,458.3 1000.0,457.0 1000.1,456.0 1000.1,455.9 1000.2,454.5 1000.2,454.0 1000.3,452.5 1000.3,451.5 1000.4,451.0 1000.4,450.4 1000.5,448.7 1000.6,448.6 1000.6,447.8 1000.7,446.8 1000.7,445.9 1000.8,444.0 1000.8,443.9 1000.9,443.3 1000.9,441.4 1001.0,440.8 1001.0,439.9 1001.1,439.3 1001.1,438.2 1001.2,437.4 1001.2,436.9 1001.3,435.0 1001.3,434.2 1001.4,433.4 1001.4,432.5 1001.5,431.5 1001.5,431.7 1001.6,430.7 1001.6,428.8 1001.7,428.4 1001.7,427.3 1001.8,426.4 1001.8,425.6 1001.9,425.0 1001.9,424.0 1002.0,422.9 1002.0,421.8 1002.0,421.0 1002.1,419.9 1002.1,419.5 1002.2,418.8 1002.2,417.5 1002.3,416.2 1002.3,415.5 1002.4,414.8 1002.4,414.2 1002.5,413.5 1002.5,412.1 1002.6,411.7 1002.6,410.6 1002.6,409.5 1002.7,408.5 1002.7,407.8 1002.8,407.1 1002.8,405.9 1002.9,405.3 1002.9,404.1 1003.0,403.0 1003.0,402.4 1003.1,401.7 1003.1,400.1 1003.1,399.6 1003.2,398.7 1003.2,398.3 1003.3,397.5 1003.3,395.9 1003.4,395.7 1003.4,394.6 1003.5,393.1 1003.5,392.4 1003.6,391.1 1003.6,391.1 1003.6,390.0 1003.7,389.4 1003.7,388.3 1003.8,387.3 1003.8,386.5 1003.9,385.4 1003.9,383.9 1004.0,383.6 1004.0,382.0 1004.0,381.3 1004.1,381.1 1004.1,379.4 1004.2,378.5 1004.2,377.6 1004.3,377.7 1004.3,375.9 1004.4,374.8 1004.4,374.9 1004.5,373.2 1004.5,373.1 1004.6,372.0 1004.6,371.3 1004.6,370.6 1004.7,369.2 1004.7,368.6 1004.8,366.8 1004.8,366.7 1004.9,365.5 1004.9,364.9 1005.0,363.3 1005.0,363.1 1005.1,362.5 1005.1,360.5 1005.2,359.9 1005.2,359.3 1005.3,358.7 1005.3,357.1 1005.4,356.2 1005.4,355.3 1005.5,354.9 1005.5,354.2 1005.6,352.8 1005.6,351.9 1005.6,351.0 1005.7,350.1 1005.7,349.3 1005.8,348.0 1005.8,347.6 1005.9,347.2 1005.9,345.7 1006.0,345.2 1006.0,343.6 1006.1,343.3 1006.1,342.5 1006.2,341.5 1006.2,340.4 1006.3,339.5 1006.3,338.7 1006.4,338.2 1006.4,336.4 1006.5,335.4 1006.5,335.3 1006.6,334.6 1006.7,333.2 1006.7,332.2 1006.8,331.7 1006.8,330.1 1006.9,329.3 1006.9,328.3 1007.0,327.9 1007.0,326.7 1007.1,325.7 1007.1,325.3 1007.2,324.8 1007.2,323.1 1007.3,322.7 1007.3,321.4 1007.4,321.0 1007.4,319.8 1007.5,318.5 1007.5,317.6 1007.6,316.4 1007.6,316.1 1007.7,315.1 1007.7,313.9 1007.8,313.3 1007.8,312.3 1007.9,312.0 1007.9,310.3 1008.0,310.4 1008.0,308.9 1008.1,308.2 1008.2,307.1 1008.2,306.6 1008.3,305.7 1008.3,304.5 1008.4,303.5 1008.4,302.9 1008.5,302.2 1008.5,300.7 1008.6,300.2 1008.6,299.6 1008.7,298.1 1008.7,296.9 1008.8,296.0 1008.8,295.7 1008.9,294.8 1008.9,294.2 1009.0,293.2 1009.1,291.6 1009.1,290.6 1009.2,289.8 1009.2,288.8 1009.3,288.5 1009.3,287.8 1009.4,287.0 1009.4,285.3 1009.5,285.1 1009.5,283.6 1009.6,282.8 1009.6,282.3 1009.7,280.6 1009.7,279.7 1009.8,279.7 1009.8,278.1 1009.9,277.3 1009.9,276.7 1010.0,275.9 1010.1,274.2 1010.1,273.7 1010.2,272.9 1010.2,272.1 1010.3,270.9 1010.3,270.4 1010.4,270.0 1010.4,268.4 1010.5,267.7 1010.5,266.3 1010.6,265.5 1010.6,265.1 1010.7,263.6 1010.7,263.6 1010.8,262.7 1010.8,260.8 1010.9,261.0 1010.9,259.4 1011.0,259.0 1011.1,258.0 1011.1,256.6 1011.2,256.1 1011.2,255.2 1011.3,254.5 1011.3,253.0 1011.4,252.6 1011.4,252.0 1011.5,250.7 1011.5,249.7 1011.6,248.3 1011.6,247.8 1011.7,246.8 1011.7,246.3 1011.8,245.4 1011.8,244.3 1011.9,243.0 1011.9,242.6 1012.0,241.7 1012.0,240.3 1012.1,240.2 1012.1,239.0 1012.2,237.5 1012.2,237.6 1012.3,235.7 1012.3,235.1 1012.4,234.6 1012.4,233.6 1012.5,232.6 1012.5,231.8 1012.6,230.7 1012.6,229.6 1012.7,228.6 1012.7,227.5 1012.8,227.4 1012.8,226.6 1012.9,225.4 1012.9,224.7 1013.0,223.4 1013.0,222.4 1013.1,221.6 1013.1,221.3 1013.2,219.4 1013.2,219.1 1013.3,217.9 1013.3,217.6 1013.4,216.2 1013.4,215.3 1013.5,214.5 1013.5,213.7 1013.6,213.1 1013.6,211.7 1013.6,211.4 1013.7,209.6 1013.7,208.9 1013.8,207.8 1013.8,206.9 1013.9,206.8 1013.9,205.8 1014.0,204.3 1014.0,203.4 1014.1,202.8 1014.1,202.3 1014.2,201.5 1014.2,200.5 1014.3,199.4 1014.3,198.0 1014.4,197.4 1014.4,196.2 1014.4,195.7 1014.5,194.9 1014.5,193.5 1014.6,192.7 1014.6,192.4 1014.7,190.6 1014.7,190.6 1014.8,189.9 1014.8,189.0 1014.9,187.4 1014.9,186.7 1015.0,185.9 1015.0,185.0 1015.1,184.6 1015.1,183.3 1015.1,181.9 1015.2,181.7 1015.2,180.4 1015.3,179.6 1015.3,178.9 1015.4,177.1 1015.4,177.1 1015.5,176.1 1015.5,175.0 1015.6,174.1 1015.6,173.2 1015.7,171.9 1015.7,171.4 1015.8,170.0 1015.8,169.6 1015.9,168.9 1015.9,167.8 1016.0,167.0 1016.0,166.6 1016.0,165.6 1016.1,163.8 1016.1,163.7 1016.2,162.6 1016.2,161.0 1016.3,160.5 1016.3,159.4 1016.4,158.3 1016.4,158.0 1016.5,157.6 1016.5,155.9 1016.6,155.7 1016.6,154.6 1016.7,153.0 1016.7,153.0 1016.8,151.8 1016.8,151.3 1016.9,150.1 1016.9,149.3 1017.0,147.9 1017.1,147.6 1017.1,146.8 1017.2,145.9 1017.2,144.4 1017.3,143.9 1017.3,142.7 1017.4,141.4 1017.4,140.4 1017.5,139.5 1017.5,138.8 1017.6,137.9 1017.6,137.4 1017.7,136.7 1017.8,135.6 1017.8,134.6 1017.9,134.0 1017.9,132.7 1018.0,132.0 1018.1,131.4 1018.1,130.1 1018.2,128.9 1018.3,128.9 1018.4,127.8 1018.4,126.5 1018.5,125.6 1018.6,124.9 1018.7,124.1 1018.8,122.7 1018.8,121.5 1018.9,120.9 1019.0,120.7 1019.1,119.0 1019.2,118.5 1019.3,117.3 1019.4,116.4 1019.5,115.4 1019.6,114.8 1019.7,113.6 1019.8,112.6 1019.9,111.8 1020.1,110.9 1020.2,110.4 1020.3,109.0 1020.4,108.0 1020.6,107.6 1020.7,106.7 1020.9,106.1 1021.0,104.4 1021.2,103.9 1021.3,103.0 1021.5,101.7 1021.7,101.9 1021.9,100.1 1022.2,99.1 1022.4,98.7 1022.7,97.4 1022.9,97.1 1023.2,95.9 1023.6,94.8 1023.9,93.9 1024.3,93.9 1024.7,92.5 1025.1,92.3 1025.5,91.2 1026.0,91.0 1026.5,89.5 1027.1,88.7 1027.6,88.0 1028.2,88.0 1028.8,87.2 1029.4,86.2 1030.0,85.4 1030.7,85.6 1031.3,85.6 1032.0,84.7 1032.7,83.7 1033.4,83.5 1034.2,83.4 1034.9,83.5 1035.6,83.3 1036.4,83.4 1037.1,84.3 1037.9,84.8 1038.7,84.3 1039.4,85.6 1040.2,85.4 1040.9,86.3 1041.7,87.0 1042.4,87.6 1043.2,87.1 1043.9,88.1 1044.6,89.1 1045.3,90.2 1046.0,89.8 1046.7,90.8 1047.3,92.2 1048.0,92.0 1048.6,93.0 1049.3,93.6 1049.9,94.7 1050.5,95.7 1051.2,95.5 1051.8,96.9 1052.4,97.5 1053.1,98.3 1053.7,98.6 1054.3,99.7 1055.0,99.6 1055.6,100.3 1056.2,100.7 1056.9,102.0 1057.5,102.3 1058.1,102.7 1058.7,103.2 1059.4,104.4 1060.0,104.9 1060.6,105.7 1061.2,105.9 1061.8,106.6 1062.5,106.9 1063.1,108.2 1063.7,108.0 1064.3,109.2 1064.9,110.1 1065.6,110.7 1066.2,110.6 1066.8,111.5 1067.4,112.8 1068.0,113.2 1068.6,114.2 1069.2,114.8 1069.9,115.0 1070.5,116.2 1071.1,116.6 1071.7,116.8 1072.3,117.5 1073.0,117.8 1073.6,118.9 1074.2,120.2 1074.8,119.8 1075.5,121.0 1076.1,121.1 1076.7,121.7 1077.4,123.1 1078.0,123.2 1078.7,123.6 1079.3,124.4 1080.0,125.6 1080.6,126.2 1081.3,126.1 1081.9,127.0 1082.6,128.5 1083.2,128.2 1083.9,129.2 1084.6,129.7 1085.3,130.7 1085.9,131.1 1086.6,131.9 1087.3,132.1 1088.0,132.3 1088.7,132.8 1089.4,133.3 1090.1,134.7 1090.8,134.4 1091.6,134.8 1092.3,136.5 1093.0,136.1 1093.7,137.4 1094.5,137.0 1095.2,137.9 1096.0,138.2 1096.7,139.4 1097.4,139.6 1098.2,140.1 1099.0,140.8 1099.7,141.4 1100.5,141.2 1101.2,142.0 1102.0,142.3 1102.8,142.3 1103.5,143.7 1104.3,143.9 1105.1,144.6 1105.8,144.3 1106.6,145.2 1107.4,145.5 1108.1,146.3 1108.9,146.0 1109.7,146.8 1110.5,147.4 1111.2,147.3 1112.0,148.4 1112.8,149.0 1113.6,149.1 1114.3,149.8 1115.1,150.3 1115.9,150.2 1116.6,150.9 1117.4,152.1 1118.2,151.8 1118.9,152.4 1119.7,152.4 1120.5,153.0 1121.2,153.5 1122.0,154.8 1122.8,155.1 1123.5,155.7 1124.3,156.3 1125.1,156.4 1125.8,157.2 1126.6,157.2 1127.4,157.5 1128.1,158.6 1128.9,159.0 1129.7,159.6 1130.4,159.5 1131.2,160.3 1132.0,160.3 1132.8,161.4 1133.5,161.8 1134.3,161.5 1135.1,162.7 1135.9,162.2 1136.7,162.5 1137.5,163.7 1138.3,163.6 1139.1,164.3 1139.9,164.9 1140.7,164.6 1141.5,165.9 1142.2,165.8 1143.0,166.4 1143.8,166.7 1144.6,167.6 1145.4,168.1 1146.2,168.0 1147.0,168.2 1147.7,168.9 1148.5,169.5 1149.3,169.5 1150.1,170.1 1150.8,171.3 1151.6,171.7 1152.4,172.5 1153.1,173.0 1153.9,173.3 1154.6,173.2 1155.4,173.4 1156.1,174.1 1156.9,174.8 1157.6,175.4 1158.3,175.9 1159.1,176.2 1159.8,177.3 1160.6,177.1 1161.3,177.8 1162.0,178.8 1162.8,179.3 1163.5,179.2 1164.3,179.6 1165.0,180.8 1165.7,180.3 1166.5,181.0 1167.2,182.0 1168.0,182.5 1168.7,182.5 1169.5,182.9 1170.2,183.6 1171.0,184.8 1171.7,184.9 1172.5,186.0 1173.2,186.2 1174.0,187.0 1174.7,186.3 1175.5,187.0 1176.3,187.2 1177.0,188.2 1177.8,188.5 1178.6,188.7 1179.4,189.7 1180.2,189.6 1181.0,190.3 1181.8,190.7 1182.6,191.7 1183.4,191.7 1184.2,191.9 1185.0,192.1 1185.8,193.0 1186.6,193.6 1187.4,194.0 1188.2,194.7 1189.1,195.0 1189.9,194.6 1190.7,194.9 1191.6,196.0 1192.4,196.4 1193.2,196.4 1194.1,197.1 1194.9,197.1 1195.8,197.1 1196.6,197.3 1197.5,197.4 1198.3,198.4 1199.2,199.0 1200.0,199.3 1200.9,199.1 1201.8,199.6 1202.6,200.1 1203.5,200.2 1204.4,200.2 1205.2,200.2 1206.1,200.6 1207.0,200.4 1207.8,200.6 1208.7,201.4 1209.6,202.0 1210.5,201.6 1211.4,201.6 1212.2,201.7 1213.1,202.0 1214.0,202.5 1214.9,202.2 1215.8,203.0 1216.6,202.1 1217.5,202.4 1218.4,202.8 1219.3,202.7 1220.2,203.3 1221.1,203.4 1221.9,203.6 1222.8,203.3 1223.7,202.6 1224.6,203.3 1225.5,203.3 1226.4,203.3 1227.3,203.1 1228.2,203.6 1229.1,203.9 1229.9,202.9 1230.8,203.6 1231.7,203.2 1232.6,203.4 1233.5,203.8 1234.4,203.9 1235.3,203.5 1236.2,202.9 1237.1,203.7 1238.0,202.8 1238.9,203.0 1239.8,203.5 1240.7,202.8 1241.6,202.7 1242.5,203.5 1243.4,203.4 1244.3,202.6 1245.2,202.6 1246.1,202.4 1247.0,202.2 1247.9,202.2 1248.8,203.0 1249.7,201.9 1250.6,202.0 1251.5,201.8 1252.4,201.6 1253.3,202.1 1254.2,202.2 1255.1,202.3 1256.0,201.9 1256.9,202.0 1257.8,201.0 1258.7,201.2 1259.6,201.9 1260.5,200.8 1261.4,200.9 1262.3,201.1 1263.2,200.7 1264.1,201.0 1265.0,200.3 1265.9,200.4 1266.8,201.2 1267.7,200.1 1268.6,201.0 1269.5,200.0 1270.4,200.9 1271.3,200.4 1272.2,200.3 1273.1,199.7 1274.1,199.5 1275.0,200.3 1275.9,199.5 1276.8,199.4 1277.7,200.1 1278.6,200.1 1279.5,199.1 1280.4,200.1 1281.3,199.6 1282.2,199.4 1283.1,199.0 1284.0,199.3 1284.9,200.0 1285.8,199.1 1286.7,198.9 1287.6,198.9 1288.5,198.9 1289.4,199.1 1290.3,199.8 1291.2,198.8 1292.1,198.9 1293.0,199.8 1293.9,199.9 1294.8,199.9 1295.7,199.1 1296.6,199.2 1297.4,199.9 1298.3,199.4 1299.2,199.7 1300.1,199.3 1301.0,199.0 1301.9,199.4 1302.8,199.9 1303.7,200.0 1304.6,199.8 1305.5,199.7 1306.4,199.8 1307.3,199.8 1308.2,200.0 1309.1,200.4 1310.0,199.7 1310.9,200.2 1311.8,200.7 1312.7,200.7 1313.6,199.9 1314.5,200.9 1315.4,200.9 1316.3,200.1 1317.2,200.3 1318.0,200.3 1318.9,200.2 1319.8,201.4 1320.7,200.8 1321.6,201.5 1322.5,200.7 1323.4,200.6 1324.3,201.7 1325.2,201.7 1326.1,202.1 1327.0,201.8 1327.9,201.7 1328.8,202.1 1329.7,201.4 1330.6,202.0 1331.5,202.0 1332.4,201.7 1333.2,202.4 1334.1,202.1 1335.0,202.5 1335.9,202.4 1336.8,202.4 1337.7,202.6 1338.6,203.0 1339.5,203.5 1340.4,203.6 1341.3,203.6 1342.2,203.7 1343.1,203.1 1344.0,204.0 1344.9,203.3 1345.8,203.2 1346.7,203.8 1347.6,204.1 1348.5,203.8 1349.3,204.2 1350.2,203.9 1351.1,204.8 1352.0,204.3 1352.9,204.4 1353.8,204.5 1354.7,205.1 1355.6,205.3 1356.5,204.8 1357.4,204.8 1358.3,205.1 1359.2,204.5 1360.1,205.0 1361.0,205.6 1361.9,205.6 1362.8,204.8 1363.7,205.9 1364.6,205.4 1365.5,206.2 1366.4,205.5 1367.3,205.4 1368.2,205.9 1369.1,206.3 1370.0,205.9 1370.9,206.5 1371.8,206.3 1372.7,206.0 1373.5,206.0 1374.4,206.3 1375.3,206.2 1376.2,206.2 1377.1,206.6 1378.0,207.0 1378.9,206.7 1379.8,206.2 1380.7,206.3 1381.6,206.6 1382.5,206.9 1383.4,206.4 1384.3,206.4 1385.2,206.7 1386.1,206.7 1387.0,206.4 1387.9,207.1 1388.8,207.6 1389.7,207.2 1390.6,207.4 1391.5,207.6 1392.4,207.6 1393.3,207.8 1394.2,207.2 1395.1,207.5 1396.0,206.9 1396.9,207.8 1397.8,207.3 1398.7,207.4 1399.6,207.9 1400.5,207.2 1401.4,207.1 1402.3,207.9 1403.2,207.6 1404.1,207.0 1405.0,207.0 1405.9,207.4 1406.8,207.0 1407.7,208.0 1408.6,207.2 1409.5,207.3 1410.4,207.4 1411.3,207.6 1412.2,207.5 1413.1,207.7 1414.0,207.8 1414.9,207.5 1415.8,207.1 1416.7,208.1 1417.6,207.8 1418.5,207.0 1419.4,207.4 1420.3,207.8 1421.2,208.1 1422.1,206.9 1423.0,206.8 1423.9,207.4 1424.8,207.3 1425.7,207.8 1426.6,207.7 1427.5,207.1 1428.4,207.2 1429.3,207.3 1430.2,207.7 1431.1,206.8 1432.0,207.0 1432.9,206.6 1433.8,207.2 1434.7,206.4 1435.6,207.5 1436.5,206.9 1437.4,206.9 1438.3,206.3 1439.2,206.4 1440.0,206.6 1440.9,207.1 1441.8,206.6 1442.7,206.3 1443.6,207.1 1444.5,206.6 1445.4,206.4 1446.3,205.9 1447.2,205.9 1448.1,206.7 1449.0,205.6 1449.9,206.1 1450.8,206.1 1451.7,205.7 1452.6,206.2 1453.5,206.3 1454.4,206.2 1455.3,205.9 1456.2,205.1 1457.1,204.8 1458.0,205.3 1458.9,205.0 1459.8,204.8 1460.7,205.7 1461.6,204.6 1462.5,205.5 1463.4,205.6 1464.3,204.2 1465.2,205.4 1466.1,204.5 1467.0,204.1 1467.9,204.0 1468.8,203.7 1469.7,204.3 1470.6,204.1 1471.5,204.8 1472.4,204.7 1473.3,203.3 1474.2,203.8 1475.0,203.7 1475.9,203.2 1476.8,203.3 1477.7,203.2 1478.6,203.9 1479.5,203.2 1480.4,202.7 1481.3,202.8 1482.2,203.1 1483.1,203.2 1484.0,202.6 1484.9,203.3 1485.8,202.3 1486.7,203.1 1487.6,202.9 1488.5,202.0 1489.4,203.0 1490.3,202.3 1491.2,202.5 1492.1,202.5 1493.0,202.5 1493.9,202.0 1494.8,201.2 1495.7,202.6 1496.6,202.7 1497.5,201.8 1498.4,201.9 1499.3,201.2 1500.2,202.5 1501.1,202.0 1502.0,200.9 1502.9,202.1 1503.8,202.4 1504.7,201.0 1505.6,202.3 1506.5,201.1 1507.3,200.4 1508.2,201.5 1509.1,200.6 1510.0,201.4 1510.9,201.0 1511.8,199.9 1512.7,200.8 1513.6,201.5 1514.5,200.6 1515.4,200.6 1516.3,201.3 1517.2,200.3 1518.1,200.4 1519.0,200.6 1519.9,201.1 1520.8,199.6 1521.7,199.3 1522.6,200.8 1523.5,200.3 1524.4,199.6 1525.3,201.0 1526.2,201.0 1527.1,200.1 1528.0,201.2 1528.9,200.8 1529.8,200.5 1530.7,199.4 1531.6,198.6 1532.5,200.3 1533.4,200.4 1534.3,199.4 1535.2,199.7 1536.1,199.9 1537.0,199.1 1537.9,200.3 1538.8,199.9 1539.7,199.4 1540.6,198.7 1541.5,199.9 1542.4,199.3 1543.3,200.4 1544.2,198.9 1545.1,199.5 1546.0,198.9 1546.9,199.5 1547.8,200.0 1548.7,198.7 1549.6,198.6 1550.5,199.8 1551.4,199.1 1552.3,199.9 1553.2,199.0 1554.1,198.9 1555.0,200.1 1555.9,201.3 1556.8,201.2 1557.7,200.2 1558.6,199.9 1559.5,199.1 1560.4,199.7 1561.3,199.9 1562.2,201.7 1563.1,199.4 1564.0,201.8 1564.9,200.6 1565.8,200.6 1566.7,200.1 1567.6,202.2 1568.5,200.1 1569.4,201.3 1570.3,201.2 1571.2,200.4 1572.1,200.6 1573.0,202.8 1573.9,202.4 1574.8,202.3" fill="none" stroke="#1eff1e" stroke-width="2.3" stroke-linejoin="round"/>
<polyline points="897.5,589.1 898.4,588.1 899.3,589.3 900.2,587.8 901.1,587.1 901.9,588.6 902.8,591.1 903.7,590.4 904.6,590.0 905.5,587.1 906.4,588.7 907.3,587.2 908.2,586.7 909.1,586.3 910.0,586.8 910.9,590.5 911.8,590.0 912.7,589.9 913.6,589.9 914.5,586.8 915.4,587.5 916.3,589.2 917.2,589.8 918.1,590.5 919.0,590.6 919.9,586.6 920.8,589.3 921.7,589.7 922.6,588.9 923.5,587.2 924.4,588.8 925.2,586.8 926.1,591.2 927.0,590.8 927.9,589.2 928.8,587.8 929.7,590.9 930.6,589.1 931.5,590.6 932.4,590.3 933.3,588.4 934.2,587.8 935.1,588.5 935.9,587.4 936.8,585.8 937.7,586.3 938.6,588.7 939.5,584.4 940.3,584.2 941.2,586.9 942.1,584.8 943.0,585.8 943.8,585.2 944.7,584.3 945.5,587.4 946.4,583.0 947.2,583.8 948.1,582.5 948.9,584.5 949.8,582.5 950.6,582.7 951.4,584.6 952.2,582.3 953.0,583.4 953.8,585.2 954.6,581.0 955.4,580.8 956.2,581.8 956.9,584.7 957.7,584.1 958.4,582.3 959.1,583.1 959.9,582.6 960.6,584.3 961.3,582.5 962.0,586.1 962.7,587.3 963.4,587.8 964.2,586.7 964.9,587.9 965.6,582.9 966.4,584.2 967.1,587.5 967.8,586.3 968.6,584.0 969.3,586.4 970.0,584.3 970.7,584.9 971.5,581.7 972.2,580.6 972.9,581.3 973.6,579.1 974.2,579.7 974.9,582.0 975.6,578.1 976.2,575.8 976.9,575.3 977.5,575.2 978.1,577.4 978.7,574.6 979.2,573.6 979.8,572.0 980.3,575.1 980.8,571.9 981.3,570.2 981.8,568.9 982.3,568.1 982.8,567.8 983.2,569.0 983.7,566.2 984.1,565.1 984.5,566.0 984.9,564.3 985.3,566.2 985.6,562.3 986.0,562.9 986.3,562.9 986.7,560.9 987.0,561.9 987.3,559.4 987.6,557.9 987.9,557.6 988.2,555.6 988.5,555.9 988.7,554.6 989.0,555.6 989.3,554.6 989.5,552.8 989.7,550.6 990.0,550.4 990.2,549.5 990.4,548.5 990.6,547.8 990.8,548.6 991.0,545.8 991.2,544.7 991.3,546.1 991.5,544.3 991.7,544.5 991.9,542.1 992.0,542.5 992.2,541.0 992.3,540.4 992.5,539.4 992.6,537.9 992.7,536.1 992.9,535.5 993.0,536.1 993.1,535.3 993.3,534.4 993.4,532.2 993.5,532.0 993.6,531.4 993.7,530.2 993.8,529.7 994.0,528.2 994.1,527.5 994.2,526.7 994.3,524.9 994.4,525.4 994.5,524.6 994.6,521.8 994.7,522.8 994.8,521.9 995.0,520.4 995.1,518.2 995.2,519.0 995.3,516.6 995.4,517.3 995.5,515.9 995.6,513.8 995.7,513.1 995.8,513.1 995.9,512.1 996.0,511.5 996.1,510.9 996.2,508.8 996.3,507.5 996.4,508.2 996.5,505.7 996.6,506.3 996.7,504.1 996.8,504.4 996.9,503.5 997.0,502.7 997.1,501.3 997.2,500.9 997.2,498.9 997.3,498.8 997.4,497.3 997.5,497.3 997.6,496.2 997.7,494.9 997.8,494.1 997.9,492.4 998.0,491.5 998.0,491.5 998.1,490.4 998.2,490.1 998.3,488.8 998.4,487.2 998.5,486.6 998.5,486.3 998.6,485.1 998.7,483.5 998.8,483.7 998.9,482.8 999.0,480.9 999.0,480.6 999.1,479.5 999.2,479.2 999.3,477.6 999.3,476.6 999.4,476.1 999.5,475.8 999.6,473.8 999.6,472.9 999.7,472.6 999.8,472.1 999.9,470.7 999.9,469.7 1000.0,469.3 1000.1,468.3 1000.1,466.6 1000.2,466.7 1000.3,464.9 1000.4,464.2 1000.4,463.9 1000.5,462.5 1000.6,462.1 1000.6,460.4 1000.7,460.4 1000.8,458.6 1000.8,457.7 1000.9,457.2 1001.0,456.1 1001.0,455.5 1001.1,455.0 1001.1,453.9 1001.2,452.2 1001.3,451.6 1001.3,451.0 1001.4,450.0 1001.4,449.4 1001.5,448.2 1001.6,446.9 1001.6,446.2 1001.7,446.0 1001.7,444.5 1001.8,444.1 1001.8,443.5 1001.9,442.1 1002.0,441.3 1002.0,440.3 1002.1,439.1 1002.1,438.9 1002.2,437.5 1002.2,437.1 1002.3,435.5 1002.3,435.2 1002.4,434.2 1002.4,433.1 1002.5,432.0 1002.5,430.8 1002.6,430.6 1002.6,429.2 1002.7,428.7 1002.7,427.2 1002.8,426.2 1002.8,425.4 1002.9,425.3 1002.9,423.6 1003.0,423.6 1003.0,422.1 1003.0,421.4 1003.1,420.3 1003.1,419.7 1003.2,418.1 1003.2,417.6 1003.3,417.4 1003.3,415.6 1003.3,415.2 1003.4,413.9 1003.4,413.0 1003.5,411.8 1003.5,410.9 1003.5,411.1 1003.6,410.0 1003.6,409.1 1003.7,408.2 1003.7,407.5 1003.7,405.6 1003.8,405.3 1003.8,404.3 1003.8,403.4 1003.9,403.0 1003.9,401.9 1004.0,401.2 1004.0,399.3 1004.0,399.0 1004.1,398.2 1004.1,397.4 1004.1,396.3 1004.2,395.7 1004.2,394.1 1004.2,394.0 1004.2,392.5 1004.3,391.8 1004.3,391.3 1004.3,390.1 1004.4,388.7 1004.4,387.8 1004.4,387.0 1004.5,386.4 1004.5,386.0 1004.5,385.0 1004.5,383.5 1004.6,382.6 1004.6,382.2 1004.6,380.6 1004.7,379.9 1004.7,378.5 1004.7,377.8 1004.7,377.3 1004.8,376.6 1004.8,375.6 1004.8,374.4 1004.8,374.2 1004.9,372.9 1004.9,371.5 1004.9,370.5 1004.9,370.7 1005.0,369.8 1005.0,368.8 1005.0,367.5 1005.0,366.3 1005.0,365.1 1005.1,364.4 1005.1,363.5 1005.1,363.4 1005.1,362.5 1005.2,361.4 1005.2,359.8 1005.2,359.0 1005.2,358.1 1005.2,358.0 1005.3,356.2 1005.3,356.0 1005.3,355.0 1005.3,353.9 1005.4,353.5 1005.4,351.8 1005.4,351.2 1005.4,349.9 1005.4,348.9 1005.5,347.9 1005.5,347.4 1005.5,346.2 1005.5,345.3 1005.6,345.5 1005.6,343.7 1005.6,343.6 1005.6,342.4 1005.6,341.6 1005.7,340.6 1005.7,340.0 1005.7,339.0 1005.7,337.9 1005.8,336.9 1005.8,336.1 1005.8,335.3 1005.8,334.1 1005.9,333.2 1005.9,331.9 1005.9,331.8 1005.9,330.5 1006.0,329.1 1006.0,328.3 1006.0,328.2 1006.1,326.6 1006.1,325.9 1006.1,325.3 1006.1,324.6 1006.2,323.1 1006.2,322.2 1006.2,321.4 1006.3,320.0 1006.3,320.1 1006.3,318.2 1006.4,318.4 1006.4,316.6 1006.4,315.7 1006.5,315.6 1006.5,314.7 1006.5,313.1 1006.6,312.6 1006.6,311.6 1006.6,310.9 1006.7,309.4 1006.7,309.3 1006.7,308.6 1006.8,307.3 1006.8,306.7 1006.9,305.8 1006.9,304.2 1006.9,303.9 1007.0,303.0 1007.0,301.8 1007.1,300.3 1007.1,300.0 1007.2,299.5 1007.2,297.9 1007.2,297.4 1007.3,296.8 1007.3,295.5 1007.4,294.0 1007.4,293.8 1007.5,292.4 1007.5,292.2 1007.6,291.1 1007.6,289.8 1007.7,289.6 1007.7,288.4 1007.8,287.1 1007.8,286.8 1007.9,286.0 1007.9,285.1 1008.0,284.2 1008.1,283.0 1008.1,282.2 1008.2,281.2 1008.2,280.2 1008.3,279.8 1008.3,278.2 1008.4,276.9 1008.4,276.8 1008.5,275.6 1008.6,274.8 1008.6,274.0 1008.7,272.6 1008.7,271.7 1008.8,270.6 1008.9,270.6 1008.9,269.8 1009.0,268.7 1009.0,267.1 1009.1,267.2 1009.2,266.2 1009.2,264.9 1009.3,263.4 1009.3,263.5 1009.4,262.3 1009.4,261.4 1009.5,259.8 1009.6,259.8 1009.6,258.0 1009.7,257.7 1009.7,256.4 1009.8,255.7 1009.9,255.5 1009.9,254.4 1010.0,253.6 1010.0,252.1 1010.1,251.3 1010.2,250.6 1010.2,249.0 1010.3,248.6 1010.3,248.4 1010.4,247.2 1010.5,246.4 1010.5,244.9 1010.6,244.4 1010.6,243.7 1010.7,242.7 1010.7,241.4 1010.8,240.2 1010.9,239.1 1010.9,239.3 1011.0,238.5 1011.0,236.8 1011.1,236.4 1011.1,235.1 1011.2,234.5 1011.2,233.9 1011.3,232.3 1011.4,231.8 1011.4,230.5 1011.5,229.9 1011.5,228.4 1011.6,227.8 1011.6,226.9 1011.7,226.8 1011.7,224.9 1011.8,224.8 1011.8,223.1 1011.9,223.2 1011.9,221.4 1012.0,220.4 1012.0,219.6 1012.1,219.6 1012.1,218.4 1012.1,217.7 1012.2,216.4 1012.2,215.0 1012.3,214.4 1012.3,213.6 1012.4,213.4 1012.4,211.5 1012.5,210.7 1012.5,210.5 1012.6,208.7 1012.6,208.8 1012.7,207.1 1012.7,206.6 1012.8,205.8 1012.8,205.2 1012.9,203.3 1012.9,203.3 1013.0,201.6 1013.0,201.4 1013.0,199.6 1013.1,199.6 1013.1,198.0 1013.2,197.1 1013.2,196.0 1013.3,195.5 1013.3,194.6 1013.4,194.5 1013.4,193.1 1013.5,191.9 1013.5,191.8 1013.6,189.9 1013.7,189.1 1013.7,189.1 1013.8,188.2 1013.8,186.9 1013.9,186.4 1013.9,184.4 1014.0,184.5 1014.0,183.4 1014.1,182.4 1014.2,181.7 1014.2,180.0 1014.3,179.2 1014.3,178.2 1014.4,177.7 1014.4,176.9 1014.5,176.0 1014.6,174.9 1014.6,174.4 1014.7,173.7 1014.8,172.7 1014.8,170.9 1014.9,170.1 1015.0,169.3 1015.0,168.4 1015.1,167.9 1015.2,166.6 1015.3,166.2 1015.3,165.0 1015.4,164.1 1015.5,163.6 1015.5,163.0 1015.6,161.2 1015.7,160.5 1015.8,160.4 1015.9,158.5 1015.9,157.4 1016.0,156.7 1016.1,156.6 1016.2,155.6 1016.3,154.9 1016.4,153.5 1016.5,152.1 1016.6,151.5 1016.6,151.1 1016.7,149.8 1016.8,148.6 1016.9,148.0 1017.0,147.2 1017.1,146.2 1017.2,145.4 1017.3,144.1 1017.4,143.1 1017.5,143.1 1017.6,142.1 1017.7,140.9 1017.8,139.6 1017.9,138.9 1018.0,138.4 1018.1,137.9 1018.2,136.5 1018.3,136.2 1018.4,134.7 1018.5,133.4 1018.6,133.1 1018.7,132.1 1018.8,131.3 1018.9,130.5 1019.0,128.8 1019.1,128.4 1019.2,127.9 1019.3,126.2 1019.4,125.2 1019.5,124.5 1019.6,123.7 1019.7,123.0 1019.8,122.0 1019.9,121.5 1020.0,120.0 1020.1,119.4 1020.2,118.9 1020.3,117.8 1020.4,117.4 1020.5,116.5 1020.6,114.8 1020.7,114.0 1020.8,113.4 1021.0,112.5 1021.1,111.4 1021.2,111.1 1021.4,109.4 1021.6,108.8 1021.8,107.5 1022.0,107.6 1022.2,106.3 1022.4,105.9 1022.7,104.0 1023.0,103.8 1023.3,102.8 1023.6,101.2 1024.0,101.3 1024.3,100.5 1024.8,98.7 1025.2,98.9 1025.7,97.9 1026.2,96.9 1026.8,96.2 1027.4,95.3 1028.0,94.5 1028.7,94.6 1029.4,94.7 1030.2,93.7 1031.0,93.8 1031.8,93.5 1032.6,93.9 1033.4,94.3 1034.2,94.4 1035.0,93.8 1035.8,94.2 1036.6,94.1 1037.3,95.1 1038.0,95.9 1038.8,96.3 1039.5,95.9 1040.2,96.9 1040.9,97.1 1041.5,98.1 1042.2,99.4 1042.9,99.3 1043.5,100.7 1044.2,101.5 1044.8,102.1 1045.4,102.1 1046.0,103.7 1046.6,104.4 1047.2,105.2 1047.8,104.8 1048.4,105.5 1049.0,106.6 1049.6,107.5 1050.2,108.1 1050.7,108.5 1051.3,109.8 1051.9,110.5 1052.5,111.2 1053.0,111.7 1053.6,112.5 1054.1,113.3 1054.7,113.3 1055.3,114.4 1055.8,114.7 1056.4,115.3 1056.9,116.8 1057.5,117.0 1058.0,117.7 1058.6,118.3 1059.2,119.3 1059.7,119.4 1060.3,120.7 1060.9,120.7 1061.4,122.5 1062.0,122.2 1062.6,123.6 1063.1,124.0 1063.7,124.6 1064.3,125.1 1064.9,125.8 1065.5,127.0 1066.1,127.4 1066.7,128.1 1067.3,128.4 1067.8,129.6 1068.4,129.7 1069.0,130.7 1069.7,131.6 1070.3,132.2 1070.9,132.9 1071.5,133.5 1072.1,133.7 1072.7,135.3 1073.3,135.6 1074.0,136.3 1074.6,137.3 1075.2,137.3 1075.9,137.8 1076.5,138.4 1077.1,139.1 1077.8,139.7 1078.4,140.4 1079.1,140.9 1079.7,141.8 1080.4,142.2 1081.0,142.9 1081.7,143.9 1082.4,144.1 1083.0,145.3 1083.7,145.9 1084.4,145.9 1085.1,147.1 1085.7,146.9 1086.4,147.4 1087.1,149.0 1087.8,148.4 1088.5,149.0 1089.2,150.6 1089.9,150.1 1090.6,151.4 1091.3,151.9 1092.0,152.0 1092.7,152.6 1093.4,154.0 1094.2,153.8 1094.9,154.2 1095.6,155.0 1096.3,155.8 1097.1,155.8 1097.8,156.1 1098.5,157.5 1099.3,157.2 1100.0,157.6 1100.7,158.1 1101.5,159.8 1102.2,159.6 1103.0,160.4 1103.7,160.7 1104.5,161.7 1105.2,161.5 1106.0,161.9 1106.7,162.8 1107.5,162.5 1108.2,163.4 1109.0,164.4 1109.8,164.6 1110.5,165.0 1111.3,166.0 1112.1,165.9 1112.8,166.7 1113.6,166.8 1114.4,166.9 1115.1,167.7 1115.9,167.9 1116.7,168.2 1117.5,168.9 1118.2,169.2 1119.0,170.1 1119.8,170.8 1120.6,171.3 1121.4,171.9 1122.1,171.7 1122.9,172.6 1123.7,173.3 1124.5,173.1 1125.3,174.2 1126.0,173.7 1126.8,175.1 1127.6,175.5 1128.4,176.1 1129.2,176.3 1130.0,176.6 1130.7,176.8 1131.5,177.5 1132.3,178.2 1133.1,178.3 1133.9,178.7 1134.7,179.6 1135.5,179.2 1136.2,179.7 1137.0,179.8 1137.8,181.3 1138.6,181.4 1139.4,181.9 1140.2,181.8 1140.9,182.2 1141.7,183.0 1142.5,184.0 1143.3,183.8 1144.1,184.3 1144.8,184.8 1145.6,185.7 1146.4,185.3 1147.2,186.6 1148.0,186.1 1148.7,187.3 1149.5,187.9 1150.3,188.0 1151.1,188.8 1151.9,188.7 1152.6,188.9 1153.4,189.6 1154.2,190.0 1155.0,191.0 1155.7,191.2 1156.5,191.8 1157.3,192.6 1158.1,192.8 1158.9,193.3 1159.7,193.9 1160.4,194.3 1161.2,194.5 1162.0,194.5 1162.8,195.1 1163.6,195.9 1164.4,196.3 1165.2,196.9 1166.0,197.1 1166.8,197.4 1167.6,197.4 1168.4,198.2 1169.2,198.1 1170.0,199.1 1170.8,198.9 1171.6,199.1 1172.4,200.6 1173.2,200.9 1174.0,200.6 1174.8,200.7 1175.6,202.0 1176.5,202.4 1177.3,202.0 1178.1,203.2 1178.9,203.5 1179.8,203.6 1180.6,203.6 1181.4,203.7 1182.3,204.0 1183.1,204.8 1183.9,205.5 1184.8,205.7 1185.6,205.6 1186.5,206.6 1187.3,206.0 1188.2,207.0 1189.0,206.7 1189.9,206.8 1190.7,207.3 1191.6,208.3 1192.5,207.9 1193.3,208.0 1194.2,208.8 1195.0,208.9 1195.9,209.4 1196.8,209.6 1197.6,210.0 1198.5,210.5 1199.4,210.0 1200.2,210.6 1201.1,210.2 1202.0,210.5 1202.9,210.5 1203.7,211.6 1204.6,211.2 1205.5,211.8 1206.4,212.1 1207.2,211.7 1208.1,211.6 1209.0,211.8 1209.9,212.2 1210.8,212.2 1211.6,211.9 1212.5,212.9 1213.4,212.8 1214.3,213.1 1215.2,213.2 1216.0,213.1 1216.9,213.2 1217.8,213.1 1218.7,212.8 1219.6,213.3 1220.5,213.4 1221.3,212.5 1222.2,212.5 1223.1,212.5 1224.0,212.9 1224.9,213.3 1225.8,212.9 1226.7,213.3 1227.5,212.6 1228.4,212.8 1229.3,212.4 1230.2,212.8 1231.1,212.3 1232.0,211.9 1232.9,212.3 1233.8,212.4 1234.6,212.7 1235.5,211.9 1236.4,212.5 1237.3,212.3 1238.2,211.4 1239.1,212.0 1240.0,212.1 1240.9,212.0 1241.8,211.6 1242.7,211.1 1243.5,211.1 1244.4,211.1 1245.3,211.0 1246.2,210.3 1247.1,211.0 1248.0,210.4 1248.9,209.7 1249.8,209.8 1250.7,209.4 1251.6,209.7 1252.5,209.1 1253.4,209.5 1254.3,209.0 1255.2,209.5 1256.0,209.3 1256.9,208.4 1257.8,209.0 1258.7,208.6 1259.6,208.0 1260.5,208.6 1261.4,207.4 1262.3,207.7 1263.2,207.7 1264.1,207.0 1265.0,207.3 1265.9,207.6 1266.8,206.8 1267.7,207.0 1268.6,206.2 1269.5,207.0 1270.4,206.8 1271.3,205.7 1272.2,206.3 1273.1,205.6 1273.9,205.1 1274.8,205.2 1275.7,205.6 1276.6,205.2 1277.5,205.1 1278.4,204.5 1279.3,204.4 1280.2,204.5 1281.1,204.5 1282.0,204.8 1282.9,204.2 1283.8,203.9 1284.7,204.5 1285.6,204.1 1286.5,204.1 1287.4,204.1 1288.3,203.6 1289.2,203.2 1290.1,202.9 1291.0,203.5 1291.9,203.5 1292.8,203.6 1293.7,203.5 1294.6,202.9 1295.5,202.8 1296.4,203.3 1297.2,202.2 1298.1,202.5 1299.0,202.6 1299.9,202.6 1300.8,202.6 1301.7,201.9 1302.6,202.3 1303.5,201.8 1304.4,202.0 1305.3,201.7 1306.2,201.9 1307.1,202.2 1308.0,201.9 1308.9,201.5 1309.8,201.8 1310.7,202.0 1311.6,201.6 1312.5,201.5 1313.4,201.6 1314.3,201.9 1315.2,201.1 1316.1,201.8 1317.0,201.0 1317.9,202.0 1318.8,201.1 1319.7,201.9 1320.6,200.9 1321.5,201.4 1322.4,201.1 1323.2,201.7 1324.1,201.7 1325.0,200.9 1325.9,200.7 1326.8,201.5 1327.7,201.1 1328.6,201.1 1329.5,201.0 1330.4,201.0 1331.3,201.2 1332.2,201.0 1333.1,200.6 1334.0,201.0 1334.9,201.6 1335.8,201.3 1336.7,201.3 1337.6,201.5 1338.5,200.9 1339.4,200.8 1340.3,201.2 1341.2,200.4 1342.1,201.2 1343.0,200.4 1343.9,200.9 1344.8,200.8 1345.7,201.1 1346.6,200.2 1347.5,200.9 1348.4,201.0 1349.3,200.0 1350.2,200.8 1351.1,200.3 1352.0,200.8 1352.9,201.0 1353.7,199.8 1354.6,200.2 1355.5,200.3 1356.4,200.8 1357.3,200.7 1358.2,199.6 1359.1,199.7 1360.0,200.0 1360.9,200.4 1361.8,200.3 1362.7,200.0 1363.6,200.3 1364.5,200.2 1365.4,200.2 1366.3,199.8 1367.2,199.3 1368.1,199.8 1369.0,199.7 1369.9,199.9 1370.8,198.9 1371.7,198.6 1372.6,199.0 1373.5,198.8 1374.4,198.8 1375.3,198.4 1376.2,198.9 1377.1,198.6 1378.0,198.4 1378.9,198.1 1379.8,198.6 1380.7,197.9 1381.6,198.7 1382.5,197.9 1383.4,198.6 1384.2,197.5 1385.1,197.7 1386.0,198.1 1386.9,197.7 1387.8,197.5 1388.7,197.9 1389.6,196.9 1390.5,197.7 1391.4,197.1 1392.3,196.7 1393.2,196.7 1394.1,196.5 1395.0,196.8 1395.9,196.5 1396.8,196.4 1397.7,196.5 1398.6,196.6 1399.4,196.3 1400.3,195.7 1401.2,196.0 1402.1,195.9 1403.0,196.0 1403.9,195.2 1404.8,195.3 1405.7,195.4 1406.6,194.7 1407.5,194.6 1408.4,194.8 1409.2,194.4 1410.1,194.8 1411.0,194.0 1411.9,193.7 1412.8,194.0 1413.7,193.9 1414.6,194.2 1415.5,194.0 1416.4,193.2 1417.2,193.1 1418.1,193.1 1419.0,192.8 1419.9,192.7 1420.8,192.3 1421.7,192.7 1422.6,192.6 1423.4,192.3 1424.3,192.1 1425.2,192.1 1426.1,191.1 1427.0,191.8 1427.9,190.7 1428.7,190.4 1429.6,190.7 1430.5,190.1 1431.4,190.0 1432.3,190.3 1433.1,189.5 1434.0,189.6 1434.9,189.4 1435.8,189.9 1436.7,188.7 1437.5,189.0 1438.4,188.8 1439.3,188.2 1440.2,188.2 1441.0,188.0 1441.9,187.8 1442.8,187.9 1443.7,187.7 1444.5,187.3 1445.4,187.1 1446.3,187.1 1447.2,186.7 1448.0,186.1 1448.9,186.6 1449.8,186.0 1450.7,186.4 1451.5,185.2 1452.4,185.6 1453.3,185.0 1454.2,185.3 1455.0,185.3 1455.9,184.9 1456.8,184.5 1457.6,184.9 1458.5,183.6 1459.4,184.5 1460.3,183.5 1461.1,183.6 1462.0,182.6 1462.9,182.2 1463.7,182.2 1464.6,182.6 1465.5,181.9 1466.4,182.5 1467.2,181.3 1468.1,181.9 1469.0,182.1 1469.9,181.5 1470.7,181.7 1471.6,181.3 1472.5,181.2 1473.3,179.6 1474.2,180.2 1475.1,179.6 1476.0,179.6 1476.8,179.9 1477.7,179.7 1478.6,178.6 1479.5,178.3 1480.3,177.9 1481.2,178.9 1482.1,178.8 1483.0,177.3 1483.8,177.2 1484.7,177.0 1485.6,178.3 1486.5,176.4 1487.3,177.2 1488.2,177.5 1489.1,176.0 1490.0,176.8 1490.8,175.9 1491.7,176.3 1492.6,175.8 1493.5,174.9 1494.4,176.2 1495.2,175.3 1496.1,176.0 1497.0,175.1 1497.9,175.6 1498.7,174.8 1499.6,173.4 1500.5,173.1 1501.4,175.0 1502.3,174.1 1503.2,174.2 1504.0,174.2 1504.9,173.0 1505.8,173.5 1506.7,173.2 1507.6,171.8 1508.5,172.7 1509.4,173.4 1510.2,172.4 1511.1,172.7 1512.0,171.0 1512.9,171.6 1513.8,171.6 1514.7,171.6 1515.6,172.1 1516.5,171.1 1517.3,171.2 1518.2,170.9 1519.1,171.1 1520.0,170.8 1520.9,170.2 1521.8,169.8 1522.7,171.0 1523.6,169.7 1524.5,170.4 1525.4,169.2 1526.3,170.8 1527.1,168.8 1528.0,169.2 1528.9,168.9 1529.8,170.1 1530.7,169.6 1531.6,168.3 1532.5,168.1 1533.4,169.3 1534.3,168.4 1535.2,167.6 1536.1,167.3 1537.0,168.8 1537.9,168.5 1538.8,168.8 1539.7,166.8 1540.6,167.7 1541.5,166.7 1542.4,167.8 1543.2,166.8 1544.1,166.7 1545.0,167.5 1545.9,166.3 1546.8,167.9 1547.7,166.1 1548.6,166.3 1549.5,167.6 1550.4,166.1 1551.3,166.2 1552.2,167.4 1553.1,166.7 1554.0,167.4 1554.9,167.5 1555.8,167.6 1556.7,165.1 1557.6,165.9 1558.5,166.0 1559.4,165.5 1560.3,167.1 1561.2,165.7 1562.1,167.1 1562.9,164.7 1563.8,165.7 1564.7,166.1 1565.6,166.5 1566.5,165.6 1567.4,166.7 1568.3,165.0 1569.2,165.1 1570.1,164.6 1571.0,164.6 1571.9,165.4 1572.8,166.0 1573.7,164.5 1574.6,165.3" fill="none" stroke="#ff0000" stroke-width="2.3" stroke-linejoin="round"/>
<rect x="896.0" y="9.7" width="746.5" height="627.5" fill="none" stroke="#000" stroke-width="2.8"/>
<line x1="963.8" y1="637.2" x2="963.8" y2="632.4000000000001" stroke="#000" stroke-width="2.7" stroke-linecap="round"/>
<line x1="1031.6" y1="637.2" x2="1031.6" y2="626.9000000000001" stroke="#000" stroke-width="2.7" stroke-linecap="round"/>
<line x1="1099.4" y1="637.2" x2="1099.4" y2="632.4000000000001" stroke="#000" stroke-width="2.7" stroke-linecap="round"/>
<line x1="1167.2" y1="637.2" x2="1167.2" y2="626.9000000000001" stroke="#000" stroke-width="2.7" stroke-linecap="round"/>
<line x1="1235.0" y1="637.2" x2="1235.0" y2="632.4000000000001" stroke="#000" stroke-width="2.7" stroke-linecap="round"/>
<line x1="1302.8" y1="637.2" x2="1302.8" y2="626.9000000000001" stroke="#000" stroke-width="2.7" stroke-linecap="round"/>
<line x1="1370.6" y1="637.2" x2="1370.6" y2="632.4000000000001" stroke="#000" stroke-width="2.7" stroke-linecap="round"/>
<line x1="1438.4" y1="637.2" x2="1438.4" y2="626.9000000000001" stroke="#000" stroke-width="2.7" stroke-linecap="round"/>
<line x1="1506.2" y1="637.2" x2="1506.2" y2="632.4000000000001" stroke="#000" stroke-width="2.7" stroke-linecap="round"/>
<line x1="1574.0" y1="637.2" x2="1574.0" y2="626.9000000000001" stroke="#000" stroke-width="2.7" stroke-linecap="round"/>
<text transform="translate(896.00,667.90) scale(0.930,1)" font-size="22.5" text-anchor="middle" font-weight="normal" fill="#111" stroke="#111" stroke-width="0.45">300</text>
<text transform="translate(1031.60,667.90) scale(0.930,1)" font-size="22.5" text-anchor="middle" font-weight="normal" fill="#111" stroke="#111" stroke-width="0.45">400</text>
<text transform="translate(1167.20,667.90) scale(0.930,1)" font-size="22.5" text-anchor="middle" font-weight="normal" fill="#111" stroke="#111" stroke-width="0.45">500</text>
<text transform="translate(1302.80,667.90) scale(0.930,1)" font-size="22.5" text-anchor="middle" font-weight="normal" fill="#111" stroke="#111" stroke-width="0.45">600</text>
<text transform="translate(1438.40,667.90) scale(0.930,1)" font-size="22.5" text-anchor="middle" font-weight="normal" fill="#111" stroke="#111" stroke-width="0.45">700</text>
<text transform="translate(1574.00,667.90) scale(0.930,1)" font-size="22.5" text-anchor="middle" font-weight="normal" fill="#111" stroke="#111" stroke-width="0.45">800</text>
<line x1="896.0" y1="595.4" x2="885.7" y2="595.4" stroke="#000" stroke-width="2.7" stroke-linecap="round"/>
<line x1="896.0" y1="532.6" x2="891.2" y2="532.6" stroke="#000" stroke-width="2.7" stroke-linecap="round"/>
<line x1="896.0" y1="469.9" x2="885.7" y2="469.9" stroke="#000" stroke-width="2.7" stroke-linecap="round"/>
<line x1="896.0" y1="407.1" x2="891.2" y2="407.1" stroke="#000" stroke-width="2.7" stroke-linecap="round"/>
<line x1="896.0" y1="344.4" x2="885.7" y2="344.4" stroke="#000" stroke-width="2.7" stroke-linecap="round"/>
<line x1="896.0" y1="281.6" x2="891.2" y2="281.6" stroke="#000" stroke-width="2.7" stroke-linecap="round"/>
<line x1="896.0" y1="218.9" x2="885.7" y2="218.9" stroke="#000" stroke-width="2.7" stroke-linecap="round"/>
<line x1="896.0" y1="156.1" x2="891.2" y2="156.1" stroke="#000" stroke-width="2.7" stroke-linecap="round"/>
<line x1="896.0" y1="93.4" x2="885.7" y2="93.4" stroke="#000" stroke-width="2.7" stroke-linecap="round"/>
<line x1="896.0" y1="30.6" x2="891.2" y2="30.6" stroke="#000" stroke-width="2.7" stroke-linecap="round"/>
<text transform="translate(876.30,602.57) scale(0.950,1)" font-size="22.6" text-anchor="end" font-weight="normal" fill="#111" stroke="#111" stroke-width="0.45">3</text>
<text transform="translate(876.30,477.07) scale(0.950,1)" font-size="22.6" text-anchor="end" font-weight="normal" fill="#111" stroke="#111" stroke-width="0.45">6</text>
<text transform="translate(876.30,351.57) scale(0.950,1)" font-size="22.6" text-anchor="end" font-weight="normal" fill="#111" stroke="#111" stroke-width="0.45">9</text>
<text transform="translate(876.30,226.07) scale(0.950,1)" font-size="22.6" text-anchor="end" font-weight="normal" fill="#111" stroke="#111" stroke-width="0.45">12</text>
<text transform="translate(876.30,100.57) scale(0.950,1)" font-size="22.6" text-anchor="end" font-weight="normal" fill="#111" stroke="#111" stroke-width="0.45">15</text>
<text transform="translate(1595.40,59.20) scale(0.800,1)" font-size="48.3" text-anchor="start" font-weight="bold" fill="#000">B</text>
<text transform="translate(1625.70,57.90) scale(0.860,1)" font-size="49" text-anchor="start" font-weight="bold" fill="#000">)</text>
<text transform="translate(1209.50,696.70) scale(0.885,1)" font-size="24.5" text-anchor="start" font-weight="normal" fill="#111" stroke="#111" stroke-width="0.45">Wavelength</text>
<text transform="translate(854.20,381.80) rotate(-90) scale(0.930,1)" font-size="23.5" text-anchor="start" font-weight="normal" fill="#111" stroke="#111" stroke-width="0.45">Reflectance</text>
</g>
</svg>
</body></html>
